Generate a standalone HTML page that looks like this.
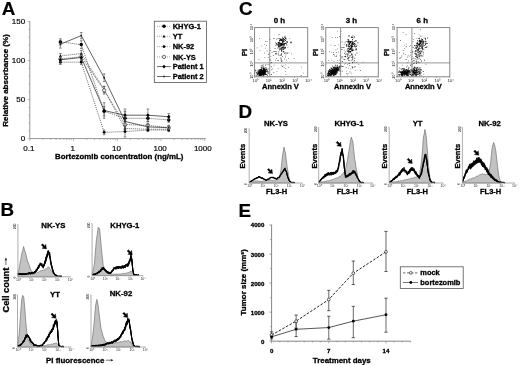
<!DOCTYPE html>
<html><head><meta charset="utf-8"><title>Figure</title>
<style>html,body{margin:0;padding:0;background:#fff;}body{width:520px;height:365px;overflow:hidden;}svg{display:block;font-family:"Liberation Sans",sans-serif;}</style></head><body>
<svg width="520" height="365" viewBox="0 0 520 365">
<rect width="520" height="365" fill="#fff"/>
<defs><filter id="soft" x="0" y="0" width="520" height="365" filterUnits="userSpaceOnUse"><feGaussianBlur stdDeviation="0.32"/></filter></defs>
<g id="fig" filter="url(#soft)">
<text x="1.7" y="15.1" font-size="18.8" font-weight="bold" text-anchor="start" fill="#000" stroke="#000" stroke-width="0.2">A</text>
<line x1="29.8" y1="21.1" x2="29.8" y2="138.6" stroke="#8a8a8a" stroke-width="0.9"/>
<line x1="29.8" y1="138.6" x2="205.6" y2="138.6" stroke="#8a8a8a" stroke-width="0.9"/>
<line x1="27.6" y1="138.6" x2="29.8" y2="138.6" stroke="#8a8a8a" stroke-width="0.6"/>
<line x1="28.6" y1="130.8" x2="29.8" y2="130.8" stroke="#8a8a8a" stroke-width="0.6"/>
<line x1="28.6" y1="123" x2="29.8" y2="123" stroke="#8a8a8a" stroke-width="0.6"/>
<line x1="28.6" y1="115.2" x2="29.8" y2="115.2" stroke="#8a8a8a" stroke-width="0.6"/>
<line x1="28.6" y1="107.4" x2="29.8" y2="107.4" stroke="#8a8a8a" stroke-width="0.6"/>
<line x1="27.6" y1="99.6" x2="29.8" y2="99.6" stroke="#8a8a8a" stroke-width="0.6"/>
<line x1="28.6" y1="91.8" x2="29.8" y2="91.8" stroke="#8a8a8a" stroke-width="0.6"/>
<line x1="28.6" y1="84" x2="29.8" y2="84" stroke="#8a8a8a" stroke-width="0.6"/>
<line x1="28.6" y1="76.2" x2="29.8" y2="76.2" stroke="#8a8a8a" stroke-width="0.6"/>
<line x1="28.6" y1="68.4" x2="29.8" y2="68.4" stroke="#8a8a8a" stroke-width="0.6"/>
<line x1="27.6" y1="60.6" x2="29.8" y2="60.6" stroke="#8a8a8a" stroke-width="0.6"/>
<line x1="28.6" y1="52.8" x2="29.8" y2="52.8" stroke="#8a8a8a" stroke-width="0.6"/>
<line x1="28.6" y1="45" x2="29.8" y2="45" stroke="#8a8a8a" stroke-width="0.6"/>
<line x1="28.6" y1="37.2" x2="29.8" y2="37.2" stroke="#8a8a8a" stroke-width="0.6"/>
<line x1="28.6" y1="29.4" x2="29.8" y2="29.4" stroke="#8a8a8a" stroke-width="0.6"/>
<line x1="27.6" y1="21.6" x2="29.8" y2="21.6" stroke="#8a8a8a" stroke-width="0.6"/>
<text x="25.2" y="141.2" font-size="8.0" font-weight="normal" text-anchor="end" fill="#000" stroke="#000" stroke-width="0.18">0</text>
<text x="25.2" y="102.2" font-size="8.0" font-weight="normal" text-anchor="end" fill="#000" stroke="#000" stroke-width="0.18">50</text>
<text x="25.2" y="63.2" font-size="8.0" font-weight="normal" text-anchor="end" fill="#000" stroke="#000" stroke-width="0.18">100</text>
<text x="25.2" y="24.2" font-size="8.0" font-weight="normal" text-anchor="end" fill="#000" stroke="#000" stroke-width="0.18">150</text>
<line x1="29.8" y1="138.6" x2="29.8" y2="141" stroke="#8a8a8a" stroke-width="0.6"/>
<line x1="42.97" y1="138.6" x2="42.97" y2="139.9" stroke="#8a8a8a" stroke-width="0.6"/>
<line x1="50.67" y1="138.6" x2="50.67" y2="139.9" stroke="#8a8a8a" stroke-width="0.6"/>
<line x1="56.14" y1="138.6" x2="56.14" y2="139.9" stroke="#8a8a8a" stroke-width="0.6"/>
<line x1="60.38" y1="138.6" x2="60.38" y2="139.9" stroke="#8a8a8a" stroke-width="0.6"/>
<line x1="63.84" y1="138.6" x2="63.84" y2="139.9" stroke="#8a8a8a" stroke-width="0.6"/>
<line x1="66.77" y1="138.6" x2="66.77" y2="139.9" stroke="#8a8a8a" stroke-width="0.6"/>
<line x1="69.31" y1="138.6" x2="69.31" y2="139.9" stroke="#8a8a8a" stroke-width="0.6"/>
<line x1="71.55" y1="138.6" x2="71.55" y2="139.9" stroke="#8a8a8a" stroke-width="0.6"/>
<line x1="73.55" y1="138.6" x2="73.55" y2="141" stroke="#8a8a8a" stroke-width="0.6"/>
<line x1="86.72" y1="138.6" x2="86.72" y2="139.9" stroke="#8a8a8a" stroke-width="0.6"/>
<line x1="94.42" y1="138.6" x2="94.42" y2="139.9" stroke="#8a8a8a" stroke-width="0.6"/>
<line x1="99.89" y1="138.6" x2="99.89" y2="139.9" stroke="#8a8a8a" stroke-width="0.6"/>
<line x1="104.13" y1="138.6" x2="104.13" y2="139.9" stroke="#8a8a8a" stroke-width="0.6"/>
<line x1="107.59" y1="138.6" x2="107.59" y2="139.9" stroke="#8a8a8a" stroke-width="0.6"/>
<line x1="110.52" y1="138.6" x2="110.52" y2="139.9" stroke="#8a8a8a" stroke-width="0.6"/>
<line x1="113.06" y1="138.6" x2="113.06" y2="139.9" stroke="#8a8a8a" stroke-width="0.6"/>
<line x1="115.3" y1="138.6" x2="115.3" y2="139.9" stroke="#8a8a8a" stroke-width="0.6"/>
<line x1="117.3" y1="138.6" x2="117.3" y2="141" stroke="#8a8a8a" stroke-width="0.6"/>
<line x1="130.47" y1="138.6" x2="130.47" y2="139.9" stroke="#8a8a8a" stroke-width="0.6"/>
<line x1="138.17" y1="138.6" x2="138.17" y2="139.9" stroke="#8a8a8a" stroke-width="0.6"/>
<line x1="143.64" y1="138.6" x2="143.64" y2="139.9" stroke="#8a8a8a" stroke-width="0.6"/>
<line x1="147.88" y1="138.6" x2="147.88" y2="139.9" stroke="#8a8a8a" stroke-width="0.6"/>
<line x1="151.34" y1="138.6" x2="151.34" y2="139.9" stroke="#8a8a8a" stroke-width="0.6"/>
<line x1="154.27" y1="138.6" x2="154.27" y2="139.9" stroke="#8a8a8a" stroke-width="0.6"/>
<line x1="156.81" y1="138.6" x2="156.81" y2="139.9" stroke="#8a8a8a" stroke-width="0.6"/>
<line x1="159.05" y1="138.6" x2="159.05" y2="139.9" stroke="#8a8a8a" stroke-width="0.6"/>
<line x1="161.05" y1="138.6" x2="161.05" y2="141" stroke="#8a8a8a" stroke-width="0.6"/>
<line x1="174.22" y1="138.6" x2="174.22" y2="139.9" stroke="#8a8a8a" stroke-width="0.6"/>
<line x1="181.92" y1="138.6" x2="181.92" y2="139.9" stroke="#8a8a8a" stroke-width="0.6"/>
<line x1="187.39" y1="138.6" x2="187.39" y2="139.9" stroke="#8a8a8a" stroke-width="0.6"/>
<line x1="191.63" y1="138.6" x2="191.63" y2="139.9" stroke="#8a8a8a" stroke-width="0.6"/>
<line x1="195.09" y1="138.6" x2="195.09" y2="139.9" stroke="#8a8a8a" stroke-width="0.6"/>
<line x1="198.02" y1="138.6" x2="198.02" y2="139.9" stroke="#8a8a8a" stroke-width="0.6"/>
<line x1="200.56" y1="138.6" x2="200.56" y2="139.9" stroke="#8a8a8a" stroke-width="0.6"/>
<line x1="202.8" y1="138.6" x2="202.8" y2="139.9" stroke="#8a8a8a" stroke-width="0.6"/>
<line x1="204.8" y1="138.6" x2="204.8" y2="141" stroke="#8a8a8a" stroke-width="0.6"/>
<text x="28.9" y="151.2" font-size="8.0" font-weight="normal" text-anchor="middle" fill="#000" stroke="#000" stroke-width="0.18">0.1</text>
<text x="72.65" y="151.2" font-size="8.0" font-weight="normal" text-anchor="middle" fill="#000" stroke="#000" stroke-width="0.18">1</text>
<text x="116.4" y="151.2" font-size="8.0" font-weight="normal" text-anchor="middle" fill="#000" stroke="#000" stroke-width="0.18">10</text>
<text x="160.15" y="151.2" font-size="8.0" font-weight="normal" text-anchor="middle" fill="#000" stroke="#000" stroke-width="0.18">100</text>
<text x="202.8" y="151.2" font-size="8.0" font-weight="normal" text-anchor="middle" fill="#000" stroke="#000" stroke-width="0.18">1000</text>
<text x="119.2" y="158.7" font-size="7.86" font-weight="bold" text-anchor="middle" fill="#000" stroke="#000" stroke-width="0.3">Bortezomib concentration (ng/mL)</text>
<text x="8.2" y="80.5" font-size="8.0" font-weight="bold" text-anchor="middle" fill="#000" transform="rotate(-90 8.2 80.5)" stroke="#000" stroke-width="0.3">Relative absorbance (%)</text>
<polyline points="60.38,41.88 81.25,44.61 104.13,111.3 125,118.32 147.88,118.32 168.75,119.88" fill="none" stroke="#444" stroke-width="0.8" stroke-linejoin="round" stroke-dasharray="1 1"/>
<polyline points="60.38,55.92 81.25,53.58 104.13,89.46 125,128.46 147.88,129.24 168.75,129.24" fill="none" stroke="#444" stroke-width="0.8" stroke-linejoin="round" stroke-dasharray="1 1"/>
<polyline points="60.38,62.16 81.25,62.16 104.13,132.36 125,131.58 147.88,130.02 168.75,130.02" fill="none" stroke="#444" stroke-width="0.8" stroke-linejoin="round" stroke-dasharray="1 1"/>
<polyline points="60.38,59.04 81.25,56.7 104.13,90.24 125,124.56 147.88,125.34 168.75,127.68" fill="none" stroke="#444" stroke-width="0.8" stroke-linejoin="round" stroke-dasharray="1 1"/>
<polyline points="60.38,59.82 81.25,57.48 104.13,110.52 125,115.2 147.88,115.2 168.75,116.76" fill="none" stroke="#3a3a3a" stroke-width="0.8" stroke-linejoin="round"/>
<polyline points="60.38,44.22 81.25,35.64 104.13,77.76 125,121.44 147.88,126.9 168.75,127.68" fill="none" stroke="#3a3a3a" stroke-width="0.8" stroke-linejoin="round"/>
<line x1="60.38" y1="38.76" x2="60.38" y2="45" stroke="#444" stroke-width="0.6"/>
<line x1="59.08" y1="38.76" x2="61.68" y2="38.76" stroke="#444" stroke-width="0.6"/>
<line x1="59.08" y1="45" x2="61.68" y2="45" stroke="#444" stroke-width="0.6"/>
<circle cx="60.38" cy="41.88" r="1.75" fill="#000"/>
<line x1="81.25" y1="40.71" x2="81.25" y2="48.51" stroke="#444" stroke-width="0.6"/>
<line x1="79.95" y1="40.71" x2="82.55" y2="40.71" stroke="#444" stroke-width="0.6"/>
<line x1="79.95" y1="48.51" x2="82.55" y2="48.51" stroke="#444" stroke-width="0.6"/>
<circle cx="81.25" cy="44.61" r="1.75" fill="#000"/>
<line x1="104.13" y1="106.62" x2="104.13" y2="115.98" stroke="#444" stroke-width="0.6"/>
<line x1="102.83" y1="106.62" x2="105.43" y2="106.62" stroke="#444" stroke-width="0.6"/>
<line x1="102.83" y1="115.98" x2="105.43" y2="115.98" stroke="#444" stroke-width="0.6"/>
<circle cx="104.13" cy="111.3" r="1.75" fill="#000"/>
<line x1="125" y1="111.3" x2="125" y2="125.34" stroke="#444" stroke-width="0.6"/>
<line x1="123.7" y1="111.3" x2="126.3" y2="111.3" stroke="#444" stroke-width="0.6"/>
<line x1="123.7" y1="125.34" x2="126.3" y2="125.34" stroke="#444" stroke-width="0.6"/>
<circle cx="125" cy="118.32" r="1.75" fill="#000"/>
<line x1="147.88" y1="115.2" x2="147.88" y2="121.44" stroke="#444" stroke-width="0.6"/>
<line x1="146.58" y1="115.2" x2="149.18" y2="115.2" stroke="#444" stroke-width="0.6"/>
<line x1="146.58" y1="121.44" x2="149.18" y2="121.44" stroke="#444" stroke-width="0.6"/>
<circle cx="147.88" cy="118.32" r="1.75" fill="#000"/>
<line x1="168.75" y1="117.54" x2="168.75" y2="122.22" stroke="#444" stroke-width="0.6"/>
<line x1="167.45" y1="117.54" x2="170.05" y2="117.54" stroke="#444" stroke-width="0.6"/>
<line x1="167.45" y1="122.22" x2="170.05" y2="122.22" stroke="#444" stroke-width="0.6"/>
<circle cx="168.75" cy="119.88" r="1.75" fill="#000"/>
<line x1="60.38" y1="53.58" x2="60.38" y2="58.26" stroke="#444" stroke-width="0.6"/>
<line x1="59.08" y1="53.58" x2="61.68" y2="53.58" stroke="#444" stroke-width="0.6"/>
<line x1="59.08" y1="58.26" x2="61.68" y2="58.26" stroke="#444" stroke-width="0.6"/>
<polygon points="60.38,54.42 58.98,57.12 61.78,57.12" fill="#000"/>
<line x1="81.25" y1="50.46" x2="81.25" y2="56.7" stroke="#444" stroke-width="0.6"/>
<line x1="79.95" y1="50.46" x2="82.55" y2="50.46" stroke="#444" stroke-width="0.6"/>
<line x1="79.95" y1="56.7" x2="82.55" y2="56.7" stroke="#444" stroke-width="0.6"/>
<polygon points="81.25,52.08 79.85,54.78 82.65,54.78" fill="#000"/>
<line x1="104.13" y1="86.34" x2="104.13" y2="92.58" stroke="#444" stroke-width="0.6"/>
<line x1="102.83" y1="86.34" x2="105.43" y2="86.34" stroke="#444" stroke-width="0.6"/>
<line x1="102.83" y1="92.58" x2="105.43" y2="92.58" stroke="#444" stroke-width="0.6"/>
<polygon points="104.13,87.96 102.73,90.66 105.53,90.66" fill="#000"/>
<line x1="125" y1="125.34" x2="125" y2="131.58" stroke="#444" stroke-width="0.6"/>
<line x1="123.7" y1="125.34" x2="126.3" y2="125.34" stroke="#444" stroke-width="0.6"/>
<line x1="123.7" y1="131.58" x2="126.3" y2="131.58" stroke="#444" stroke-width="0.6"/>
<polygon points="125,126.96 123.6,129.66 126.4,129.66" fill="#000"/>
<line x1="147.88" y1="127.68" x2="147.88" y2="130.8" stroke="#444" stroke-width="0.6"/>
<line x1="146.58" y1="127.68" x2="149.18" y2="127.68" stroke="#444" stroke-width="0.6"/>
<line x1="146.58" y1="130.8" x2="149.18" y2="130.8" stroke="#444" stroke-width="0.6"/>
<polygon points="147.88,127.74 146.48,130.44 149.28,130.44" fill="#000"/>
<line x1="168.75" y1="127.68" x2="168.75" y2="130.8" stroke="#444" stroke-width="0.6"/>
<line x1="167.45" y1="127.68" x2="170.05" y2="127.68" stroke="#444" stroke-width="0.6"/>
<line x1="167.45" y1="130.8" x2="170.05" y2="130.8" stroke="#444" stroke-width="0.6"/>
<polygon points="168.75,127.74 167.35,130.44 170.15,130.44" fill="#000"/>
<line x1="60.38" y1="59.82" x2="60.38" y2="64.5" stroke="#444" stroke-width="0.6"/>
<line x1="59.08" y1="59.82" x2="61.68" y2="59.82" stroke="#444" stroke-width="0.6"/>
<line x1="59.08" y1="64.5" x2="61.68" y2="64.5" stroke="#444" stroke-width="0.6"/>
<circle cx="60.38" cy="62.16" r="1.4" fill="#000"/>
<line x1="81.25" y1="59.82" x2="81.25" y2="64.5" stroke="#444" stroke-width="0.6"/>
<line x1="79.95" y1="59.82" x2="82.55" y2="59.82" stroke="#444" stroke-width="0.6"/>
<line x1="79.95" y1="64.5" x2="82.55" y2="64.5" stroke="#444" stroke-width="0.6"/>
<circle cx="81.25" cy="62.16" r="1.4" fill="#000"/>
<line x1="104.13" y1="130.02" x2="104.13" y2="134.7" stroke="#444" stroke-width="0.6"/>
<line x1="102.83" y1="130.02" x2="105.43" y2="130.02" stroke="#444" stroke-width="0.6"/>
<line x1="102.83" y1="134.7" x2="105.43" y2="134.7" stroke="#444" stroke-width="0.6"/>
<circle cx="104.13" cy="132.36" r="1.4" fill="#000"/>
<line x1="125" y1="126.12" x2="125" y2="137.04" stroke="#444" stroke-width="0.6"/>
<line x1="123.7" y1="126.12" x2="126.3" y2="126.12" stroke="#444" stroke-width="0.6"/>
<line x1="123.7" y1="137.04" x2="126.3" y2="137.04" stroke="#444" stroke-width="0.6"/>
<circle cx="125" cy="131.58" r="1.4" fill="#000"/>
<line x1="147.88" y1="128.46" x2="147.88" y2="131.58" stroke="#444" stroke-width="0.6"/>
<line x1="146.58" y1="128.46" x2="149.18" y2="128.46" stroke="#444" stroke-width="0.6"/>
<line x1="146.58" y1="131.58" x2="149.18" y2="131.58" stroke="#444" stroke-width="0.6"/>
<circle cx="147.88" cy="130.02" r="1.4" fill="#000"/>
<line x1="168.75" y1="128.46" x2="168.75" y2="131.58" stroke="#444" stroke-width="0.6"/>
<line x1="167.45" y1="128.46" x2="170.05" y2="128.46" stroke="#444" stroke-width="0.6"/>
<line x1="167.45" y1="131.58" x2="170.05" y2="131.58" stroke="#444" stroke-width="0.6"/>
<circle cx="168.75" cy="130.02" r="1.4" fill="#000"/>
<line x1="60.38" y1="56.7" x2="60.38" y2="61.38" stroke="#444" stroke-width="0.6"/>
<line x1="59.08" y1="56.7" x2="61.68" y2="56.7" stroke="#444" stroke-width="0.6"/>
<line x1="59.08" y1="61.38" x2="61.68" y2="61.38" stroke="#444" stroke-width="0.6"/>
<circle cx="60.38" cy="59.04" r="1.7" fill="#e8e8e8" stroke="#444" stroke-width="0.7"/>
<line x1="81.25" y1="53.58" x2="81.25" y2="59.82" stroke="#444" stroke-width="0.6"/>
<line x1="79.95" y1="53.58" x2="82.55" y2="53.58" stroke="#444" stroke-width="0.6"/>
<line x1="79.95" y1="59.82" x2="82.55" y2="59.82" stroke="#444" stroke-width="0.6"/>
<circle cx="81.25" cy="56.7" r="1.7" fill="#e8e8e8" stroke="#444" stroke-width="0.7"/>
<line x1="104.13" y1="86.34" x2="104.13" y2="94.14" stroke="#444" stroke-width="0.6"/>
<line x1="102.83" y1="86.34" x2="105.43" y2="86.34" stroke="#444" stroke-width="0.6"/>
<line x1="102.83" y1="94.14" x2="105.43" y2="94.14" stroke="#444" stroke-width="0.6"/>
<circle cx="104.13" cy="90.24" r="1.7" fill="#e8e8e8" stroke="#444" stroke-width="0.7"/>
<line x1="125" y1="120.66" x2="125" y2="128.46" stroke="#444" stroke-width="0.6"/>
<line x1="123.7" y1="120.66" x2="126.3" y2="120.66" stroke="#444" stroke-width="0.6"/>
<line x1="123.7" y1="128.46" x2="126.3" y2="128.46" stroke="#444" stroke-width="0.6"/>
<circle cx="125" cy="124.56" r="1.7" fill="#e8e8e8" stroke="#444" stroke-width="0.7"/>
<line x1="147.88" y1="123" x2="147.88" y2="127.68" stroke="#444" stroke-width="0.6"/>
<line x1="146.58" y1="123" x2="149.18" y2="123" stroke="#444" stroke-width="0.6"/>
<line x1="146.58" y1="127.68" x2="149.18" y2="127.68" stroke="#444" stroke-width="0.6"/>
<circle cx="147.88" cy="125.34" r="1.7" fill="#e8e8e8" stroke="#444" stroke-width="0.7"/>
<line x1="168.75" y1="126.12" x2="168.75" y2="129.24" stroke="#444" stroke-width="0.6"/>
<line x1="167.45" y1="126.12" x2="170.05" y2="126.12" stroke="#444" stroke-width="0.6"/>
<line x1="167.45" y1="129.24" x2="170.05" y2="129.24" stroke="#444" stroke-width="0.6"/>
<circle cx="168.75" cy="127.68" r="1.7" fill="#e8e8e8" stroke="#444" stroke-width="0.7"/>
<line x1="60.38" y1="56.7" x2="60.38" y2="62.94" stroke="#444" stroke-width="0.6"/>
<line x1="59.08" y1="56.7" x2="61.68" y2="56.7" stroke="#444" stroke-width="0.6"/>
<line x1="59.08" y1="62.94" x2="61.68" y2="62.94" stroke="#444" stroke-width="0.6"/>
<polygon points="60.38,57.92 62.08,59.82 60.38,61.72 58.68,59.82" fill="#000"/>
<line x1="81.25" y1="54.36" x2="81.25" y2="60.6" stroke="#444" stroke-width="0.6"/>
<line x1="79.95" y1="54.36" x2="82.55" y2="54.36" stroke="#444" stroke-width="0.6"/>
<line x1="79.95" y1="60.6" x2="82.55" y2="60.6" stroke="#444" stroke-width="0.6"/>
<polygon points="81.25,55.58 82.95,57.48 81.25,59.38 79.55,57.48" fill="#000"/>
<line x1="104.13" y1="102.72" x2="104.13" y2="118.32" stroke="#444" stroke-width="0.6"/>
<line x1="102.83" y1="102.72" x2="105.43" y2="102.72" stroke="#444" stroke-width="0.6"/>
<line x1="102.83" y1="118.32" x2="105.43" y2="118.32" stroke="#444" stroke-width="0.6"/>
<polygon points="104.13,108.62 105.83,110.52 104.13,112.42 102.43,110.52" fill="#000"/>
<line x1="125" y1="108.96" x2="125" y2="121.44" stroke="#444" stroke-width="0.6"/>
<line x1="123.7" y1="108.96" x2="126.3" y2="108.96" stroke="#444" stroke-width="0.6"/>
<line x1="123.7" y1="121.44" x2="126.3" y2="121.44" stroke="#444" stroke-width="0.6"/>
<polygon points="125,113.3 126.7,115.2 125,117.1 123.3,115.2" fill="#000"/>
<line x1="147.88" y1="108.96" x2="147.88" y2="121.44" stroke="#444" stroke-width="0.6"/>
<line x1="146.58" y1="108.96" x2="149.18" y2="108.96" stroke="#444" stroke-width="0.6"/>
<line x1="146.58" y1="121.44" x2="149.18" y2="121.44" stroke="#444" stroke-width="0.6"/>
<polygon points="147.88,113.3 149.58,115.2 147.88,117.1 146.18,115.2" fill="#000"/>
<line x1="168.75" y1="113.64" x2="168.75" y2="119.88" stroke="#444" stroke-width="0.6"/>
<line x1="167.45" y1="113.64" x2="170.05" y2="113.64" stroke="#444" stroke-width="0.6"/>
<line x1="167.45" y1="119.88" x2="170.05" y2="119.88" stroke="#444" stroke-width="0.6"/>
<polygon points="168.75,114.86 170.45,116.76 168.75,118.66 167.05,116.76" fill="#000"/>
<line x1="60.38" y1="40.32" x2="60.38" y2="48.12" stroke="#444" stroke-width="0.6"/>
<line x1="59.08" y1="40.32" x2="61.68" y2="40.32" stroke="#444" stroke-width="0.6"/>
<line x1="59.08" y1="48.12" x2="61.68" y2="48.12" stroke="#444" stroke-width="0.6"/>
<rect x="59.58" y="43.42" width="1.6" height="1.6" fill="#222"/>
<line x1="81.25" y1="32.52" x2="81.25" y2="38.76" stroke="#444" stroke-width="0.6"/>
<line x1="79.95" y1="32.52" x2="82.55" y2="32.52" stroke="#444" stroke-width="0.6"/>
<line x1="79.95" y1="38.76" x2="82.55" y2="38.76" stroke="#444" stroke-width="0.6"/>
<rect x="80.45" y="34.84" width="1.6" height="1.6" fill="#222"/>
<line x1="104.13" y1="73.86" x2="104.13" y2="81.66" stroke="#444" stroke-width="0.6"/>
<line x1="102.83" y1="73.86" x2="105.43" y2="73.86" stroke="#444" stroke-width="0.6"/>
<line x1="102.83" y1="81.66" x2="105.43" y2="81.66" stroke="#444" stroke-width="0.6"/>
<rect x="103.33" y="76.96" width="1.6" height="1.6" fill="#222"/>
<line x1="125" y1="116.76" x2="125" y2="126.12" stroke="#444" stroke-width="0.6"/>
<line x1="123.7" y1="116.76" x2="126.3" y2="116.76" stroke="#444" stroke-width="0.6"/>
<line x1="123.7" y1="126.12" x2="126.3" y2="126.12" stroke="#444" stroke-width="0.6"/>
<rect x="124.2" y="120.64" width="1.6" height="1.6" fill="#222"/>
<line x1="147.88" y1="124.56" x2="147.88" y2="129.24" stroke="#444" stroke-width="0.6"/>
<line x1="146.58" y1="124.56" x2="149.18" y2="124.56" stroke="#444" stroke-width="0.6"/>
<line x1="146.58" y1="129.24" x2="149.18" y2="129.24" stroke="#444" stroke-width="0.6"/>
<rect x="147.08" y="126.1" width="1.6" height="1.6" fill="#222"/>
<line x1="168.75" y1="125.34" x2="168.75" y2="130.02" stroke="#444" stroke-width="0.6"/>
<line x1="167.45" y1="125.34" x2="170.05" y2="125.34" stroke="#444" stroke-width="0.6"/>
<line x1="167.45" y1="130.02" x2="170.05" y2="130.02" stroke="#444" stroke-width="0.6"/>
<rect x="167.95" y="126.88" width="1.6" height="1.6" fill="#222"/>
<rect x="154.3" y="21.2" width="52.1" height="61.3" fill="#fff" stroke="#555" stroke-width="0.8"/>
<line x1="157" y1="26.3" x2="170.6" y2="26.3" stroke="#888" stroke-width="0.7" stroke-dasharray="1 1"/>
<circle cx="164" cy="26.3" r="1.75" fill="#000"/>
<text x="172.7" y="29" font-size="7.45" font-weight="bold" text-anchor="start" fill="#000" stroke="#000" stroke-width="0.3">KHYG-1</text>
<line x1="157" y1="36.3" x2="170.6" y2="36.3" stroke="#888" stroke-width="0.7" stroke-dasharray="1 1"/>
<polygon points="164,34.8 162.6,37.5 165.4,37.5" fill="#000"/>
<text x="172.7" y="39" font-size="7.45" font-weight="bold" text-anchor="start" fill="#000" stroke="#000" stroke-width="0.3">YT</text>
<line x1="157" y1="46.6" x2="170.6" y2="46.6" stroke="#888" stroke-width="0.7" stroke-dasharray="1 1"/>
<circle cx="164" cy="46.6" r="1.4" fill="#000"/>
<text x="172.7" y="49.3" font-size="7.45" font-weight="bold" text-anchor="start" fill="#000" stroke="#000" stroke-width="0.3">NK-92</text>
<line x1="157" y1="56.9" x2="170.6" y2="56.9" stroke="#888" stroke-width="0.7" stroke-dasharray="1 1"/>
<circle cx="164" cy="56.9" r="1.7" fill="#e8e8e8" stroke="#444" stroke-width="0.7"/>
<text x="172.7" y="59.6" font-size="7.45" font-weight="bold" text-anchor="start" fill="#000" stroke="#000" stroke-width="0.3">NK-YS</text>
<line x1="157" y1="66.6" x2="170.6" y2="66.6" stroke="#444" stroke-width="0.8"/>
<polygon points="164,64.7 165.7,66.6 164,68.5 162.3,66.6" fill="#000"/>
<text x="172.7" y="69.3" font-size="7.45" font-weight="bold" text-anchor="start" fill="#000" stroke="#000" stroke-width="0.3">Patient 1</text>
<line x1="157" y1="76.5" x2="170.6" y2="76.5" stroke="#444" stroke-width="0.8"/>
<rect x="163.2" y="75.7" width="1.6" height="1.6" fill="#222"/>
<text x="172.7" y="79.2" font-size="7.45" font-weight="bold" text-anchor="start" fill="#000" stroke="#000" stroke-width="0.3">Patient 2</text>
<text x="0.5" y="216.2" font-size="18.8" font-weight="bold" text-anchor="start" fill="#000" stroke="#000" stroke-width="0.2">B</text>
<text x="9.2" y="290.1" font-size="9.3" font-weight="bold" text-anchor="middle" fill="#000" transform="rotate(-90 9.2 290.1)" stroke="#000" stroke-width="0.3">Cell count</text>
<line x1="5.9" y1="265" x2="5.9" y2="258.4" stroke="#333" stroke-width="0.7"/>
<polygon points="5.9,257.6 7.2,260.2 4.6,260.2" fill="#333"/>
<text x="46" y="362.8" font-size="7.9" font-weight="bold" text-anchor="start" fill="#000" stroke="#000" stroke-width="0.3">PI fluorescence</text>
<line x1="106" y1="360.2" x2="112.6" y2="360.2" stroke="#333" stroke-width="0.7"/>
<polygon points="113.4,360.2 110.8,361.5 110.8,358.9" fill="#333"/>
<text x="53.4" y="227.6" font-size="7.8" font-weight="bold" text-anchor="middle" fill="#000" stroke="#000" stroke-width="0.3">NK-YS</text>
<text x="124.8" y="227.8" font-size="7.65" font-weight="bold" text-anchor="middle" fill="#000" stroke="#000" stroke-width="0.3">KHYG-1</text>
<text x="55" y="297" font-size="7.8" font-weight="bold" text-anchor="middle" fill="#000" stroke="#000" stroke-width="0.3">YT</text>
<text x="121" y="296" font-size="7.8" font-weight="bold" text-anchor="middle" fill="#000" stroke="#000" stroke-width="0.3">NK-92</text>
<polygon points="18,276.8 18,274.93 18.8,270.26 19.6,266.13 20.27,261.9 20.93,258.71 21.6,254.83 22.27,251.82 22.93,249.81 23.6,246.54 24.5,250.01 25.4,252.44 26.13,255.17 26.87,258.25 27.6,261.35 28.32,262.58 29.04,264.66 29.76,266.99 30.48,269.19 31.2,270.85 31.83,271.2 32.47,272.04 33.1,271.92 33.73,272.87 34.37,273.02 35,273.42 35.62,273.09 36.25,272.89 36.88,272.88 37.5,272.21 38.12,272.15 38.75,271.89 39.38,271.42 40,271.23 40.67,270.71 41.33,270.5 42,270.4 42.67,270.53 43.33,270.15 44,269.87 44.65,269.66 45.3,269.16 45.95,268.64 46.6,268.63 47.5,267.86 48.4,266.78 49.2,267.86 50,268.62 50.65,269.88 51.3,270.76 51.95,271.46 52.6,272.88 53.28,273.24 53.96,274.24 54.64,275.22 55.32,275.86 56,276.8 56,276.8" fill="#c2c2c2" stroke="#6a6a6a" stroke-width="0.65" stroke-linejoin="round"/>
<polyline points="18,273.99 18.44,273.48 18.89,274.24 19.33,274.37 19.78,274.17 20.22,274.55 20.67,273.92 21.11,274.38 21.56,274.29 22,274.29 22.43,274.11 22.86,274.51 23.29,274.59 23.71,274 24.14,274.18 24.57,273.42 25,274.14 25.43,274.03 25.86,274.41 26.29,274.16 26.71,273.46 27.14,273.55 27.57,273.85 28,273.01 28.45,273.5 28.91,273.07 29.36,272.95 29.82,272.82 30.27,273.67 30.73,272.79 31.18,272.89 31.64,273.02 32.09,273.6 32.55,272.5 33,272.93 33.43,272.8 33.87,273.01 34.3,272.67 34.73,272.48 35.17,271.33 35.6,271.27 36.08,270.49 36.56,270.71 37.04,270.19 37.52,268.02 38,267.37 38.43,266.83 38.87,266.18 39.3,266.07 39.73,265.66 40.17,264.3 40.6,263.06 41.07,264.35 41.53,264.57 42,265.35 42.6,266.97 43.2,267.19 43.73,265.57 44.27,264.54 44.8,263.42 45.25,260.38 45.7,261.05 46.15,259.27 46.6,258.06 47.02,256.67 47.45,254.28 47.88,253.09 48.3,250.95 48.73,253.22 49.17,252.05 49.6,252.69 50.1,256.68 50.6,260.14 51.07,262.95 51.53,264.69 52,267.02 52.47,268.91 52.93,270.43 53.4,272.41 53.93,272.65 54.47,274.38 55,274.72 55.48,274.59 55.96,275.05 56.44,275.49 56.92,275.86 57.4,276.07 57.86,276.53 58.32,276.6 58.78,276.34 59.24,276.37 59.7,276.17 60.16,276.2 60.62,276.36 61.08,276.34 61.54,276.6 62,276.5" fill="none" stroke="#000" stroke-width="0.9299999999999999" stroke-linejoin="round"/>
<polyline points="18,273.49 18.4,273.31 18.8,274.71 19.2,274.1 19.6,273.56 20,274.16 20.4,273.42 20.8,274.18 21.2,274.86 21.6,274.71 22,274.49 22.4,273.81 22.8,273.92 23.2,273.59 23.6,274.45 24,274.05 24.4,274.38 24.8,273.66 25.2,273.46 25.6,274.32 26,274.55 26.4,274.31 26.8,274.2 27.2,274.18 27.6,274.02 28,273.16 28.42,273.58 28.83,273.27 29.25,272.69 29.67,272.63 30.08,272.99 30.5,272.9 30.92,273.57 31.33,273.96 31.75,273.06 32.17,273.84 32.58,273.88 33,273.78 33.43,272.49 33.87,271.96 34.3,271.69 34.73,271.35 35.17,271.09 35.6,271.65 36,271.67 36.4,271.01 36.8,269.65 37.2,269.49 37.6,269.29 38,266.96 38.43,267.78 38.87,267.82 39.3,266.87 39.73,266.17 40.17,264.77 40.6,263.25 41.07,265.37 41.53,264.39 42,266.05 42.4,267.04 42.8,265.98 43.2,266.54 43.6,267.08 44,265.54 44.4,262.97 44.8,261.86 45.25,260.38 45.7,261.36 46.15,259.57 46.6,255.71 47.02,257.02 47.45,256.44 47.88,254.02 48.3,251.6 48.73,252.99 49.17,251.95 49.6,252.11 50.1,259.19 50.6,261.49 51.07,263.41 51.53,266.87 52,267.83 52.47,270.38 52.93,271.74 53.4,272.08 53.8,272.68 54.2,273.27 54.6,273.72 55,274.72 55.4,274.57 55.8,275.07 56.2,275.04 56.6,276.15 57,275.89 57.4,276.27 57.82,276.38 58.24,276.6 58.65,276.3 59.07,276.6 59.49,276.39 59.91,276.43 60.33,276.44 60.75,276.12 61.16,276.42 61.58,276.27 62,276.5" fill="none" stroke="#000" stroke-width="0.9299999999999999" stroke-linejoin="round"/>
<polyline points="18,273.09 18.36,274.56 18.73,273.44 19.09,274.01 19.45,274.48 19.82,274.19 20.18,273.8 20.55,274.16 20.91,274.24 21.27,274.67 21.64,273.48 22,274.31 22.38,273.71 22.75,273.72 23.12,274.58 23.5,274.06 23.88,274.13 24.25,274.45 24.62,274.7 25,273.79 25.38,274.07 25.75,273.84 26.12,273.81 26.5,274.12 26.88,273.62 27.25,273.74 27.62,273.6 28,274.46 28.38,273.94 28.77,274.25 29.15,274.33 29.54,272.94 29.92,273.49 30.31,274.21 30.69,273.96 31.08,272.49 31.46,272.41 31.85,273.02 32.23,272.21 32.62,272.51 33,272.11 33.37,273.13 33.74,273.17 34.11,273.21 34.49,271.29 34.86,272.36 35.23,272.01 35.6,270.53 36,271.81 36.4,271.51 36.8,268.93 37.2,270.42 37.6,268.27 38,267.96 38.37,268.99 38.74,267.98 39.11,265.26 39.49,265.6 39.86,265.34 40.23,264.18 40.6,263.11 41.07,263.89 41.53,265.64 42,263.54 42.4,265.92 42.8,266.07 43.2,265.25 43.6,265.28 44,265.33 44.4,263.99 44.8,261.37 45.16,263.68 45.52,261.76 45.88,261.36 46.24,256.5 46.6,255.96 47.02,253.71 47.45,255.9 47.88,252.3 48.3,250.39 48.73,252.42 49.17,255.37 49.6,255.51 50.1,256.45 50.6,259.6 51.07,264.88 51.53,265.91 52,268.61 52.47,268.39 52.93,269.96 53.4,273.01 53.8,272.95 54.2,272.77 54.6,274.89 55,274.82 55.4,275.35 55.8,274.56 56.2,275.93 56.6,275.2 57,276.41 57.4,276.26 57.78,276.17 58.17,276.38 58.55,276.6 58.93,276.16 59.32,276.06 59.7,276.42 60.08,276.2 60.47,276.11 60.85,276.17 61.23,276.1 61.62,276.25 62,276.5" fill="none" stroke="#000" stroke-width="0.9299999999999999" stroke-linejoin="round"/>
<polyline points="18,273.59 18.33,273.6 18.67,274.59 19,273.6 19.33,274.07 19.67,273.4 20,273.77 20.33,273.1 20.67,273.61 21,273.13 21.33,274.66 21.67,274.29 22,273.55 22.33,274.11 22.67,275.05 23,273.26 23.33,274.75 23.67,273.89 24,273.99 24.33,274.69 24.67,273.7 25,273.91 25.33,274.28 25.67,274.9 26,273.45 26.33,274.51 26.67,274.2 27,274.01 27.33,273.45 27.67,273.29 28,272.58 28.33,272.71 28.67,272.53 29,274.04 29.33,272.87 29.67,272.61 30,272.38 30.33,274.13 30.67,274.16 31,273.65 31.33,272.68 31.67,272.54 32,272.62 32.33,272.98 32.67,272.2 33,272.87 33.37,272.17 33.74,273.74 34.11,273.57 34.49,272.21 34.86,271.15 35.23,272.94 35.6,270.85 35.94,270.49 36.29,268.89 36.63,269.56 36.97,269.37 37.31,268.98 37.66,267.44 38,268.02 38.37,265.64 38.74,266.02 39.11,264.78 39.49,265.43 39.86,263.43 40.23,262.77 40.6,263.37 40.95,263.33 41.3,265.05 41.65,265.07 42,266.22 42.4,266.36 42.8,267.11 43.2,268.24 43.6,265.41 44,264.19 44.4,266.01 44.8,261.46 45.16,262.83 45.52,261.28 45.88,257.16 46.24,259.9 46.6,259.04 46.94,256.72 47.28,256.35 47.62,255.85 47.96,251.12 48.3,252.34 48.73,252.82 49.17,255.29 49.6,255.7 49.93,258.06 50.27,259.09 50.6,262.84 50.95,263.56 51.3,265.31 51.65,265.2 52,266.32 52.35,267.92 52.7,269.87 53.05,270.32 53.4,273.46 53.8,273.24 54.2,273.89 54.6,274.37 55,274.95 55.34,274.82 55.69,274.21 56.03,275.82 56.37,275.95 56.71,275.82 57.06,276.1 57.4,276.47 57.75,275.85 58.11,276.58 58.46,276.08 58.82,275.92 59.17,276.13 59.52,276.6 59.88,276.11 60.23,276.6 60.58,276.6 60.94,276.45 61.29,276.36 61.65,276.46 62,276.5" fill="none" stroke="#000" stroke-width="0.9299999999999999" stroke-linejoin="round"/>
<line x1="17.9" y1="224.6" x2="17.9" y2="276.8" stroke="#999" stroke-width="0.8"/>
<line x1="17.9" y1="276.8" x2="70.6" y2="276.8" stroke="#999" stroke-width="0.8"/>
<text x="16.2" y="226.4" font-size="3.3" text-anchor="middle" fill="#111" transform="rotate(-90 16.2 226.4)">200</text>
<text x="15.8" y="277.5" font-size="3.0" text-anchor="middle" fill="#000" transform="rotate(-90 15.8 277.5)">0</text>
<line x1="16.9" y1="224.6" x2="17.9" y2="224.6" stroke="#999" stroke-width="0.5"/>
<text x="18.5" y="281" font-size="3.5" text-anchor="middle" fill="#333">10&#8304;</text>
<line x1="17.9" y1="276.8" x2="17.9" y2="278" stroke="#999" stroke-width="0.5"/>
<text x="31.48" y="281" font-size="3.5" text-anchor="middle" fill="#333">10&#185;</text>
<line x1="30.88" y1="276.8" x2="30.88" y2="278" stroke="#999" stroke-width="0.5"/>
<text x="44.45" y="281" font-size="3.5" text-anchor="middle" fill="#333">10&#178;</text>
<line x1="43.85" y1="276.8" x2="43.85" y2="278" stroke="#999" stroke-width="0.5"/>
<text x="57.43" y="281" font-size="3.5" text-anchor="middle" fill="#333">10&#179;</text>
<line x1="56.83" y1="276.8" x2="56.83" y2="278" stroke="#999" stroke-width="0.5"/>
<text x="70.41" y="281" font-size="3.5" text-anchor="middle" fill="#333">10&#8308;</text>
<line x1="69.81" y1="276.8" x2="69.81" y2="278" stroke="#999" stroke-width="0.5"/>
<polygon points="46.48,248.88 41.96,248.18 43.51,247.19 41.32,244.99 42.59,243.72 44.79,245.91 45.78,244.36" fill="#000" stroke="#000" stroke-width="0.4" stroke-linejoin="round"/>
<polygon points="92.3,275.6 92.3,274.07 93,270.83 93.7,267.43 94.4,264.13 95.07,255.5 95.73,247.51 96.4,239.62 97.3,234.21 98.2,227.25 98.9,228.67 99.6,228.64 100.2,234.94 100.8,241.48 101.4,248.24 102.3,256.72 103.2,265.16 104,267.24 104.8,269.81 105.6,272.18 106.24,272.39 106.88,272.43 107.52,273.02 108.16,272.9 108.8,273.47 109.44,273.65 110.08,273.47 110.72,273.86 111.36,274.21 112,274.47 112.62,274.26 113.23,274.17 113.85,274.12 114.46,274.37 115.08,274.08 115.69,274.19 116.31,274 116.92,274.12 117.54,274.26 118.15,273.93 118.77,274.17 119.38,274.03 120,274.15 120.64,274.01 121.27,273.75 121.91,273.94 122.55,273.7 123.18,273.44 123.82,273.35 124.45,273.49 125.09,273.4 125.73,273.26 126.36,273.11 127,273.13 127.67,272.78 128.33,272.71 129,271.93 129.67,272.01 130.33,271.73 131,270.97 131.8,272.23 132.6,272.9 133.2,273.9 133.8,274.6 134.4,275.6 134.4,275.6" fill="#c2c2c2" stroke="#6a6a6a" stroke-width="0.65" stroke-linejoin="round"/>
<polyline points="92.3,274.5 92.76,274.44 93.22,274.86 93.69,274.45 94.15,274.18 94.61,274.16 95.08,273.95 95.54,273.66 96,273.63 96.42,274.06 96.85,273.22 97.28,273.66 97.7,272.61 98.12,272.34 98.55,272.36 98.98,271.67 99.4,271.63 99.84,271.97 100.28,271.41 100.72,270.84 101.16,270.09 101.6,270.09 102.13,269.69 102.67,268.55 103.2,268.4 103.65,267.7 104.1,269.4 104.55,269.42 105,270.4 105.48,270.66 105.96,270.56 106.44,270.68 106.92,272.34 107.4,271.72 107.83,272.33 108.27,272.34 108.7,272.46 109.13,273.15 109.57,273.57 110,272.94 110.5,272.93 111,272.05 111.5,271.93 112,271.25 112.45,270.2 112.9,269.46 113.35,268.81 113.8,269.31 114.24,268.47 114.68,267.86 115.12,268.97 115.56,269.02 116,267.91 116.43,267.25 116.86,267.26 117.29,266.98 117.71,267.36 118.14,266.81 118.57,266.99 119,266.94 119.43,267.5 119.86,268.08 120.29,267.79 120.71,267.12 121.14,267.09 121.57,267.27 122,266.96 122.43,266.77 122.86,266.12 123.29,266.42 123.71,267.66 124.14,265.89 124.57,266.52 125,266.66 125.43,266.93 125.86,265.42 126.29,265.33 126.71,265.08 127.14,265.19 127.57,265.09 128,265.97 128.45,264.77 128.9,263.86 129.35,260.86 129.8,259.85 130.4,258.76 131,256.54 131.45,257.63 131.9,260.22 132.35,263.94 132.8,269.83 133.3,272.75 133.8,274.67 134.4,274.96 135,275.3 135.44,274.86 135.89,274.8 136.33,274.86 136.78,275.1 137.22,275.22 137.67,275.39 138.11,275.28 138.56,275.26 139,275.2" fill="none" stroke="#000" stroke-width="0.9299999999999999" stroke-linejoin="round"/>
<polyline points="92.3,274.86 92.71,274.49 93.12,274.52 93.53,273.91 93.94,274.64 94.36,273.97 94.77,274.67 95.18,274.3 95.59,273.84 96,273.56 96.42,273.41 96.85,273.63 97.28,273.46 97.7,272.33 98.12,271.96 98.55,272.39 98.98,272.21 99.4,271.61 99.84,270.82 100.28,271.03 100.72,269.39 101.16,269.47 101.6,269.32 102,270.05 102.4,269.02 102.8,269.23 103.2,267.94 103.65,267.9 104.1,268.45 104.55,270.47 105,270.42 105.4,269.99 105.8,269.82 106.2,271.1 106.6,271.78 107,271.7 107.4,271.8 107.83,272.63 108.27,273.2 108.7,272.28 109.13,272.17 109.57,272.8 110,273.09 110.4,273.11 110.8,272 111.2,272.61 111.6,272.17 112,271.41 112.45,270.13 112.9,270.96 113.35,268.9 113.8,269.32 114.24,267.87 114.68,267.72 115.12,268.84 115.56,267.64 116,269.05 116.43,267.9 116.86,267.09 117.29,267.09 117.71,267.46 118.14,267.97 118.57,268.56 119,266.55 119.43,267.11 119.86,266.65 120.29,268.47 120.71,266.42 121.14,266.17 121.57,266.16 122,266.94 122.43,268.06 122.86,267.92 123.29,267.44 123.71,267.99 124.14,267.71 124.57,266.08 125,265.6 125.43,267.32 125.86,266.64 126.29,264.57 126.71,266.03 127.14,265.08 127.57,264.86 128,264.54 128.45,263.06 128.9,261.54 129.35,261.33 129.8,260.53 130.2,260.65 130.6,255.95 131,257.1 131.45,256.69 131.9,259.53 132.35,265.87 132.8,270.66 133.3,272.09 133.8,273.92 134.2,274.57 134.6,274.68 135,275.34 135.4,274.77 135.8,274.93 136.2,275.37 136.6,274.72 137,275.03 137.4,275.35 137.8,275.34 138.2,274.82 138.6,274.85 139,275.2" fill="none" stroke="#000" stroke-width="0.9299999999999999" stroke-linejoin="round"/>
<polyline points="92.3,274.07 92.67,275.06 93.04,274.17 93.41,274.74 93.78,274.88 94.15,274.09 94.52,273.93 94.89,274.81 95.26,274.28 95.63,273.72 96,274.31 96.38,273.47 96.76,273.15 97.13,272.43 97.51,273.47 97.89,273.54 98.27,272.79 98.64,273.16 99.02,271.08 99.4,271.24 99.77,271.35 100.13,272.04 100.5,271.67 100.87,269.92 101.23,269.17 101.6,269.22 102,269.03 102.4,269.86 102.8,267.47 103.2,268.86 103.65,269.16 104.1,269.86 104.55,270.2 105,270.27 105.4,269.95 105.8,270.31 106.2,270.79 106.6,272.08 107,270.96 107.4,271.6 107.77,272.84 108.14,272 108.51,271.81 108.89,271.91 109.26,273.01 109.63,272.75 110,274.02 110.4,273.54 110.8,273.42 111.2,271.65 111.6,270.89 112,270.52 112.45,270.7 112.9,270.52 113.35,269.16 113.8,267.87 114.17,268.27 114.53,268.73 114.9,268.79 115.27,268.9 115.63,269.08 116,268.47 116.38,266.84 116.75,268.83 117.12,267.18 117.5,267.89 117.88,267.26 118.25,268.24 118.62,266.59 119,266.66 119.38,266.62 119.75,266.33 120.12,268.46 120.5,267.53 120.88,266.76 121.25,266.94 121.62,268.69 122,267.22 122.38,266.3 122.75,267.93 123.12,267.36 123.5,268.29 123.88,265.49 124.25,266.52 124.62,267.48 125,267.46 125.38,267.52 125.75,264.6 126.12,265.22 126.5,264.48 126.88,264.52 127.25,266.89 127.62,265.45 128,266.42 128.36,263.76 128.72,264.69 129.08,262.42 129.44,260.9 129.8,262.07 130.2,260.94 130.6,255.59 131,255.83 131.45,258.21 131.9,258.88 132.35,264.57 132.8,269.11 133.3,271.61 133.8,274.08 134.2,274.72 134.6,274.97 135,274.71 135.36,274.54 135.73,274.87 136.09,275.23 136.45,274.77 136.82,274.92 137.18,274.84 137.55,275.4 137.91,275.19 138.27,274.78 138.64,274.83 139,275.2" fill="none" stroke="#000" stroke-width="0.9299999999999999" stroke-linejoin="round"/>
<polyline points="92.3,274.45 92.64,274.62 92.97,274.7 93.31,273.82 93.65,273.87 93.98,274.63 94.32,274.13 94.65,273.87 94.99,273.85 95.33,274.86 95.66,273.74 96,274.11 96.34,273.52 96.68,273.4 97.02,274.06 97.36,274.14 97.7,272.61 98.04,272.01 98.38,272.98 98.72,271.55 99.06,270.84 99.4,272.79 99.77,271.2 100.13,271.86 100.5,270.34 100.87,271.3 101.23,269.68 101.6,268.37 102,267.53 102.4,268.87 102.8,268.81 103.2,269.37 103.56,267.06 103.92,269.19 104.28,268.8 104.64,269.61 105,268.97 105.34,269.7 105.69,270.69 106.03,272.09 106.37,270.24 106.71,271.55 107.06,272.63 107.4,273.29 107.77,271.65 108.14,271.64 108.51,273.61 108.89,273.8 109.26,272.88 109.63,272.13 110,274.06 110.33,272.66 110.67,273.5 111,272.58 111.33,272.78 111.67,270.85 112,272.13 112.36,270.08 112.72,270.01 113.08,270.75 113.44,270.18 113.8,267.58 114.17,267.58 114.53,268.07 114.9,268.36 115.27,267.81 115.63,266.85 116,267.15 116.33,268.69 116.67,269.21 117,266.24 117.33,267.95 117.67,268.55 118,266.02 118.33,268.7 118.67,266.15 119,267.75 119.33,267.55 119.67,267.8 120,266.66 120.33,267.03 120.67,267.58 121,267.01 121.33,267.8 121.67,267.04 122,266.98 122.33,265.43 122.67,267.44 123,266.9 123.33,265.9 123.67,267.7 124,267.68 124.33,266.43 124.67,265.32 125,266.3 125.33,264.8 125.67,264.71 126,265.67 126.33,264.24 126.67,265.4 127,265.51 127.33,263.55 127.67,265.68 128,263.37 128.36,265.14 128.72,264.55 129.08,262.65 129.44,259.84 129.8,261.02 130.2,258.55 130.6,259.53 131,253.49 131.45,259.47 131.9,262.31 132.35,265.9 132.8,270.92 133.13,270.68 133.47,273.95 133.8,274.39 134.2,275.25 134.6,275.34 135,274.61 135.33,275.35 135.67,275.4 136,274.56 136.33,274.9 136.67,275.37 137,274.73 137.33,275.4 137.67,274.89 138,275.4 138.33,274.8 138.67,275.19 139,275.2" fill="none" stroke="#000" stroke-width="0.9299999999999999" stroke-linejoin="round"/>
<line x1="92.1" y1="223.6" x2="92.1" y2="275.6" stroke="#999" stroke-width="0.8"/>
<line x1="92.1" y1="275.6" x2="143.3" y2="275.6" stroke="#999" stroke-width="0.8"/>
<text x="90.4" y="225.4" font-size="3.3" text-anchor="middle" fill="#111" transform="rotate(-90 90.4 225.4)">200</text>
<text x="90" y="276.3" font-size="3.0" text-anchor="middle" fill="#000" transform="rotate(-90 90 276.3)">0</text>
<line x1="91.1" y1="223.6" x2="92.1" y2="223.6" stroke="#999" stroke-width="0.5"/>
<text x="92.7" y="279.8" font-size="3.5" text-anchor="middle" fill="#333">10&#8304;</text>
<line x1="92.1" y1="275.6" x2="92.1" y2="276.8" stroke="#999" stroke-width="0.5"/>
<text x="105.31" y="279.8" font-size="3.5" text-anchor="middle" fill="#333">10&#185;</text>
<line x1="104.71" y1="275.6" x2="104.71" y2="276.8" stroke="#999" stroke-width="0.5"/>
<text x="117.92" y="279.8" font-size="3.5" text-anchor="middle" fill="#333">10&#178;</text>
<line x1="117.32" y1="275.6" x2="117.32" y2="276.8" stroke="#999" stroke-width="0.5"/>
<text x="130.52" y="279.8" font-size="3.5" text-anchor="middle" fill="#333">10&#179;</text>
<line x1="129.92" y1="275.6" x2="129.92" y2="276.8" stroke="#999" stroke-width="0.5"/>
<text x="143.13" y="279.8" font-size="3.5" text-anchor="middle" fill="#333">10&#8308;</text>
<line x1="142.53" y1="275.6" x2="142.53" y2="276.8" stroke="#999" stroke-width="0.5"/>
<polygon points="132.28,254.88 127.76,254.18 129.31,253.19 127.12,250.99 128.39,249.72 130.59,251.91 131.58,250.36" fill="#000" stroke="#000" stroke-width="0.4" stroke-linejoin="round"/>
<polygon points="17.7,347 17.7,345.18 18.45,339.28 19.2,333.77 19.9,324.01 20.6,313.73 21.8,298.67 22.8,295.41 23.8,297.38 24.8,308.71 25.8,322.24 26.8,332.41 27.5,335.45 28.2,339.72 28.97,340.8 29.73,342.65 30.5,344.27 31.12,344.28 31.75,344.67 32.38,344.68 33,344.84 33.62,345.11 34.25,344.94 34.88,345.45 35.5,345.45 36.12,345.51 36.75,345.81 37.38,345.77 38,346.16 38.62,345.98 39.23,345.86 39.85,345.95 40.46,345.8 41.08,345.66 41.69,345.81 42.31,345.51 42.92,345.75 43.54,345.49 44.15,345.59 44.77,345.68 45.38,345.48 46,345.46 46.6,345.21 47.2,344.96 47.8,344.84 48.4,344.77 49,344.85 49.6,344.65 50.2,344.57 50.8,344.63 51.4,344.14 52,344.07 52.63,344.13 53.26,343.67 53.89,343.51 54.51,343.55 55.14,343.27 55.77,343.26 56.4,343.05 57,343.58 57.6,343.91 58.2,344.05 58.9,345.65 59.6,347 59.6,347" fill="#c2c2c2" stroke="#6a6a6a" stroke-width="0.65" stroke-linejoin="round"/>
<polyline points="17.7,345.98 18.16,345.58 18.62,346.13 19.08,345.42 19.54,345.2 20,345.02 20.43,345.14 20.87,345.01 21.3,344.53 21.73,343.68 22.17,343.09 22.6,342.33 23.1,342.32 23.6,341.3 24.1,340.04 24.6,339.67 25.13,338.29 25.67,338.29 26.2,336.9 26.8,335.35 27.4,336.29 27.87,335.01 28.33,336.67 28.8,337.01 29.24,337.56 29.68,338.13 30.12,340.34 30.56,339.9 31,341.68 31.43,342.72 31.86,342 32.29,342.56 32.71,343.57 33.14,343.89 33.57,344.51 34,345.13 34.46,344.58 34.92,344.85 35.38,344.96 35.84,344.85 36.3,345.76 36.76,345.78 37.22,345.83 37.68,345.34 38.14,346.16 38.6,346.19 39.02,345.9 39.45,346.05 39.88,345.74 40.3,345.47 40.73,345.28 41.15,345.31 41.58,345.05 42,345.25 42.43,345.17 42.86,344.65 43.29,344.36 43.71,343.73 44.14,342.65 44.57,342.56 45,341.9 45.43,341.75 45.86,340.61 46.29,339.44 46.71,339.41 47.14,339.33 47.57,337.15 48,337.79 48.43,335.19 48.86,334.93 49.29,334.08 49.71,334.49 50.14,334.21 50.57,332.98 51,331.16 51.48,331.67 51.96,329.3 52.44,328.13 52.92,329.06 53.4,327.37 53.93,326.1 54.47,324.57 55,324.1 55.45,321.4 55.9,321.51 56.4,322.13 56.9,323.72 57.6,329.83 58.2,339.42 58.8,345.07 59.4,345.54 60,346.22 60.44,346.51 60.89,346.21 61.33,346.75 61.78,346.33 62.22,346.3 62.67,346.38 63.11,346.8 63.56,346.59 64,346.7" fill="none" stroke="#000" stroke-width="0.9299999999999999" stroke-linejoin="round"/>
<polyline points="17.7,345.65 18.16,345.39 18.62,345.27 19.08,345.85 19.54,345.67 20,345.63 20.43,345.31 20.87,343.99 21.3,344.34 21.73,343.58 22.17,343.93 22.6,343.56 23,343.02 23.4,340.69 23.8,341.62 24.2,341.04 24.6,340.44 25,337.69 25.4,337.15 25.8,336.13 26.2,335.14 26.6,337.02 27,336.61 27.4,335.78 27.87,336.9 28.33,336.95 28.8,336.64 29.24,337.08 29.68,338 30.12,340.42 30.56,340.09 31,341.24 31.43,341.91 31.86,341.63 32.29,342.54 32.71,343.07 33.14,344.23 33.57,344.15 34,344.56 34.42,345.53 34.84,345.02 35.25,345.57 35.67,345.38 36.09,344.78 36.51,345.35 36.93,345.49 37.35,345.97 37.76,345.62 38.18,346.1 38.6,346.04 39.02,345.64 39.45,346.23 39.88,345.34 40.3,346.05 40.73,345.26 41.15,344.98 41.58,345.13 42,345.71 42.43,345.55 42.86,343.71 43.29,343.93 43.71,343.44 44.14,343.49 44.57,341.9 45,341.99 45.43,340.97 45.86,341.29 46.29,339.31 46.71,340.19 47.14,337.9 47.57,336.98 48,337.53 48.43,336.22 48.86,334.35 49.29,335.08 49.71,332.66 50.14,334.03 50.57,332.99 51,332.53 51.4,331.26 51.8,329.58 52.2,328.96 52.6,328.16 53,329.17 53.4,325.49 53.8,327.35 54.2,322.98 54.6,322.55 55,321.65 55.45,323.14 55.9,320.4 56.4,321.01 56.9,324.14 57.6,329.1 58.2,338.91 58.8,345.04 59.2,345.76 59.6,346.19 60,346.52 60.4,346.31 60.8,346.32 61.2,346.23 61.6,346.78 62,346.67 62.4,346.75 62.8,346.38 63.2,346.6 63.6,346.8 64,346.7" fill="none" stroke="#000" stroke-width="0.9299999999999999" stroke-linejoin="round"/>
<polyline points="17.7,346.1 18.08,345.43 18.47,345.75 18.85,346.21 19.23,345.24 19.62,345.06 20,345.11 20.37,345.38 20.74,345.29 21.11,343.76 21.49,343.38 21.86,343.19 22.23,342.99 22.6,343.05 23,341.5 23.4,341.14 23.8,340.04 24.2,341.41 24.6,340.05 25,337.47 25.4,339.33 25.8,335.88 26.2,336.02 26.6,337.69 27,336.74 27.4,336.2 27.87,335.78 28.33,335.6 28.8,337.64 29.17,336.72 29.53,337.8 29.9,339.08 30.27,338.87 30.63,340.61 31,342.31 31.38,342.46 31.75,342.4 32.12,343.09 32.5,343.12 32.88,342.89 33.25,344.2 33.62,344.23 34,345.2 34.38,345.56 34.77,344.89 35.15,345.22 35.53,345.58 35.92,345.18 36.3,345.01 36.68,345.81 37.07,346.12 37.45,346.07 37.83,346.06 38.22,346.34 38.6,346.22 38.98,346.11 39.36,345.81 39.73,345.56 40.11,345.9 40.49,345.13 40.87,345.49 41.24,345.93 41.62,345.77 42,345.59 42.38,344.58 42.75,344.42 43.12,344.04 43.5,343.94 43.88,343.09 44.25,343.23 44.62,343.4 45,341.25 45.38,341.76 45.75,341.47 46.12,339.82 46.5,339.47 46.88,340.27 47.25,336.85 47.62,337.76 48,335.91 48.38,337.26 48.75,337.15 49.12,335.04 49.5,332.87 49.88,333.9 50.25,333.1 50.62,333.11 51,331.65 51.4,331.39 51.8,331.42 52.2,329.39 52.6,328.15 53,329.72 53.4,325.71 53.8,326.74 54.2,324.3 54.6,324.95 55,320.76 55.45,323.91 55.9,319.67 56.4,319.29 56.9,321.5 57.6,329.59 58.2,337.58 58.8,344.87 59.2,345.35 59.6,346.18 60,346.25 60.36,346.2 60.73,346.19 61.09,346.71 61.45,346.8 61.82,346.56 62.18,346.31 62.55,346.8 62.91,346.53 63.27,346.41 63.64,346.38 64,346.7" fill="none" stroke="#000" stroke-width="0.9299999999999999" stroke-linejoin="round"/>
<polyline points="17.7,346.39 18.08,346.36 18.47,346 18.85,345.65 19.23,345.7 19.62,345.04 20,346.19 20.37,344.79 20.74,344.99 21.11,345.04 21.49,344.73 21.86,343.61 22.23,342.85 22.6,343.12 22.93,341.4 23.27,342.74 23.6,340.77 23.93,341.69 24.27,339.25 24.6,338.99 25,337.79 25.4,337.63 25.8,335.97 26.2,334.46 26.6,336.94 27,334.86 27.4,334.36 27.75,335.06 28.1,336.22 28.45,336.48 28.8,337.72 29.17,338.51 29.53,338.19 29.9,340.84 30.27,341.27 30.63,339.52 31,342.54 31.33,343.09 31.67,343.08 32,341.73 32.33,343.85 32.67,343.7 33,342.62 33.33,343.02 33.67,345.38 34,345.1 34.35,344.41 34.71,344.24 35.06,344.42 35.42,344.69 35.77,345.75 36.12,345.09 36.48,344.86 36.83,346.2 37.18,346.1 37.54,345.21 37.89,346.41 38.25,346.07 38.6,346.4 38.94,346.18 39.28,346.46 39.62,346.26 39.96,346.28 40.3,345.22 40.64,345.95 40.98,345.63 41.32,345.92 41.66,345.36 42,346.05 42.33,345.12 42.67,344.17 43,343.7 43.33,343.07 43.67,343.49 44,342.04 44.33,342.67 44.67,341.42 45,341.98 45.33,341.44 45.67,341.01 46,341.48 46.33,338.16 46.67,340.38 47,338.55 47.33,338.34 47.67,338.17 48,338.29 48.33,335.91 48.67,335.48 49,337.09 49.33,332.82 49.67,334.59 50,334 50.33,330.7 50.67,332.7 51,332.45 51.34,332.98 51.69,329.47 52.03,331.99 52.37,329.02 52.71,328.24 53.06,329.71 53.4,324.56 53.8,327.07 54.2,325.49 54.6,322.79 55,324.68 55.45,320.71 55.9,320.25 56.23,321.28 56.57,323.44 56.9,320.94 57.25,325.96 57.6,329.62 58.2,339.19 58.8,345.61 59.2,345.12 59.6,346.41 60,346.29 60.33,346.43 60.67,346.19 61,346.48 61.33,346.8 61.67,346.69 62,346.8 62.33,346.4 62.67,346.41 63,346.43 63.33,346.73 63.67,346.8 64,346.7" fill="none" stroke="#000" stroke-width="0.9299999999999999" stroke-linejoin="round"/>
<line x1="17.5" y1="294.9" x2="17.5" y2="347" stroke="#999" stroke-width="0.8"/>
<line x1="17.5" y1="347" x2="71.2" y2="347" stroke="#999" stroke-width="0.8"/>
<text x="15.8" y="296.7" font-size="3.3" text-anchor="middle" fill="#111" transform="rotate(-90 15.8 296.7)">200</text>
<text x="15.4" y="347.7" font-size="3.0" text-anchor="middle" fill="#000" transform="rotate(-90 15.4 347.7)">0</text>
<line x1="16.5" y1="294.9" x2="17.5" y2="294.9" stroke="#999" stroke-width="0.5"/>
<text x="18.1" y="351.2" font-size="3.5" text-anchor="middle" fill="#333">10&#8304;</text>
<line x1="17.5" y1="347" x2="17.5" y2="348.2" stroke="#999" stroke-width="0.5"/>
<text x="31.32" y="351.2" font-size="3.5" text-anchor="middle" fill="#333">10&#185;</text>
<line x1="30.72" y1="347" x2="30.72" y2="348.2" stroke="#999" stroke-width="0.5"/>
<text x="44.55" y="351.2" font-size="3.5" text-anchor="middle" fill="#333">10&#178;</text>
<line x1="43.95" y1="347" x2="43.95" y2="348.2" stroke="#999" stroke-width="0.5"/>
<text x="57.77" y="351.2" font-size="3.5" text-anchor="middle" fill="#333">10&#179;</text>
<line x1="57.17" y1="347" x2="57.17" y2="348.2" stroke="#999" stroke-width="0.5"/>
<text x="70.99" y="351.2" font-size="3.5" text-anchor="middle" fill="#333">10&#8308;</text>
<line x1="70.39" y1="347" x2="70.39" y2="348.2" stroke="#999" stroke-width="0.5"/>
<polygon points="56.08,318.28 51.56,317.58 53.11,316.59 50.92,314.39 52.19,313.12 54.39,315.31 55.38,313.76" fill="#000" stroke="#000" stroke-width="0.4" stroke-linejoin="round"/>
<polygon points="91.2,347 91.2,345.12 91.9,340.69 92.6,337.19 93.4,329.93 94.2,322.06 94.9,313.32 95.6,305.67 96.25,302.15 96.9,299.45 98,304.32 98.7,309.97 99.4,316.23 100.2,322.38 101,328.48 101.9,331.62 102.8,335.11 103.4,336.71 104,338.36 104.6,339.87 105.2,341.52 105.83,341.58 106.47,342.24 107.1,342.47 107.73,343.02 108.37,343.01 109,343.43 109.6,343.29 110.2,343.63 110.8,343.65 111.4,343.45 112,343.23 112.6,343.42 113.2,343.34 113.8,343.16 114.4,342.92 115,342.89 115.62,342.83 116.25,342.64 116.88,342.58 117.5,342.59 118.12,342.64 118.75,341.98 119.38,342.17 120,341.71 120.67,341.62 121.33,341.93 122,341.65 122.67,341.74 123.33,341.3 124,340.87 124.7,341.02 125.4,341.06 126.1,341.2 126.8,341.13 127.5,340.68 128.2,340.54 128.8,340.68 129.4,341.4 130,341.46 130.6,341.78 131.2,342.72 131.8,343.75 132.4,345.08 133.2,345.88 134,347 134,347" fill="#c2c2c2" stroke="#6a6a6a" stroke-width="0.65" stroke-linejoin="round"/>
<polyline points="91.2,346.36 91.64,345.64 92.07,346.22 92.51,345.59 92.95,345.46 93.38,346 93.82,345.57 94.25,345.94 94.69,345.44 95.13,345.28 95.56,345.88 96,345.79 96.45,345.9 96.91,345.77 97.36,345.17 97.82,345.64 98.27,345.7 98.73,345.46 99.18,345.87 99.64,345.23 100.09,345.86 100.55,345.62 101,344.94 101.44,344.84 101.88,345.35 102.31,345.42 102.75,344.57 103.19,344.7 103.62,345.04 104.06,344.34 104.5,345 104.94,344.43 105.38,343.79 105.81,343.99 106.25,344.09 106.69,343.77 107.12,343.92 107.56,343.09 108,343.79 108.44,343.11 108.89,343.37 109.33,343.24 109.78,342.84 110.22,342.68 110.67,343.14 111.11,343.26 111.56,342.92 112,342.5 112.44,341.89 112.89,341.33 113.33,342.53 113.78,341.92 114.22,341.92 114.67,340.93 115.11,341.17 115.56,341.6 116,341.16 116.43,340.46 116.86,339.63 117.29,339.53 117.71,340.05 118.14,338.8 118.57,339.07 119,338.6 119.48,338.55 119.96,337.75 120.44,336.02 120.92,334.76 121.4,334.67 121.84,334.18 122.28,333.73 122.72,333.45 123.16,332.81 123.6,329.82 124.05,330.88 124.5,329.85 124.95,329.02 125.4,327.21 125.93,324.8 126.47,325.01 127,323.37 127.6,321.6 128.2,320.97 128.7,320.3 129.2,320.68 129.7,325.16 130.2,328.83 130.7,330.54 131.2,335.17 131.8,338.66 132.4,340.56 133,343.25 133.6,345.37 134.05,345.47 134.5,345.56 134.95,345.92 135.4,346.56 135.86,346.61 136.32,346.44 136.78,346.24 137.24,346.7 137.7,346.71 138.16,346.43 138.62,346.65 139.08,346.8 139.54,346.8 140,346.7" fill="none" stroke="#000" stroke-width="0.9299999999999999" stroke-linejoin="round"/>
<polyline points="91.2,346.02 91.6,345.94 92,346.02 92.4,345.58 92.8,345.55 93.2,345.5 93.6,346.01 94,345.62 94.4,345.8 94.8,345.59 95.2,345.69 95.6,345.24 96,345.09 96.42,346.15 96.83,345.42 97.25,345.1 97.67,345.69 98.08,345.85 98.5,345.1 98.92,345.6 99.33,345.29 99.75,345.47 100.17,344.87 100.58,344.86 101,345.98 101.44,345.75 101.88,345.18 102.31,345.19 102.75,344.69 103.19,345.27 103.62,344.7 104.06,345.32 104.5,344.98 104.94,344.91 105.38,344.99 105.81,343.78 106.25,343.28 106.69,343.38 107.12,343.18 107.56,342.87 108,342.65 108.4,343.4 108.8,343.84 109.2,343.03 109.6,343.78 110,343.63 110.4,342.02 110.8,342.88 111.2,342.41 111.6,341.8 112,343.26 112.4,341.76 112.8,342.16 113.2,342.14 113.6,342.59 114,341.84 114.4,341.1 114.8,341.03 115.2,340.24 115.6,341.77 116,341.66 116.43,339.67 116.86,338.93 117.29,339.1 117.71,339 118.14,339.99 118.57,339.7 119,339.23 119.4,336.72 119.8,338.08 120.2,337.36 120.6,336.67 121,337.09 121.4,333.93 121.84,333.31 122.28,334.29 122.72,334.05 123.16,332.41 123.6,330.34 124.05,330.31 124.5,329.9 124.95,326.59 125.4,326.36 125.8,324.94 126.2,323.26 126.6,323.48 127,321.07 127.4,320.4 127.8,319.05 128.2,320.35 128.7,318.78 129.2,322.88 129.7,323.84 130.2,326.35 130.7,332.69 131.2,333.78 131.6,337.9 132,339.75 132.4,341.82 132.8,341.73 133.2,343.72 133.6,344.7 134.05,346 134.5,346.16 134.95,346.22 135.4,346.36 135.82,346.3 136.24,346.71 136.65,346.46 137.07,346.61 137.49,346.27 137.91,346.36 138.33,346.28 138.75,346.77 139.16,346.68 139.58,346.44 140,346.7" fill="none" stroke="#000" stroke-width="0.9299999999999999" stroke-linejoin="round"/>
<polyline points="91.2,346.45 91.57,345.69 91.94,345.83 92.31,345.48 92.68,345.59 93.05,346.28 93.42,345.6 93.78,345.35 94.15,345.74 94.52,345.48 94.89,346.23 95.26,345.14 95.63,346.28 96,344.99 96.38,346.13 96.77,345.8 97.15,345.15 97.54,345.51 97.92,345.22 98.31,345.17 98.69,345.07 99.08,345.28 99.46,346.16 99.85,346.16 100.23,346.04 100.62,344.83 101,345.09 101.39,345.9 101.78,344.55 102.17,345.48 102.56,344.72 102.94,345.72 103.33,344.08 103.72,345.29 104.11,344.42 104.5,343.98 104.89,343.59 105.28,344.93 105.67,344.25 106.06,343.48 106.44,343.81 106.83,344.6 107.22,343.11 107.61,343.68 108,342.66 108.36,342.65 108.73,343.78 109.09,343.57 109.45,342.39 109.82,342.04 110.18,341.96 110.55,343 110.91,342.66 111.27,342.08 111.64,341.83 112,342.66 112.36,342.72 112.73,342.8 113.09,342.11 113.45,341.03 113.82,340.52 114.18,341.99 114.55,341.02 114.91,341.65 115.27,339.79 115.64,341.57 116,340.17 116.38,341.24 116.75,341.04 117.12,339.76 117.5,338.13 117.88,340.4 118.25,338.88 118.62,339.78 119,337.7 119.4,336.9 119.8,338.38 120.2,336.37 120.6,335.15 121,335.3 121.4,335.53 121.77,332.73 122.13,333.87 122.5,332.9 122.87,332.46 123.23,330.21 123.6,331.86 123.96,331.5 124.32,330.93 124.68,327.84 125.04,328.72 125.4,326.47 125.8,327 126.2,322.65 126.6,325.34 127,324.62 127.4,321.44 127.8,320.6 128.2,319.76 128.7,320.99 129.2,319.63 129.7,327.17 130.2,326.8 130.7,330.04 131.2,333.19 131.6,335.92 132,339.8 132.4,339.8 132.8,341.48 133.2,344.19 133.6,344.74 133.96,344.75 134.32,345.81 134.68,346.01 135.04,346.19 135.4,346.6 135.78,346.04 136.17,346.8 136.55,346.68 136.93,346.08 137.32,346.18 137.7,346.54 138.08,346.58 138.47,346.41 138.85,346.31 139.23,346.57 139.62,346.38 140,346.7" fill="none" stroke="#000" stroke-width="0.9299999999999999" stroke-linejoin="round"/>
<polyline points="91.2,346.13 91.54,346.49 91.89,345.43 92.23,346.02 92.57,346.25 92.91,345.36 93.26,346.32 93.6,346.47 93.94,345.6 94.29,345.62 94.63,346.25 94.97,345.73 95.31,345.49 95.66,346.34 96,346.05 96.33,345.32 96.67,345.15 97,345.29 97.33,345.44 97.67,346.33 98,346.02 98.33,346.19 98.67,346.02 99,346.06 99.33,344.72 99.67,345.48 100,346.21 100.33,346.16 100.67,344.99 101,345.27 101.35,345.55 101.7,345 102.05,345.22 102.4,344.29 102.75,344.87 103.1,344.93 103.45,343.91 103.8,344.05 104.15,345.62 104.5,345.16 104.85,345.38 105.2,344.64 105.55,344.9 105.9,344.96 106.25,344.85 106.6,342.83 106.95,344.09 107.3,343.09 107.65,343.94 108,342.86 108.33,343.42 108.67,344.27 109,343.45 109.33,342.44 109.67,343.03 110,342.73 110.33,343.97 110.67,342.18 111,342.14 111.33,342.96 111.67,341.48 112,342.65 112.33,343.49 112.67,342.14 113,341.3 113.33,341.71 113.67,341.75 114,340.48 114.33,340.25 114.67,340.11 115,340.43 115.33,340.62 115.67,340.1 116,339.8 116.33,339.06 116.67,340.26 117,340.97 117.33,339.99 117.67,339.61 118,339.64 118.33,337.86 118.67,339.38 119,338.26 119.34,338.12 119.69,337.9 120.03,336.91 120.37,335.84 120.71,335.1 121.06,334.54 121.4,335.25 121.77,334.01 122.13,334.17 122.5,330.94 122.87,331.73 123.23,333.37 123.6,329.77 123.96,330.47 124.32,329.36 124.68,327.52 125.04,330.3 125.4,325.93 125.8,327.31 126.2,322.82 126.6,321.11 127,324.54 127.4,321.11 127.8,317.92 128.2,318.92 128.53,320.04 128.87,322.59 129.2,319.73 129.53,322.46 129.87,328.46 130.2,329.22 130.53,328.53 130.87,331.66 131.2,333.98 131.6,337.41 132,339.27 132.4,342.05 132.8,343.26 133.2,343.84 133.6,345.63 133.96,345.85 134.32,346.09 134.68,345.88 135.04,346.54 135.4,346.64 135.75,346.8 136.11,346.02 136.46,346.8 136.82,345.95 137.17,346.8 137.52,346.63 137.88,346.56 138.23,346.8 138.58,346.68 138.94,346.55 139.29,346.8 139.65,346.8 140,346.7" fill="none" stroke="#000" stroke-width="0.9299999999999999" stroke-linejoin="round"/>
<line x1="91" y1="294.9" x2="91" y2="347" stroke="#999" stroke-width="0.8"/>
<line x1="91" y1="347" x2="145.7" y2="347" stroke="#999" stroke-width="0.8"/>
<text x="89.3" y="296.7" font-size="3.3" text-anchor="middle" fill="#111" transform="rotate(-90 89.3 296.7)">200</text>
<text x="88.9" y="347.7" font-size="3.0" text-anchor="middle" fill="#000" transform="rotate(-90 88.9 347.7)">0</text>
<line x1="90" y1="294.9" x2="91" y2="294.9" stroke="#999" stroke-width="0.5"/>
<text x="91.6" y="351.2" font-size="3.5" text-anchor="middle" fill="#333">10&#8304;</text>
<line x1="91" y1="347" x2="91" y2="348.2" stroke="#999" stroke-width="0.5"/>
<text x="105.07" y="351.2" font-size="3.5" text-anchor="middle" fill="#333">10&#185;</text>
<line x1="104.47" y1="347" x2="104.47" y2="348.2" stroke="#999" stroke-width="0.5"/>
<text x="118.54" y="351.2" font-size="3.5" text-anchor="middle" fill="#333">10&#178;</text>
<line x1="117.94" y1="347" x2="117.94" y2="348.2" stroke="#999" stroke-width="0.5"/>
<text x="132.01" y="351.2" font-size="3.5" text-anchor="middle" fill="#333">10&#179;</text>
<line x1="131.41" y1="347" x2="131.41" y2="348.2" stroke="#999" stroke-width="0.5"/>
<text x="145.48" y="351.2" font-size="3.5" text-anchor="middle" fill="#333">10&#8308;</text>
<line x1="144.88" y1="347" x2="144.88" y2="348.2" stroke="#999" stroke-width="0.5"/>
<polygon points="127.88,317.48 123.36,316.78 124.91,315.79 122.72,313.59 123.99,312.32 126.19,314.51 127.18,312.96" fill="#000" stroke="#000" stroke-width="0.4" stroke-linejoin="round"/>
<text x="239" y="14.8" font-size="18.8" font-weight="bold" text-anchor="start" fill="#000" stroke="#000" stroke-width="0.2">C</text>
<path d="M272.9 55.1h0.8v0.8h-0.8zM270.5 62.6h0.8v0.8h-0.8zM277.9 53.4h0.8v0.8h-0.8zM271.1 66.5h0.8v0.8h-0.8zM273.7 64.7h0.8v0.8h-0.8zM282.6 44.8h0.8v0.8h-0.8zM270.3 60h0.8v0.8h-0.8zM281.7 66.2h0.8v0.8h-0.8zM285.4 68.3h0.8v0.8h-0.8zM276 58.3h0.8v0.8h-0.8zM285.2 56.6h0.8v0.8h-0.8zM287.5 47.3h0.8v0.8h-0.8zM284.2 58.6h0.8v0.8h-0.8zM263.3 67.8h0.8v0.8h-0.8zM281.5 60.2h0.8v0.8h-0.8zM270.4 56.3h0.8v0.8h-0.8zM291.1 53.4h0.8v0.8h-0.8zM269.4 58.9h0.8v0.8h-0.8zM275.9 52.7h0.8v0.8h-0.8zM272.3 68.4h0.8v0.8h-0.8zM274.6 51.3h0.8v0.8h-0.8zM285.3 64.5h0.8v0.8h-0.8zM270.7 66h0.8v0.8h-0.8zM264.3 52.6h0.8v0.8h-0.8zM288 58h0.8v0.8h-0.8z" fill="#000" fill-opacity="0.6"/>
<path d="M268.6 64.1h0.8v0.8h-0.8zM286.3 59.8h0.8v0.8h-0.8zM264.5 57.2h0.8v0.8h-0.8zM282.3 66.1h0.8v0.8h-0.8zM293.8 58h0.8v0.8h-0.8zM275.1 59.7h0.8v0.8h-0.8zM288.6 52.5h0.8v0.8h-0.8zM289.4 38h0.8v0.8h-0.8zM285.4 54.6h0.8v0.8h-0.8zM282.7 65.5h0.8v0.8h-0.8zM269.5 59.3h0.8v0.8h-0.8zM280.9 64.7h0.8v0.8h-0.8zM271.6 52.1h0.8v0.8h-0.8zM256.4 75.4h0.8v0.8h-0.8zM265 47.8h0.8v0.8h-0.8zM258.5 59.3h0.8v0.8h-0.8zM263.3 64.4h0.8v0.8h-0.8zM270.3 50.2h0.8v0.8h-0.8zM269.6 38.9h0.8v0.8h-0.8zM264.4 44.2h0.8v0.8h-0.8zM259.7 50.2h0.8v0.8h-0.8zM265.3 64.4h0.8v0.8h-0.8zM261.4 45.4h0.8v0.8h-0.8zM268.1 54h0.8v0.8h-0.8zM266.1 45.3h0.8v0.8h-0.8z" fill="#000" fill-opacity="0.6"/>
<path d="M268.5 53.6h0.8v0.8h-0.8zM256.8 47.4h0.8v0.8h-0.8zM259.1 38.2h0.8v0.8h-0.8zM266.7 50.6h0.8v0.8h-0.8zM266.6 41.2h0.8v0.8h-0.8zM265 40.9h0.8v0.8h-0.8zM267.9 56.9h0.8v0.8h-0.8zM300.8 75.1h0.8v0.8h-0.8zM277.8 68.2h0.8v0.8h-0.8zM276.6 71.2h0.8v0.8h-0.8zM302.8 72.8h0.8v0.8h-0.8zM265.2 65h0.8v0.8h-0.8zM273.4 72.1h0.8v0.8h-0.8zM285 71.2h0.8v0.8h-0.8zM301 66.7h0.8v0.8h-0.8zM288.1 66.9h0.8v0.8h-0.8zM266.7 63.9h0.8v0.8h-0.8zM263 70.3h0.8v0.8h-0.8zM285.4 74h0.8v0.8h-0.8zM283.7 67.2h0.8v0.8h-0.8z" fill="#000" fill-opacity="0.6"/>
<path d="M257.3 73.1h0.9v0.9h-0.9zM261.5 73h0.9v0.9h-0.9zM260.5 73h0.9v0.9h-0.9zM263.3 71.2h0.9v0.9h-0.9zM260.3 71.8h0.9v0.9h-0.9zM259.2 72h0.9v0.9h-0.9zM260.7 72.4h0.9v0.9h-0.9zM264.5 73.7h0.9v0.9h-0.9zM260.4 73.2h0.9v0.9h-0.9zM262.1 73.2h0.9v0.9h-0.9zM261.4 72.4h0.9v0.9h-0.9zM260.3 70.7h0.9v0.9h-0.9zM263.4 73.9h0.9v0.9h-0.9zM262.9 72.4h0.9v0.9h-0.9zM262 70.9h0.9v0.9h-0.9zM257.3 74h0.9v0.9h-0.9zM261.9 70.8h0.9v0.9h-0.9zM259.2 74.7h0.9v0.9h-0.9zM259.7 72.2h0.9v0.9h-0.9zM260.2 72.4h0.9v0.9h-0.9zM260.9 70.6h0.9v0.9h-0.9zM263.9 69.9h0.9v0.9h-0.9zM260.2 73.2h0.9v0.9h-0.9zM260.2 71.4h0.9v0.9h-0.9zM262.2 71.1h0.9v0.9h-0.9z" fill="#000" fill-opacity="0.82"/>
<path d="M258.5 72.3h0.9v0.9h-0.9zM260.9 75.1h0.9v0.9h-0.9zM258.9 74.2h0.9v0.9h-0.9zM259.6 71.6h0.9v0.9h-0.9zM260.6 72.6h0.9v0.9h-0.9zM263.4 74.7h0.9v0.9h-0.9zM259.9 74.6h0.9v0.9h-0.9zM263.7 72.9h0.9v0.9h-0.9zM259.7 73.9h0.9v0.9h-0.9zM261.2 72.6h0.9v0.9h-0.9zM260.8 73.2h0.9v0.9h-0.9zM264 73.5h0.9v0.9h-0.9zM260.9 73.8h0.9v0.9h-0.9zM264.7 69.5h0.9v0.9h-0.9zM264.8 68.7h0.9v0.9h-0.9zM262.6 72.7h0.9v0.9h-0.9zM264.8 71.7h0.9v0.9h-0.9zM260.3 70.7h0.9v0.9h-0.9zM258.5 73.9h0.9v0.9h-0.9zM260.9 70.7h0.9v0.9h-0.9zM262.6 70.2h0.9v0.9h-0.9zM260.4 71.3h0.9v0.9h-0.9zM265.2 73.8h0.9v0.9h-0.9zM261 69.1h0.9v0.9h-0.9zM262 71.9h0.9v0.9h-0.9z" fill="#000" fill-opacity="0.82"/>
<path d="M262.2 72.8h0.9v0.9h-0.9zM260.7 73.8h0.9v0.9h-0.9zM263.3 71.9h0.9v0.9h-0.9zM260.5 71.2h0.9v0.9h-0.9zM263 69.5h0.9v0.9h-0.9zM261 70.6h0.9v0.9h-0.9zM258.2 73.7h0.9v0.9h-0.9zM261.3 72h0.9v0.9h-0.9zM263.4 68.7h0.9v0.9h-0.9zM261.2 72.5h0.9v0.9h-0.9zM263.3 69.5h0.9v0.9h-0.9zM263 72h0.9v0.9h-0.9zM264.5 73.4h0.9v0.9h-0.9zM262.7 75.6h0.9v0.9h-0.9zM261.4 71.1h0.9v0.9h-0.9zM260.6 70.3h0.9v0.9h-0.9zM261.3 68.5h0.9v0.9h-0.9zM261.2 72.7h0.9v0.9h-0.9zM263.7 70.8h0.9v0.9h-0.9zM264.6 70h0.9v0.9h-0.9zM261.1 68.5h0.9v0.9h-0.9zM259.6 70.8h0.9v0.9h-0.9zM264.8 72.2h0.9v0.9h-0.9zM258.9 73.4h0.9v0.9h-0.9zM262.5 71.3h0.9v0.9h-0.9z" fill="#000" fill-opacity="0.82"/>
<path d="M261.5 71.3h0.9v0.9h-0.9zM260.2 69h0.9v0.9h-0.9zM261.2 74.2h0.9v0.9h-0.9zM264.6 70.7h0.9v0.9h-0.9zM259.7 71.9h0.9v0.9h-0.9zM263.4 72.1h0.9v0.9h-0.9zM260.1 72.8h0.9v0.9h-0.9zM260.9 72.9h0.9v0.9h-0.9zM260.5 69.4h0.9v0.9h-0.9zM261.5 73.2h0.9v0.9h-0.9zM258.9 72.2h0.9v0.9h-0.9zM263.4 70.8h0.9v0.9h-0.9zM263.3 73.4h0.9v0.9h-0.9zM259.3 75.3h0.9v0.9h-0.9zM257.7 71.7h0.9v0.9h-0.9zM263.1 73.9h0.9v0.9h-0.9zM259.3 71.1h0.9v0.9h-0.9zM261.8 68.4h0.9v0.9h-0.9zM262.8 72.6h0.9v0.9h-0.9zM260.4 73.1h0.9v0.9h-0.9zM263.1 72.1h0.9v0.9h-0.9zM262.6 74.4h0.9v0.9h-0.9zM260.3 72.4h0.9v0.9h-0.9zM260.2 74h0.9v0.9h-0.9zM260.5 72.9h0.9v0.9h-0.9z" fill="#000" fill-opacity="0.82"/>
<path d="M261.7 72h0.9v0.9h-0.9zM265.2 71h0.9v0.9h-0.9zM264.6 72.7h0.9v0.9h-0.9zM264.3 71h0.9v0.9h-0.9zM263.5 72.8h0.9v0.9h-0.9zM260 72.7h0.9v0.9h-0.9zM261.1 71.9h0.9v0.9h-0.9zM264.3 70h0.9v0.9h-0.9zM257.7 69.6h0.9v0.9h-0.9zM260.4 71h0.9v0.9h-0.9zM261.4 72.9h0.9v0.9h-0.9zM265.3 71.6h0.9v0.9h-0.9zM262.4 70.4h0.9v0.9h-0.9zM262.7 74h0.9v0.9h-0.9zM264.4 67.8h0.9v0.9h-0.9zM263.4 74.3h0.9v0.9h-0.9zM263.2 68.9h0.9v0.9h-0.9zM260.7 73.1h0.9v0.9h-0.9zM262.3 70.3h0.9v0.9h-0.9zM259.4 74h0.9v0.9h-0.9zM258.4 75.1h0.9v0.9h-0.9zM261.4 72.4h0.9v0.9h-0.9zM258.4 71.5h0.9v0.9h-0.9zM262.9 69h0.9v0.9h-0.9zM266 68.5h0.9v0.9h-0.9z" fill="#000" fill-opacity="0.82"/>
<path d="M258.7 72.5h0.9v0.9h-0.9zM262.5 73h0.9v0.9h-0.9zM260.6 71.7h0.9v0.9h-0.9zM260.9 71h0.9v0.9h-0.9zM255.7 74.8h0.9v0.9h-0.9zM262 72.1h0.9v0.9h-0.9zM260 72.6h0.9v0.9h-0.9zM261.4 71.8h0.9v0.9h-0.9zM263.8 68.4h0.9v0.9h-0.9zM262 69.9h0.9v0.9h-0.9zM260.7 74.7h0.9v0.9h-0.9zM259 72.2h0.9v0.9h-0.9zM260.1 73.8h0.9v0.9h-0.9zM259.2 69.4h0.9v0.9h-0.9zM262.5 71h0.9v0.9h-0.9zM260.7 74h0.9v0.9h-0.9zM259.4 71.6h0.9v0.9h-0.9zM261.7 72.6h0.9v0.9h-0.9zM260.3 74h0.9v0.9h-0.9zM266.4 70.2h0.9v0.9h-0.9zM265.5 67.3h0.9v0.9h-0.9zM264.5 70.7h0.9v0.9h-0.9zM261.7 71.2h0.9v0.9h-0.9zM260 69.9h0.9v0.9h-0.9zM260.5 74.4h0.9v0.9h-0.9z" fill="#000" fill-opacity="0.82"/>
<path d="M263.9 70.8h0.9v0.9h-0.9zM260.2 70.9h0.9v0.9h-0.9zM262.9 71.8h0.9v0.9h-0.9zM260.3 70.3h0.9v0.9h-0.9zM264.3 72.7h0.9v0.9h-0.9zM259.3 74.1h0.9v0.9h-0.9zM259 73.5h0.9v0.9h-0.9zM259.3 71.6h0.9v0.9h-0.9zM262.5 72.4h0.9v0.9h-0.9zM263.6 70h0.9v0.9h-0.9zM264.9 73.6h0.9v0.9h-0.9zM261.4 72.7h0.9v0.9h-0.9zM259.7 72h0.9v0.9h-0.9zM258.5 72.7h0.9v0.9h-0.9zM261.8 74.2h0.9v0.9h-0.9zM263.5 72.9h0.9v0.9h-0.9zM260.6 71.7h0.9v0.9h-0.9zM260.6 72.4h0.9v0.9h-0.9zM257.1 74.1h0.9v0.9h-0.9zM257.9 71.7h0.9v0.9h-0.9zM261.4 71h0.9v0.9h-0.9zM265.1 71h0.9v0.9h-0.9zM264.9 73.3h0.9v0.9h-0.9zM260.3 72.8h0.9v0.9h-0.9zM264.3 70.7h0.9v0.9h-0.9z" fill="#000" fill-opacity="0.82"/>
<path d="M261.6 70.9h0.9v0.9h-0.9zM261.5 71.2h0.9v0.9h-0.9zM261.6 73.6h0.9v0.9h-0.9zM264.5 71.5h0.9v0.9h-0.9zM261.8 73.3h0.9v0.9h-0.9zM260.8 70.2h0.9v0.9h-0.9zM263.9 69.7h0.9v0.9h-0.9zM263.5 69.8h0.9v0.9h-0.9zM265.4 69.2h0.9v0.9h-0.9zM263.3 74.2h0.9v0.9h-0.9zM259.3 75h0.9v0.9h-0.9zM259.6 69.2h0.9v0.9h-0.9zM263 72.8h0.9v0.9h-0.9zM261 67.5h0.9v0.9h-0.9zM261.3 71.4h0.9v0.9h-0.9zM260.6 71.6h0.9v0.9h-0.9zM257.4 71.7h0.9v0.9h-0.9zM265.4 73.8h0.9v0.9h-0.9zM260.6 70.8h0.9v0.9h-0.9zM262.3 73.6h0.9v0.9h-0.9zM263 69.5h0.9v0.9h-0.9zM261.8 72.1h0.9v0.9h-0.9zM264.6 73.4h0.9v0.9h-0.9zM262.6 73.8h0.9v0.9h-0.9zM260.5 74.8h0.9v0.9h-0.9z" fill="#000" fill-opacity="0.82"/>
<path d="M260.5 72.8h0.9v0.9h-0.9zM263.4 69.9h0.9v0.9h-0.9zM259.8 69.1h0.9v0.9h-0.9zM261.8 71.7h0.9v0.9h-0.9zM260.7 72.9h0.9v0.9h-0.9zM256.7 72.8h0.9v0.9h-0.9zM261.6 71.4h0.9v0.9h-0.9zM263.2 74.6h0.9v0.9h-0.9zM260.4 70.4h0.9v0.9h-0.9zM260.1 72.3h0.9v0.9h-0.9zM262.7 70.1h0.9v0.9h-0.9zM263.6 69.6h0.9v0.9h-0.9zM263.2 72.3h0.9v0.9h-0.9zM262.4 75.5h0.9v0.9h-0.9zM260.8 71.7h0.9v0.9h-0.9zM262.5 73.2h0.9v0.9h-0.9zM258.4 73h0.9v0.9h-0.9zM259.8 73.4h0.9v0.9h-0.9zM264.4 71.4h0.9v0.9h-0.9zM261.2 72.3h0.9v0.9h-0.9zM262.6 71.9h0.9v0.9h-0.9zM260.5 70.8h0.9v0.9h-0.9zM261 74.1h0.9v0.9h-0.9zM261.2 74.3h0.9v0.9h-0.9zM255.7 72.3h0.9v0.9h-0.9z" fill="#000" fill-opacity="0.82"/>
<path d="M262 71.8h0.9v0.9h-0.9zM257.7 71.5h0.9v0.9h-0.9zM264.2 69h0.9v0.9h-0.9zM259.2 70.4h0.9v0.9h-0.9zM260.2 73.3h0.9v0.9h-0.9zM262.7 68h0.9v0.9h-0.9zM264.6 70.2h0.9v0.9h-0.9zM260.1 75.1h0.9v0.9h-0.9zM261.2 69.7h0.9v0.9h-0.9zM260 70.9h0.9v0.9h-0.9zM259.2 71.8h0.9v0.9h-0.9zM263.3 72.1h0.9v0.9h-0.9zM259.2 72.6h0.9v0.9h-0.9zM261.5 73.2h0.9v0.9h-0.9zM260.7 72.9h0.9v0.9h-0.9zM266 71.1h0.9v0.9h-0.9zM259 73h0.9v0.9h-0.9zM259.6 71.6h0.9v0.9h-0.9zM261.8 72.4h0.9v0.9h-0.9zM260.8 73.5h0.9v0.9h-0.9zM261 69.7h0.9v0.9h-0.9zM263.3 70.9h0.9v0.9h-0.9zM264.1 70.2h0.9v0.9h-0.9zM262.7 72.2h0.9v0.9h-0.9zM255.4 70.5h0.9v0.9h-0.9z" fill="#000" fill-opacity="0.82"/>
<path d="M258.9 74.9h0.9v0.9h-0.9zM257.2 74.4h0.9v0.9h-0.9zM263.8 72.3h0.9v0.9h-0.9zM262.9 70.7h0.9v0.9h-0.9zM261.4 72.3h0.9v0.9h-0.9zM262.3 73h0.9v0.9h-0.9zM260.9 70.8h0.9v0.9h-0.9zM260.2 72.9h0.9v0.9h-0.9zM257.7 70.4h0.9v0.9h-0.9zM260.5 71.1h0.9v0.9h-0.9zM260.8 67.3h0.9v0.9h-0.9zM260.6 71.6h0.9v0.9h-0.9zM263.1 68h0.9v0.9h-0.9zM260.7 72.9h0.9v0.9h-0.9zM262.5 73.8h0.9v0.9h-0.9zM263.7 69.6h0.9v0.9h-0.9zM262.8 71h0.9v0.9h-0.9zM259.6 75h0.9v0.9h-0.9zM260 70.7h0.9v0.9h-0.9zM260.5 70.6h0.9v0.9h-0.9zM263.6 72.1h0.9v0.9h-0.9zM264.5 72h0.9v0.9h-0.9zM260 74h0.9v0.9h-0.9zM260 71.4h0.9v0.9h-0.9zM261 72h0.9v0.9h-0.9z" fill="#000" fill-opacity="0.82"/>
<path d="M264 70.3h0.9v0.9h-0.9zM262.2 71.7h0.9v0.9h-0.9zM258.6 70.5h0.9v0.9h-0.9zM260.9 72.7h0.9v0.9h-0.9zM262.1 72.6h0.9v0.9h-0.9zM261.5 71.1h0.9v0.9h-0.9zM262.3 69.9h0.9v0.9h-0.9zM258.4 71.9h0.9v0.9h-0.9zM258.2 71.6h0.9v0.9h-0.9zM259.7 71.3h0.9v0.9h-0.9zM261.3 70.5h0.9v0.9h-0.9zM260.5 69.1h0.9v0.9h-0.9zM261.7 70.3h0.9v0.9h-0.9zM262.3 66.7h0.9v0.9h-0.9zM259.6 72.7h0.9v0.9h-0.9zM256 72.4h0.9v0.9h-0.9zM261.6 72h0.9v0.9h-0.9zM258.1 73h0.9v0.9h-0.9zM263.1 68.2h0.9v0.9h-0.9zM265.4 70.2h0.9v0.9h-0.9zM262.6 69.7h0.9v0.9h-0.9zM264.6 70.8h0.9v0.9h-0.9zM266.9 71.3h0.9v0.9h-0.9zM260.1 70.9h0.9v0.9h-0.9zM266 69.2h0.9v0.9h-0.9z" fill="#000" fill-opacity="0.82"/>
<path d="M264 72.1h0.9v0.9h-0.9zM261.8 64.7h0.9v0.9h-0.9zM263 71.5h0.9v0.9h-0.9zM263 68.8h0.9v0.9h-0.9zM267.2 69.6h0.9v0.9h-0.9zM260.1 69.6h0.9v0.9h-0.9zM263.9 67.7h0.9v0.9h-0.9zM267.6 72.8h0.9v0.9h-0.9zM267.8 71.5h0.9v0.9h-0.9zM267.3 71.3h0.9v0.9h-0.9zM267.8 68.4h0.9v0.9h-0.9zM263 73h0.9v0.9h-0.9zM262.2 74.1h0.9v0.9h-0.9zM262.8 72.8h0.9v0.9h-0.9zM262.8 66.8h0.9v0.9h-0.9zM263.6 74.4h0.9v0.9h-0.9zM266.9 74.8h0.9v0.9h-0.9zM264.6 68.9h0.9v0.9h-0.9zM262.6 65.7h0.9v0.9h-0.9zM261.8 73.7h0.9v0.9h-0.9zM265.7 74h0.9v0.9h-0.9zM258.9 70h0.9v0.9h-0.9zM255.2 69.8h0.9v0.9h-0.9zM264.2 69.3h0.9v0.9h-0.9zM271 62.1h0.9v0.9h-0.9z" fill="#000" fill-opacity="0.82"/>
<path d="M262.2 71.7h0.9v0.9h-0.9zM270.8 74.1h0.9v0.9h-0.9zM271.3 69.4h0.9v0.9h-0.9zM266.3 73.9h0.9v0.9h-0.9zM264.5 71.6h0.9v0.9h-0.9zM261.8 70h0.9v0.9h-0.9zM260.8 65.6h0.9v0.9h-0.9zM263.5 70.7h0.9v0.9h-0.9zM262.1 70.4h0.9v0.9h-0.9zM279.4 42.9h0.9v0.9h-0.9zM280.3 43.5h0.9v0.9h-0.9zM290.7 42.3h0.9v0.9h-0.9zM279.1 49.3h0.9v0.9h-0.9zM284.1 44.8h0.9v0.9h-0.9zM283.7 44.9h0.9v0.9h-0.9zM283.6 46.9h0.9v0.9h-0.9zM284.5 46.5h0.9v0.9h-0.9zM280.1 42.8h0.9v0.9h-0.9zM279.5 46.1h0.9v0.9h-0.9zM284 40.7h0.9v0.9h-0.9zM283.3 50.9h0.9v0.9h-0.9zM285.2 38.3h0.9v0.9h-0.9zM281.3 44.7h0.9v0.9h-0.9zM281.5 43.9h0.9v0.9h-0.9zM285 43.1h0.9v0.9h-0.9z" fill="#000" fill-opacity="0.82"/>
<path d="M278.4 45.5h0.9v0.9h-0.9zM281.3 43h0.9v0.9h-0.9zM279.9 38.4h0.9v0.9h-0.9zM278 42.1h0.9v0.9h-0.9zM278.5 34.2h0.9v0.9h-0.9zM285 38.2h0.9v0.9h-0.9zM279.5 44.7h0.9v0.9h-0.9zM274.6 48.2h0.9v0.9h-0.9zM279.4 45.1h0.9v0.9h-0.9zM280.2 43.8h0.9v0.9h-0.9zM281.9 42.5h0.9v0.9h-0.9zM276.3 38.7h0.9v0.9h-0.9zM281.5 47.2h0.9v0.9h-0.9zM280 44.6h0.9v0.9h-0.9zM282.1 44.1h0.9v0.9h-0.9zM284.5 37.2h0.9v0.9h-0.9zM282.4 41.9h0.9v0.9h-0.9zM280.7 40h0.9v0.9h-0.9zM279.3 39.6h0.9v0.9h-0.9zM278.4 51.4h0.9v0.9h-0.9zM286.6 41.8h0.9v0.9h-0.9zM283.8 39h0.9v0.9h-0.9zM273.5 38h0.9v0.9h-0.9zM282 47.2h0.9v0.9h-0.9zM281.5 39.3h0.9v0.9h-0.9z" fill="#000" fill-opacity="0.82"/>
<path d="M280.9 39.5h0.9v0.9h-0.9zM277.5 42.5h0.9v0.9h-0.9zM280.4 40.1h0.9v0.9h-0.9zM279 40h0.9v0.9h-0.9zM282.3 47h0.9v0.9h-0.9zM281 50h0.9v0.9h-0.9zM276.9 44.3h0.9v0.9h-0.9zM278.2 42.6h0.9v0.9h-0.9zM281.9 44.4h0.9v0.9h-0.9zM284.9 40.2h0.9v0.9h-0.9zM278 42.6h0.9v0.9h-0.9zM282.5 40.2h0.9v0.9h-0.9zM284.2 47.7h0.9v0.9h-0.9zM277.4 44.5h0.9v0.9h-0.9zM284.6 35.8h0.9v0.9h-0.9zM282.2 41.8h0.9v0.9h-0.9zM277.4 47.6h0.9v0.9h-0.9zM282.2 40.9h0.9v0.9h-0.9zM282.9 44.5h0.9v0.9h-0.9zM283.8 44.1h0.9v0.9h-0.9zM282.8 38.5h0.9v0.9h-0.9zM280.4 43.2h0.9v0.9h-0.9zM273.5 51h0.9v0.9h-0.9zM280.5 39.3h0.9v0.9h-0.9zM276.3 44.3h0.9v0.9h-0.9z" fill="#000" fill-opacity="0.82"/>
<path d="M281.7 40.7h0.9v0.9h-0.9zM280.4 39.9h0.9v0.9h-0.9zM279.4 42.7h0.9v0.9h-0.9zM279.7 45.1h0.9v0.9h-0.9zM281.2 43.1h0.9v0.9h-0.9zM282.8 46.6h0.9v0.9h-0.9zM283.4 43h0.9v0.9h-0.9zM281.1 40h0.9v0.9h-0.9zM280.6 45h0.9v0.9h-0.9zM282.3 41.2h0.9v0.9h-0.9zM277.7 38.2h0.9v0.9h-0.9zM282.5 45.8h0.9v0.9h-0.9zM282.7 37.9h0.9v0.9h-0.9zM281 43.4h0.9v0.9h-0.9zM278.9 44.2h0.9v0.9h-0.9zM281 40h0.9v0.9h-0.9zM278 45.9h0.9v0.9h-0.9zM282.6 39.5h0.9v0.9h-0.9zM278.6 46h0.9v0.9h-0.9zM283.3 41.3h0.9v0.9h-0.9zM286.3 40.9h0.9v0.9h-0.9zM278.5 46.7h0.9v0.9h-0.9zM281 43.8h0.9v0.9h-0.9zM281.7 39.3h0.9v0.9h-0.9zM278.1 42.6h0.9v0.9h-0.9z" fill="#000" fill-opacity="0.82"/>
<path d="M285.7 38.6h0.9v0.9h-0.9zM285.6 42.6h0.9v0.9h-0.9zM278.4 44h0.9v0.9h-0.9zM283.3 39.4h0.9v0.9h-0.9zM275.4 44.8h0.9v0.9h-0.9zM278.4 44.6h0.9v0.9h-0.9zM276 43.1h0.9v0.9h-0.9zM279.2 38.2h0.9v0.9h-0.9zM280.9 43.3h0.9v0.9h-0.9zM280 39h0.9v0.9h-0.9zM282.2 36.8h0.9v0.9h-0.9zM283.2 43.9h0.9v0.9h-0.9zM286.5 44.7h0.9v0.9h-0.9zM282.6 43.3h0.9v0.9h-0.9zM281.7 38.3h0.9v0.9h-0.9zM285.9 43.6h0.9v0.9h-0.9zM280.8 39h0.9v0.9h-0.9zM285.9 43.6h0.9v0.9h-0.9zM278.1 45.4h0.9v0.9h-0.9zM287.1 41.6h0.9v0.9h-0.9zM282.8 41h0.9v0.9h-0.9zM279.8 46.4h0.9v0.9h-0.9zM290.6 41.5h0.9v0.9h-0.9zM281.2 45.3h0.9v0.9h-0.9zM280.7 45.1h0.9v0.9h-0.9z" fill="#000" fill-opacity="0.82"/>
<path d="M284 38.9h0.9v0.9h-0.9zM278.5 42.9h0.9v0.9h-0.9zM284 43.1h0.9v0.9h-0.9zM285.2 37.5h0.9v0.9h-0.9zM283 40.3h0.9v0.9h-0.9zM281.9 43.6h0.9v0.9h-0.9zM278.8 42.3h0.9v0.9h-0.9zM278.2 44h0.9v0.9h-0.9zM279.1 41.4h0.9v0.9h-0.9zM282.2 40.4h0.9v0.9h-0.9zM284.9 40h0.9v0.9h-0.9zM284.1 43.1h0.9v0.9h-0.9zM278.6 42.4h0.9v0.9h-0.9zM279.2 41.8h0.9v0.9h-0.9zM280.8 58.8h0.9v0.9h-0.9zM280.4 57.6h0.9v0.9h-0.9zM282.9 43.7h0.9v0.9h-0.9zM274.9 53.3h0.9v0.9h-0.9zM275.8 53.5h0.9v0.9h-0.9zM284.6 51.9h0.9v0.9h-0.9zM281 48.8h0.9v0.9h-0.9zM282.4 48.5h0.9v0.9h-0.9zM280 48.2h0.9v0.9h-0.9zM285 47h0.9v0.9h-0.9zM282.7 44.4h0.9v0.9h-0.9z" fill="#000" fill-opacity="0.82"/>
<path d="M279.5 43.3h0.9v0.9h-0.9zM281 53.3h0.9v0.9h-0.9zM282.5 47.6h0.9v0.9h-0.9zM283.4 48.3h0.9v0.9h-0.9zM282.7 51.3h0.9v0.9h-0.9zM283.2 38h0.9v0.9h-0.9zM277.8 53.7h0.9v0.9h-0.9zM281.3 60.9h0.9v0.9h-0.9zM280.9 47.3h0.9v0.9h-0.9zM285.9 52.7h0.9v0.9h-0.9zM287.1 52.5h0.9v0.9h-0.9zM281 53.5h0.9v0.9h-0.9zM279.3 47.8h0.9v0.9h-0.9zM280 48.9h0.9v0.9h-0.9zM283.9 47.7h0.9v0.9h-0.9zM282.5 47.6h0.9v0.9h-0.9zM284.2 36.7h0.9v0.9h-0.9zM281 50.8h0.9v0.9h-0.9zM278.5 54.9h0.9v0.9h-0.9zM282.2 56.2h0.9v0.9h-0.9zM284.4 53.1h0.9v0.9h-0.9zM281.2 44.7h0.9v0.9h-0.9zM281 47.8h0.9v0.9h-0.9zM282.3 47.8h0.9v0.9h-0.9zM290.5 42.3h0.9v0.9h-0.9z" fill="#000" fill-opacity="0.82"/>
<path d="M285 47.7h0.9v0.9h-0.9zM280.9 54.5h0.9v0.9h-0.9zM281.6 44.1h0.9v0.9h-0.9zM282.8 49.1h0.9v0.9h-0.9zM275.6 51h0.9v0.9h-0.9zM278.5 46.4h0.9v0.9h-0.9zM283 51.4h0.9v0.9h-0.9zM280.8 60.5h0.9v0.9h-0.9zM282.8 47h0.9v0.9h-0.9zM282.3 49.4h0.9v0.9h-0.9zM275.2 42.4h0.9v0.9h-0.9zM277.6 60h0.9v0.9h-0.9zM281.1 48.7h0.9v0.9h-0.9zM280 54.7h0.9v0.9h-0.9z" fill="#000" fill-opacity="0.82"/>
<rect x="254.6" y="27.6" width="53.1" height="49.2" fill="none" stroke="#7a7a7a" stroke-width="0.9"/>
<line x1="269.7" y1="27.6" x2="269.7" y2="76.8" stroke="#7a7a7a" stroke-width="0.8"/>
<line x1="254.6" y1="62.9" x2="307.7" y2="62.9" stroke="#7a7a7a" stroke-width="0.8"/>
<text x="279.35" y="23.3" font-size="7.9" font-weight="bold" text-anchor="middle" fill="#000" stroke="#000" stroke-width="0.3">0 h</text>
<text x="280.45" y="89.2" font-size="7.55" font-weight="bold" text-anchor="middle" fill="#000" stroke="#000" stroke-width="0.3">Annexin V</text>
<text x="246.9" y="52.5" font-size="7.6" font-weight="bold" text-anchor="middle" fill="#000" transform="rotate(-90 246.9 52.5)" stroke="#000" stroke-width="0.3">PI</text>
<text x="255.4" y="81.8" font-size="4.1" text-anchor="middle" fill="#222">10&#8304;</text>
<text x="252.7" y="76.2" font-size="4.1" text-anchor="middle" fill="#222" transform="rotate(-90 252.7 76.2)">10&#8304;</text>
<line x1="254.6" y1="76.8" x2="254.6" y2="77.8" stroke="#7a7a7a" stroke-width="0.5"/>
<line x1="253.6" y1="76.8" x2="254.6" y2="76.8" stroke="#7a7a7a" stroke-width="0.5"/>
<text x="268.68" y="81.8" font-size="4.1" text-anchor="middle" fill="#222">10&#185;</text>
<text x="252.7" y="63.9" font-size="4.1" text-anchor="middle" fill="#222" transform="rotate(-90 252.7 63.9)">10&#185;</text>
<line x1="267.88" y1="76.8" x2="267.88" y2="77.8" stroke="#7a7a7a" stroke-width="0.5"/>
<line x1="253.6" y1="64.5" x2="254.6" y2="64.5" stroke="#7a7a7a" stroke-width="0.5"/>
<text x="281.95" y="81.8" font-size="4.1" text-anchor="middle" fill="#222">10&#178;</text>
<text x="252.7" y="51.6" font-size="4.1" text-anchor="middle" fill="#222" transform="rotate(-90 252.7 51.6)">10&#178;</text>
<line x1="281.15" y1="76.8" x2="281.15" y2="77.8" stroke="#7a7a7a" stroke-width="0.5"/>
<line x1="253.6" y1="52.2" x2="254.6" y2="52.2" stroke="#7a7a7a" stroke-width="0.5"/>
<text x="295.23" y="81.8" font-size="4.1" text-anchor="middle" fill="#222">10&#179;</text>
<text x="252.7" y="39.3" font-size="4.1" text-anchor="middle" fill="#222" transform="rotate(-90 252.7 39.3)">10&#179;</text>
<line x1="294.43" y1="76.8" x2="294.43" y2="77.8" stroke="#7a7a7a" stroke-width="0.5"/>
<line x1="253.6" y1="39.9" x2="254.6" y2="39.9" stroke="#7a7a7a" stroke-width="0.5"/>
<text x="308.5" y="81.8" font-size="4.1" text-anchor="middle" fill="#222">10&#8308;</text>
<text x="252.7" y="27" font-size="4.1" text-anchor="middle" fill="#222" transform="rotate(-90 252.7 27)">10&#8308;</text>
<line x1="307.7" y1="76.8" x2="307.7" y2="77.8" stroke="#7a7a7a" stroke-width="0.5"/>
<line x1="253.6" y1="27.6" x2="254.6" y2="27.6" stroke="#7a7a7a" stroke-width="0.5"/>
<path d="M346.2 73.2h0.8v0.8h-0.8zM351.3 72.7h0.8v0.8h-0.8zM345.2 62.9h0.8v0.8h-0.8zM343.1 58.7h0.8v0.8h-0.8zM334.3 55.5h0.8v0.8h-0.8zM339.6 55h0.8v0.8h-0.8zM354.2 62h0.8v0.8h-0.8zM354.3 66.6h0.8v0.8h-0.8zM352.2 67.7h0.8v0.8h-0.8zM341.9 66.2h0.8v0.8h-0.8zM343.8 55.9h0.8v0.8h-0.8zM339.4 73.4h0.8v0.8h-0.8zM351.6 53.5h0.8v0.8h-0.8zM347.8 62.9h0.8v0.8h-0.8zM348.5 57.3h0.8v0.8h-0.8zM337.3 60.2h0.8v0.8h-0.8zM351.8 66.1h0.8v0.8h-0.8zM350.5 68.5h0.8v0.8h-0.8zM339.3 59.7h0.8v0.8h-0.8zM348.3 67.7h0.8v0.8h-0.8zM347.1 64h0.8v0.8h-0.8zM331.3 59.8h0.8v0.8h-0.8zM362.7 61.8h0.8v0.8h-0.8zM333.6 61h0.8v0.8h-0.8zM336.3 54.8h0.8v0.8h-0.8z" fill="#000" fill-opacity="0.6"/>
<path d="M347.5 73.2h0.8v0.8h-0.8zM349.1 65.2h0.8v0.8h-0.8zM352.9 61.5h0.8v0.8h-0.8zM340.2 59.2h0.8v0.8h-0.8zM348.3 57.9h0.8v0.8h-0.8zM341.5 57.2h0.8v0.8h-0.8zM335.9 52.1h0.8v0.8h-0.8zM345.4 57.2h0.8v0.8h-0.8zM346.3 70.8h0.8v0.8h-0.8zM348 59.8h0.8v0.8h-0.8zM338.1 51.7h0.8v0.8h-0.8zM348.5 53.3h0.8v0.8h-0.8zM348.9 51.7h0.8v0.8h-0.8zM335.6 49.4h0.8v0.8h-0.8zM339.8 46.6h0.8v0.8h-0.8zM333.2 52.1h0.8v0.8h-0.8zM335.3 64.6h0.8v0.8h-0.8zM333.8 45.4h0.8v0.8h-0.8zM333.5 54.1h0.8v0.8h-0.8zM336.1 56h0.8v0.8h-0.8zM328.3 71.5h0.8v0.8h-0.8zM343.9 49.7h0.8v0.8h-0.8zM329.2 51.3h0.8v0.8h-0.8zM337 30.7h0.8v0.8h-0.8zM335.1 37.2h0.8v0.8h-0.8z" fill="#000" fill-opacity="0.6"/>
<path d="M337.2 62h0.8v0.8h-0.8zM340 37h0.8v0.8h-0.8zM341.6 57.8h0.8v0.8h-0.8zM333.3 54.3h0.8v0.8h-0.8zM342.3 47.1h0.8v0.8h-0.8zM334.9 45.2h0.8v0.8h-0.8zM340.6 31.3h0.8v0.8h-0.8zM341.8 41.6h0.8v0.8h-0.8zM339.5 35.9h0.8v0.8h-0.8zM330.5 44.8h0.8v0.8h-0.8zM339 36h0.8v0.8h-0.8zM337.9 44.5h0.8v0.8h-0.8zM341 47.3h0.8v0.8h-0.8zM337.3 48.5h0.8v0.8h-0.8zM343.6 46.9h0.8v0.8h-0.8zM334.9 67.2h0.8v0.8h-0.8zM335.4 55.9h0.8v0.8h-0.8zM331.5 51.7h0.8v0.8h-0.8zM331.9 37h0.8v0.8h-0.8zM328.2 59.9h0.8v0.8h-0.8zM337.1 36.9h0.8v0.8h-0.8zM343.7 44h0.8v0.8h-0.8zM349.5 70.9h0.8v0.8h-0.8zM344.3 63.8h0.8v0.8h-0.8zM347 74.5h0.8v0.8h-0.8z" fill="#000" fill-opacity="0.6"/>
<path d="M358.4 63.9h0.8v0.8h-0.8zM360.1 70.1h0.8v0.8h-0.8zM355.4 70.2h0.8v0.8h-0.8zM354.8 66.1h0.8v0.8h-0.8zM345.9 67.3h0.8v0.8h-0.8zM349.5 72.4h0.8v0.8h-0.8z" fill="#000" fill-opacity="0.6"/>
<path d="M330.7 71.6h0.9v0.9h-0.9zM334.3 71.6h0.9v0.9h-0.9zM331.5 70.4h0.9v0.9h-0.9zM329.7 70.4h0.9v0.9h-0.9zM335.5 72.2h0.9v0.9h-0.9zM337.4 70.3h0.9v0.9h-0.9zM333.3 72.7h0.9v0.9h-0.9zM335 70.2h0.9v0.9h-0.9zM333.3 75h0.9v0.9h-0.9zM327.8 71.6h0.9v0.9h-0.9zM329.8 74.3h0.9v0.9h-0.9zM335.6 69.7h0.9v0.9h-0.9zM334.2 70.9h0.9v0.9h-0.9zM333.2 70.5h0.9v0.9h-0.9zM332.3 71.8h0.9v0.9h-0.9zM335.4 74.1h0.9v0.9h-0.9zM327.5 75h0.9v0.9h-0.9zM332.4 73.4h0.9v0.9h-0.9zM335.3 71.8h0.9v0.9h-0.9zM334.6 69.2h0.9v0.9h-0.9zM335.7 68.7h0.9v0.9h-0.9zM335.9 71.3h0.9v0.9h-0.9zM329.7 75h0.9v0.9h-0.9zM330.6 71.4h0.9v0.9h-0.9zM328.2 73.4h0.9v0.9h-0.9z" fill="#000" fill-opacity="0.82"/>
<path d="M335.1 69.4h0.9v0.9h-0.9zM337.4 70.6h0.9v0.9h-0.9zM331 70.4h0.9v0.9h-0.9zM328 74.8h0.9v0.9h-0.9zM335.9 68.4h0.9v0.9h-0.9zM332.4 71.3h0.9v0.9h-0.9zM331.7 73h0.9v0.9h-0.9zM338 68.1h0.9v0.9h-0.9zM334.7 72.6h0.9v0.9h-0.9zM331.6 71.9h0.9v0.9h-0.9zM328.8 75.3h0.9v0.9h-0.9zM331 71.4h0.9v0.9h-0.9zM332.6 70.3h0.9v0.9h-0.9zM329.6 72.6h0.9v0.9h-0.9zM336.4 69.6h0.9v0.9h-0.9zM333.8 68.6h0.9v0.9h-0.9zM331.3 69.7h0.9v0.9h-0.9zM332.1 73h0.9v0.9h-0.9zM327.7 72.5h0.9v0.9h-0.9zM333.1 69.9h0.9v0.9h-0.9zM334.6 72.4h0.9v0.9h-0.9zM333.6 70.5h0.9v0.9h-0.9zM332.3 70.8h0.9v0.9h-0.9zM332 72.5h0.9v0.9h-0.9zM331.6 73.8h0.9v0.9h-0.9z" fill="#000" fill-opacity="0.82"/>
<path d="M339.4 67.6h0.9v0.9h-0.9zM333.3 72.8h0.9v0.9h-0.9zM334.1 70.6h0.9v0.9h-0.9zM331.1 74.1h0.9v0.9h-0.9zM334.1 71.9h0.9v0.9h-0.9zM330.2 73.9h0.9v0.9h-0.9zM334.5 70.5h0.9v0.9h-0.9zM334.1 74.7h0.9v0.9h-0.9zM327.3 75.2h0.9v0.9h-0.9zM329.2 71h0.9v0.9h-0.9zM331.8 73h0.9v0.9h-0.9zM332.5 69.8h0.9v0.9h-0.9zM328.5 72.7h0.9v0.9h-0.9zM332.4 70.4h0.9v0.9h-0.9zM330.1 72.6h0.9v0.9h-0.9zM330.9 71.5h0.9v0.9h-0.9zM332.5 71.2h0.9v0.9h-0.9zM334.1 69h0.9v0.9h-0.9zM332.2 73.2h0.9v0.9h-0.9zM335.6 71.2h0.9v0.9h-0.9zM332.5 69.1h0.9v0.9h-0.9zM328.1 75.5h0.9v0.9h-0.9zM334.2 71.9h0.9v0.9h-0.9zM327.9 70.3h0.9v0.9h-0.9zM329.5 71.1h0.9v0.9h-0.9z" fill="#000" fill-opacity="0.82"/>
<path d="M332.8 69.9h0.9v0.9h-0.9zM336.7 68.7h0.9v0.9h-0.9zM330.9 74h0.9v0.9h-0.9zM333.3 69.8h0.9v0.9h-0.9zM334.6 74h0.9v0.9h-0.9zM329.1 72.9h0.9v0.9h-0.9zM329.5 69.9h0.9v0.9h-0.9zM334.1 72.2h0.9v0.9h-0.9zM335 71.3h0.9v0.9h-0.9zM326.9 74.3h0.9v0.9h-0.9zM330.6 70.6h0.9v0.9h-0.9zM329.4 74.5h0.9v0.9h-0.9zM331.6 75.5h0.9v0.9h-0.9zM333.7 67.9h0.9v0.9h-0.9zM334.8 72.8h0.9v0.9h-0.9zM332.5 69.7h0.9v0.9h-0.9zM337.2 67.3h0.9v0.9h-0.9zM332.2 68.6h0.9v0.9h-0.9zM329 70.5h0.9v0.9h-0.9zM335.4 72.4h0.9v0.9h-0.9zM331.3 70h0.9v0.9h-0.9zM332.2 72.5h0.9v0.9h-0.9zM328.2 71.8h0.9v0.9h-0.9zM332.1 73.1h0.9v0.9h-0.9zM332.6 72.5h0.9v0.9h-0.9z" fill="#000" fill-opacity="0.82"/>
<path d="M329 69.1h0.9v0.9h-0.9zM333.3 69.8h0.9v0.9h-0.9zM332.1 71.3h0.9v0.9h-0.9zM333.7 69.9h0.9v0.9h-0.9zM336.3 70h0.9v0.9h-0.9zM333.8 72.2h0.9v0.9h-0.9zM335.2 71.2h0.9v0.9h-0.9zM327.6 73h0.9v0.9h-0.9zM337.5 70.2h0.9v0.9h-0.9zM333.9 71.9h0.9v0.9h-0.9zM330.6 71.5h0.9v0.9h-0.9zM330.6 74.6h0.9v0.9h-0.9zM333.4 74.4h0.9v0.9h-0.9zM333.8 74.4h0.9v0.9h-0.9zM333.7 69.2h0.9v0.9h-0.9zM337.2 70.1h0.9v0.9h-0.9zM335.7 70.6h0.9v0.9h-0.9zM331.5 72.5h0.9v0.9h-0.9zM329.3 71.2h0.9v0.9h-0.9zM330 72h0.9v0.9h-0.9zM328.7 73.4h0.9v0.9h-0.9zM333.2 74.9h0.9v0.9h-0.9zM337.5 69.3h0.9v0.9h-0.9zM334.8 70.3h0.9v0.9h-0.9zM333.5 71.2h0.9v0.9h-0.9z" fill="#000" fill-opacity="0.82"/>
<path d="M330.9 72.6h0.9v0.9h-0.9zM328.3 74.5h0.9v0.9h-0.9zM331.6 70.3h0.9v0.9h-0.9zM331.4 73.2h0.9v0.9h-0.9zM330.5 73.5h0.9v0.9h-0.9zM334 73.8h0.9v0.9h-0.9zM329.4 73h0.9v0.9h-0.9zM333.8 73.7h0.9v0.9h-0.9zM333.1 72.8h0.9v0.9h-0.9zM328.4 72.7h0.9v0.9h-0.9zM337 69.1h0.9v0.9h-0.9zM338.4 67.7h0.9v0.9h-0.9zM331.6 69.4h0.9v0.9h-0.9zM334.2 71.4h0.9v0.9h-0.9zM338 69.5h0.9v0.9h-0.9zM331.7 69.7h0.9v0.9h-0.9zM332.2 73.6h0.9v0.9h-0.9zM334.4 73h0.9v0.9h-0.9zM334.8 70.6h0.9v0.9h-0.9zM334.1 71.3h0.9v0.9h-0.9zM333.4 69.5h0.9v0.9h-0.9zM333.5 71.8h0.9v0.9h-0.9zM335.2 73h0.9v0.9h-0.9zM336.6 68.2h0.9v0.9h-0.9zM327.3 74.7h0.9v0.9h-0.9z" fill="#000" fill-opacity="0.82"/>
<path d="M333.3 72h0.9v0.9h-0.9zM329.3 72.4h0.9v0.9h-0.9zM332.9 72.8h0.9v0.9h-0.9zM338.5 69.4h0.9v0.9h-0.9zM330.7 68.5h0.9v0.9h-0.9zM335.4 70.2h0.9v0.9h-0.9zM332.1 70.2h0.9v0.9h-0.9zM334.4 67.7h0.9v0.9h-0.9zM332.7 71.9h0.9v0.9h-0.9zM333.2 73.7h0.9v0.9h-0.9zM332.1 72.1h0.9v0.9h-0.9zM334.8 68h0.9v0.9h-0.9zM331.6 72.3h0.9v0.9h-0.9zM335.1 69.2h0.9v0.9h-0.9zM334.6 71.4h0.9v0.9h-0.9zM328.3 71.2h0.9v0.9h-0.9zM328.4 73.9h0.9v0.9h-0.9zM333 72.8h0.9v0.9h-0.9zM334.7 69.8h0.9v0.9h-0.9zM335.4 71.8h0.9v0.9h-0.9zM333.7 72h0.9v0.9h-0.9zM328.8 74.1h0.9v0.9h-0.9zM329.5 71.1h0.9v0.9h-0.9zM331.4 72.5h0.9v0.9h-0.9zM332.3 71.3h0.9v0.9h-0.9z" fill="#000" fill-opacity="0.82"/>
<path d="M329.6 73.4h0.9v0.9h-0.9zM330.3 70.3h0.9v0.9h-0.9zM332.7 74.2h0.9v0.9h-0.9zM331.3 70.5h0.9v0.9h-0.9zM336.3 73h0.9v0.9h-0.9zM331.6 71.8h0.9v0.9h-0.9zM332.8 73.4h0.9v0.9h-0.9zM333.6 68h0.9v0.9h-0.9zM329.3 71.1h0.9v0.9h-0.9zM333.6 71.4h0.9v0.9h-0.9zM337.4 69h0.9v0.9h-0.9zM333.3 71.5h0.9v0.9h-0.9zM333.2 74h0.9v0.9h-0.9zM336 69h0.9v0.9h-0.9zM334.3 70.2h0.9v0.9h-0.9zM332.7 71.9h0.9v0.9h-0.9zM332.5 70.9h0.9v0.9h-0.9zM336.7 69.3h0.9v0.9h-0.9zM334.4 73.8h0.9v0.9h-0.9zM334.1 72.8h0.9v0.9h-0.9zM336.3 71.9h0.9v0.9h-0.9zM337.2 67h0.9v0.9h-0.9zM337.9 69.3h0.9v0.9h-0.9zM327.5 73h0.9v0.9h-0.9zM328.5 73.6h0.9v0.9h-0.9z" fill="#000" fill-opacity="0.82"/>
<path d="M328.2 72h0.9v0.9h-0.9zM333.2 71.7h0.9v0.9h-0.9zM330.2 72.4h0.9v0.9h-0.9zM332.1 72.1h0.9v0.9h-0.9zM332.4 71.4h0.9v0.9h-0.9zM334.9 67.8h0.9v0.9h-0.9zM331 72.7h0.9v0.9h-0.9zM331.3 71.4h0.9v0.9h-0.9zM331.2 72.7h0.9v0.9h-0.9zM335.9 69.8h0.9v0.9h-0.9zM331.7 72.8h0.9v0.9h-0.9zM331.7 68.7h0.9v0.9h-0.9zM333.2 70.8h0.9v0.9h-0.9zM330.8 73.7h0.9v0.9h-0.9zM332.5 70.7h0.9v0.9h-0.9zM332.4 71.6h0.9v0.9h-0.9zM333.6 71.6h0.9v0.9h-0.9zM331.1 70.2h0.9v0.9h-0.9zM329.3 73h0.9v0.9h-0.9zM329.2 74.6h0.9v0.9h-0.9zM328.7 70.4h0.9v0.9h-0.9zM331.9 68.9h0.9v0.9h-0.9zM337 67.9h0.9v0.9h-0.9zM332.3 71.4h0.9v0.9h-0.9zM330.1 69.8h0.9v0.9h-0.9z" fill="#000" fill-opacity="0.82"/>
<path d="M335.3 74.3h0.9v0.9h-0.9zM328.3 74.7h0.9v0.9h-0.9zM332.4 73.3h0.9v0.9h-0.9zM331 73.7h0.9v0.9h-0.9zM334.9 71.7h0.9v0.9h-0.9zM336.5 69.6h0.9v0.9h-0.9zM336.7 68.5h0.9v0.9h-0.9zM337.1 64.8h0.9v0.9h-0.9zM332.4 70.4h0.9v0.9h-0.9zM332.4 73.6h0.9v0.9h-0.9zM334.4 71h0.9v0.9h-0.9zM337.2 67h0.9v0.9h-0.9zM330.1 75.5h0.9v0.9h-0.9zM333.3 67.7h0.9v0.9h-0.9zM333.4 69.3h0.9v0.9h-0.9zM336.5 71.9h0.9v0.9h-0.9zM330.9 74.8h0.9v0.9h-0.9zM330.1 74.5h0.9v0.9h-0.9zM334 70.8h0.9v0.9h-0.9zM328.4 73.2h0.9v0.9h-0.9zM329.7 68.8h0.9v0.9h-0.9zM334 71.7h0.9v0.9h-0.9zM334.6 70.9h0.9v0.9h-0.9zM330.6 67.4h0.9v0.9h-0.9zM333.7 72.9h0.9v0.9h-0.9z" fill="#000" fill-opacity="0.82"/>
<path d="M330.7 70.1h0.9v0.9h-0.9zM332.3 68.9h0.9v0.9h-0.9zM332.4 73.1h0.9v0.9h-0.9zM336.6 70.3h0.9v0.9h-0.9zM333 72.9h0.9v0.9h-0.9zM340.5 65.6h0.9v0.9h-0.9zM331.1 68.3h0.9v0.9h-0.9zM331 68.1h0.9v0.9h-0.9zM335.1 69.6h0.9v0.9h-0.9zM336.1 68.4h0.9v0.9h-0.9zM334.2 70.1h0.9v0.9h-0.9zM338.7 69.1h0.9v0.9h-0.9zM340.9 65.5h0.9v0.9h-0.9zM334.6 73.3h0.9v0.9h-0.9zM336.2 69.3h0.9v0.9h-0.9zM334.3 71.5h0.9v0.9h-0.9zM334.1 66.5h0.9v0.9h-0.9zM335.3 67.4h0.9v0.9h-0.9zM338.5 66.3h0.9v0.9h-0.9zM335.9 67.8h0.9v0.9h-0.9zM336.7 66.4h0.9v0.9h-0.9zM339.5 63.1h0.9v0.9h-0.9zM334.1 67.2h0.9v0.9h-0.9zM337.8 67.6h0.9v0.9h-0.9zM337.2 66.9h0.9v0.9h-0.9z" fill="#000" fill-opacity="0.82"/>
<path d="M332.9 66.7h0.9v0.9h-0.9zM334.3 67.6h0.9v0.9h-0.9zM336.5 69h0.9v0.9h-0.9zM339 66.8h0.9v0.9h-0.9zM332.8 66.9h0.9v0.9h-0.9zM335.7 69.3h0.9v0.9h-0.9zM342.5 66.1h0.9v0.9h-0.9zM341.8 70.7h0.9v0.9h-0.9zM331.7 73.2h0.9v0.9h-0.9zM339.6 70.3h0.9v0.9h-0.9zM335.5 71h0.9v0.9h-0.9zM333.8 69h0.9v0.9h-0.9zM335.6 73.1h0.9v0.9h-0.9zM334.7 71.3h0.9v0.9h-0.9zM335.7 66.6h0.9v0.9h-0.9zM336.4 69.9h0.9v0.9h-0.9zM332.9 71.2h0.9v0.9h-0.9zM332.9 67.3h0.9v0.9h-0.9zM336.3 67.6h0.9v0.9h-0.9zM332 65.7h0.9v0.9h-0.9zM335.6 69.1h0.9v0.9h-0.9zM333.8 69.7h0.9v0.9h-0.9zM330 71.8h0.9v0.9h-0.9zM337 68.6h0.9v0.9h-0.9zM333.3 69.6h0.9v0.9h-0.9z" fill="#000" fill-opacity="0.82"/>
<path d="M336 71.1h0.9v0.9h-0.9zM336.5 68.7h0.9v0.9h-0.9zM332.9 71.8h0.9v0.9h-0.9zM339.7 65.5h0.9v0.9h-0.9zM337.8 68.3h0.9v0.9h-0.9zM335.3 65.2h0.9v0.9h-0.9zM341.8 61h0.9v0.9h-0.9zM336.6 67.1h0.9v0.9h-0.9zM339.6 65.7h0.9v0.9h-0.9zM335.6 70h0.9v0.9h-0.9zM337.1 66.5h0.9v0.9h-0.9zM338 68.5h0.9v0.9h-0.9zM339.1 65.7h0.9v0.9h-0.9zM335.3 67.6h0.9v0.9h-0.9zM332.5 70.4h0.9v0.9h-0.9zM337 71.6h0.9v0.9h-0.9zM334.3 70h0.9v0.9h-0.9zM339.6 66.5h0.9v0.9h-0.9zM335.7 68.8h0.9v0.9h-0.9zM333 67h0.9v0.9h-0.9zM339.5 67.3h0.9v0.9h-0.9zM335.2 65.4h0.9v0.9h-0.9zM335.9 71.4h0.9v0.9h-0.9zM331.4 67.9h0.9v0.9h-0.9zM339.5 70.5h0.9v0.9h-0.9z" fill="#000" fill-opacity="0.82"/>
<path d="M354.9 40.4h0.9v0.9h-0.9zM352.1 40.8h0.9v0.9h-0.9zM351.9 42.5h0.9v0.9h-0.9zM351 49.7h0.9v0.9h-0.9zM351.4 43.2h0.9v0.9h-0.9zM350.6 45.6h0.9v0.9h-0.9zM348.9 46.1h0.9v0.9h-0.9zM352.1 50.1h0.9v0.9h-0.9zM344.5 42.4h0.9v0.9h-0.9zM346.8 49.6h0.9v0.9h-0.9zM357.4 42.3h0.9v0.9h-0.9zM350.7 49h0.9v0.9h-0.9zM343.4 46.9h0.9v0.9h-0.9zM341.4 49.1h0.9v0.9h-0.9zM348.9 43.3h0.9v0.9h-0.9zM351.4 41.8h0.9v0.9h-0.9zM353.6 43.2h0.9v0.9h-0.9zM351.5 54.2h0.9v0.9h-0.9zM349.1 48.8h0.9v0.9h-0.9zM348 50.6h0.9v0.9h-0.9zM353.2 44h0.9v0.9h-0.9zM353.3 49.8h0.9v0.9h-0.9zM354.4 42.9h0.9v0.9h-0.9zM350.2 49.1h0.9v0.9h-0.9zM346.2 44h0.9v0.9h-0.9z" fill="#000" fill-opacity="0.82"/>
<path d="M351.8 46.3h0.9v0.9h-0.9zM355.8 49.3h0.9v0.9h-0.9zM351.3 45.9h0.9v0.9h-0.9zM346.6 45.5h0.9v0.9h-0.9zM351.2 43.4h0.9v0.9h-0.9zM350.6 46.9h0.9v0.9h-0.9zM347.7 43.5h0.9v0.9h-0.9zM345.3 51.4h0.9v0.9h-0.9zM347.4 39.2h0.9v0.9h-0.9zM352.6 42.8h0.9v0.9h-0.9zM353.2 41.9h0.9v0.9h-0.9zM356.5 44.8h0.9v0.9h-0.9zM350.8 44.9h0.9v0.9h-0.9zM349.8 48.1h0.9v0.9h-0.9zM356.1 40.4h0.9v0.9h-0.9zM347.3 48.3h0.9v0.9h-0.9zM353.5 37.4h0.9v0.9h-0.9zM348.4 41.5h0.9v0.9h-0.9zM352 45.9h0.9v0.9h-0.9zM348.3 41.1h0.9v0.9h-0.9zM352.4 35.6h0.9v0.9h-0.9zM352.2 43.2h0.9v0.9h-0.9zM355.9 46.1h0.9v0.9h-0.9zM348.7 44.2h0.9v0.9h-0.9zM349.6 42.1h0.9v0.9h-0.9z" fill="#000" fill-opacity="0.82"/>
<path d="M350.6 48.3h0.9v0.9h-0.9zM346.1 45.6h0.9v0.9h-0.9zM354.7 45.7h0.9v0.9h-0.9zM348.1 42.4h0.9v0.9h-0.9zM348 39.3h0.9v0.9h-0.9zM353.7 43.4h0.9v0.9h-0.9zM348.4 39.8h0.9v0.9h-0.9zM349.3 43.1h0.9v0.9h-0.9zM355.3 40.6h0.9v0.9h-0.9zM350.7 48.7h0.9v0.9h-0.9zM352.3 43.1h0.9v0.9h-0.9zM344.2 52.8h0.9v0.9h-0.9zM352.1 42.1h0.9v0.9h-0.9zM350.1 40.9h0.9v0.9h-0.9zM347.8 39.9h0.9v0.9h-0.9zM351.8 46h0.9v0.9h-0.9zM350.9 47.5h0.9v0.9h-0.9zM351.9 44.4h0.9v0.9h-0.9zM347.9 48h0.9v0.9h-0.9zM353.8 45.6h0.9v0.9h-0.9zM354 41.2h0.9v0.9h-0.9zM347.6 50.7h0.9v0.9h-0.9zM348.7 46.3h0.9v0.9h-0.9zM349.9 44.9h0.9v0.9h-0.9zM349.6 42.8h0.9v0.9h-0.9z" fill="#000" fill-opacity="0.82"/>
<path d="M345.3 54.3h0.9v0.9h-0.9zM351 36.8h0.9v0.9h-0.9zM347.8 41.3h0.9v0.9h-0.9zM348.3 35.5h0.9v0.9h-0.9zM352 50.3h0.9v0.9h-0.9zM349.7 47.8h0.9v0.9h-0.9zM352.1 39h0.9v0.9h-0.9zM353.9 36.5h0.9v0.9h-0.9zM348.8 43.9h0.9v0.9h-0.9zM354 43.5h0.9v0.9h-0.9zM350 41.6h0.9v0.9h-0.9zM350.7 44.7h0.9v0.9h-0.9zM352.5 49.2h0.9v0.9h-0.9zM352.5 43.8h0.9v0.9h-0.9zM350 51.1h0.9v0.9h-0.9zM351 44.3h0.9v0.9h-0.9zM355.5 48.5h0.9v0.9h-0.9zM352 43.5h0.9v0.9h-0.9zM348.6 49.6h0.9v0.9h-0.9zM349.1 48.9h0.9v0.9h-0.9zM348.2 46h0.9v0.9h-0.9zM351.5 44.7h0.9v0.9h-0.9zM351.1 45.8h0.9v0.9h-0.9zM347.2 41.6h0.9v0.9h-0.9zM350 51.9h0.9v0.9h-0.9z" fill="#000" fill-opacity="0.82"/>
<path d="M350 41.1h0.9v0.9h-0.9zM348.5 45.5h0.9v0.9h-0.9zM353.8 40.9h0.9v0.9h-0.9zM352 44.6h0.9v0.9h-0.9zM349.4 41.3h0.9v0.9h-0.9zM350 42h0.9v0.9h-0.9zM351.9 37h0.9v0.9h-0.9zM353.6 46.2h0.9v0.9h-0.9zM352 49.7h0.9v0.9h-0.9zM352.1 37.2h0.9v0.9h-0.9zM350.6 46.3h0.9v0.9h-0.9zM348.5 41h0.9v0.9h-0.9zM351.6 46.1h0.9v0.9h-0.9zM349.2 44.2h0.9v0.9h-0.9zM349 43h0.9v0.9h-0.9zM350.2 48.9h0.9v0.9h-0.9zM345.8 45.2h0.9v0.9h-0.9zM355 43.9h0.9v0.9h-0.9zM350.8 47.7h0.9v0.9h-0.9zM347.6 41.1h0.9v0.9h-0.9zM345.7 40.9h0.9v0.9h-0.9zM351.1 47.6h0.9v0.9h-0.9zM349.2 42.5h0.9v0.9h-0.9zM351.5 46.5h0.9v0.9h-0.9zM351.1 36.8h0.9v0.9h-0.9z" fill="#000" fill-opacity="0.82"/>
<path d="M348.9 35.4h0.9v0.9h-0.9zM351.1 41h0.9v0.9h-0.9zM348.5 51.3h0.9v0.9h-0.9zM354.1 44.9h0.9v0.9h-0.9zM351.2 44.9h0.9v0.9h-0.9zM347.7 53.7h0.9v0.9h-0.9zM355.5 49.3h0.9v0.9h-0.9zM347.4 54.9h0.9v0.9h-0.9zM352.3 58.5h0.9v0.9h-0.9zM346.5 53.3h0.9v0.9h-0.9zM348.7 47.4h0.9v0.9h-0.9zM349.7 51.4h0.9v0.9h-0.9zM352.4 56.3h0.9v0.9h-0.9zM347.1 54.4h0.9v0.9h-0.9zM348.4 50.6h0.9v0.9h-0.9zM348 59.7h0.9v0.9h-0.9zM348.2 44.8h0.9v0.9h-0.9zM347.1 58.3h0.9v0.9h-0.9zM356.2 48.4h0.9v0.9h-0.9zM348.4 52.2h0.9v0.9h-0.9zM345.1 56.1h0.9v0.9h-0.9zM349.3 55.5h0.9v0.9h-0.9zM356.5 52.6h0.9v0.9h-0.9zM352 58.5h0.9v0.9h-0.9zM347.5 50.8h0.9v0.9h-0.9z" fill="#000" fill-opacity="0.82"/>
<path d="M354.3 57.8h0.9v0.9h-0.9zM349.9 48.2h0.9v0.9h-0.9zM352.2 56.8h0.9v0.9h-0.9zM356.3 61.9h0.9v0.9h-0.9zM352 55.4h0.9v0.9h-0.9zM349.7 51.1h0.9v0.9h-0.9zM350.5 55.3h0.9v0.9h-0.9zM351.5 59.8h0.9v0.9h-0.9zM350.5 51.1h0.9v0.9h-0.9zM352 62.3h0.9v0.9h-0.9zM346.9 56.2h0.9v0.9h-0.9zM351.2 56.9h0.9v0.9h-0.9zM351.1 53.5h0.9v0.9h-0.9zM349.2 63h0.9v0.9h-0.9zM354.9 46.5h0.9v0.9h-0.9zM341.6 56.3h0.9v0.9h-0.9zM347.4 51.2h0.9v0.9h-0.9zM344.5 55.9h0.9v0.9h-0.9zM349.3 51.1h0.9v0.9h-0.9zM352.3 67h0.9v0.9h-0.9zM354.1 60.3h0.9v0.9h-0.9zM348.2 57.5h0.9v0.9h-0.9zM349.4 60.2h0.9v0.9h-0.9zM351.3 53.8h0.9v0.9h-0.9zM351.2 50.2h0.9v0.9h-0.9z" fill="#000" fill-opacity="0.82"/>
<path d="M352 62h0.9v0.9h-0.9zM348.4 57h0.9v0.9h-0.9zM344.3 59h0.9v0.9h-0.9zM352.2 48.5h0.9v0.9h-0.9zM354.9 54.6h0.9v0.9h-0.9z" fill="#000" fill-opacity="0.82"/>
<rect x="325.8" y="27.6" width="52.5" height="49.2" fill="none" stroke="#7a7a7a" stroke-width="0.9"/>
<line x1="340.6" y1="27.6" x2="340.6" y2="76.8" stroke="#7a7a7a" stroke-width="0.8"/>
<line x1="325.8" y1="62.9" x2="378.3" y2="62.9" stroke="#7a7a7a" stroke-width="0.8"/>
<text x="351.45" y="23.3" font-size="7.9" font-weight="bold" text-anchor="middle" fill="#000" stroke="#000" stroke-width="0.3">3 h</text>
<text x="352.55" y="89.2" font-size="7.55" font-weight="bold" text-anchor="middle" fill="#000" stroke="#000" stroke-width="0.3">Annexin V</text>
<text x="317.5" y="52.5" font-size="7.6" font-weight="bold" text-anchor="middle" fill="#000" transform="rotate(-90 317.5 52.5)" stroke="#000" stroke-width="0.3">PI</text>
<text x="326.6" y="81.8" font-size="4.1" text-anchor="middle" fill="#222">10&#8304;</text>
<text x="323.9" y="76.2" font-size="4.1" text-anchor="middle" fill="#222" transform="rotate(-90 323.9 76.2)">10&#8304;</text>
<line x1="325.8" y1="76.8" x2="325.8" y2="77.8" stroke="#7a7a7a" stroke-width="0.5"/>
<line x1="324.8" y1="76.8" x2="325.8" y2="76.8" stroke="#7a7a7a" stroke-width="0.5"/>
<text x="339.73" y="81.8" font-size="4.1" text-anchor="middle" fill="#222">10&#185;</text>
<text x="323.9" y="63.9" font-size="4.1" text-anchor="middle" fill="#222" transform="rotate(-90 323.9 63.9)">10&#185;</text>
<line x1="338.93" y1="76.8" x2="338.93" y2="77.8" stroke="#7a7a7a" stroke-width="0.5"/>
<line x1="324.8" y1="64.5" x2="325.8" y2="64.5" stroke="#7a7a7a" stroke-width="0.5"/>
<text x="352.85" y="81.8" font-size="4.1" text-anchor="middle" fill="#222">10&#178;</text>
<text x="323.9" y="51.6" font-size="4.1" text-anchor="middle" fill="#222" transform="rotate(-90 323.9 51.6)">10&#178;</text>
<line x1="352.05" y1="76.8" x2="352.05" y2="77.8" stroke="#7a7a7a" stroke-width="0.5"/>
<line x1="324.8" y1="52.2" x2="325.8" y2="52.2" stroke="#7a7a7a" stroke-width="0.5"/>
<text x="365.98" y="81.8" font-size="4.1" text-anchor="middle" fill="#222">10&#179;</text>
<text x="323.9" y="39.3" font-size="4.1" text-anchor="middle" fill="#222" transform="rotate(-90 323.9 39.3)">10&#179;</text>
<line x1="365.18" y1="76.8" x2="365.18" y2="77.8" stroke="#7a7a7a" stroke-width="0.5"/>
<line x1="324.8" y1="39.9" x2="325.8" y2="39.9" stroke="#7a7a7a" stroke-width="0.5"/>
<text x="379.1" y="81.8" font-size="4.1" text-anchor="middle" fill="#222">10&#8308;</text>
<text x="323.9" y="27" font-size="4.1" text-anchor="middle" fill="#222" transform="rotate(-90 323.9 27)">10&#8308;</text>
<line x1="378.3" y1="76.8" x2="378.3" y2="77.8" stroke="#7a7a7a" stroke-width="0.5"/>
<line x1="324.8" y1="27.6" x2="325.8" y2="27.6" stroke="#7a7a7a" stroke-width="0.5"/>
<path d="M403.9 44.7h0.8v0.8h-0.8zM419.1 55.4h0.8v0.8h-0.8zM420.4 42.9h0.8v0.8h-0.8zM413.4 67.5h0.8v0.8h-0.8zM410.1 64.6h0.8v0.8h-0.8zM411.9 61.3h0.8v0.8h-0.8zM406.8 65.6h0.8v0.8h-0.8zM421.7 47.1h0.8v0.8h-0.8zM420.1 29.2h0.8v0.8h-0.8zM412.6 41.4h0.8v0.8h-0.8zM415.8 50.9h0.8v0.8h-0.8zM410.7 49.9h0.8v0.8h-0.8zM415.7 53.5h0.8v0.8h-0.8zM408.7 55.8h0.8v0.8h-0.8zM416.4 49.7h0.8v0.8h-0.8zM420.5 41.9h0.8v0.8h-0.8zM416.4 54.2h0.8v0.8h-0.8zM423.2 51.8h0.8v0.8h-0.8zM410.1 45h0.8v0.8h-0.8zM425.6 64h0.8v0.8h-0.8zM407.7 54.7h0.8v0.8h-0.8zM408.4 72.8h0.8v0.8h-0.8zM416.4 38.2h0.8v0.8h-0.8zM415.2 66.9h0.8v0.8h-0.8zM414 62.6h0.8v0.8h-0.8z" fill="#000" fill-opacity="0.6"/>
<path d="M413.4 60h0.8v0.8h-0.8zM415.2 51.1h0.8v0.8h-0.8zM416 59.6h0.8v0.8h-0.8zM413.8 51.4h0.8v0.8h-0.8zM408.1 60.4h0.8v0.8h-0.8zM418.8 34.5h0.8v0.8h-0.8zM410.9 71.2h0.8v0.8h-0.8zM419.3 51.1h0.8v0.8h-0.8zM421.9 48.4h0.8v0.8h-0.8zM411.5 55.9h0.8v0.8h-0.8zM404.4 48.2h0.8v0.8h-0.8zM407.1 56.7h0.8v0.8h-0.8zM403.3 68.3h0.8v0.8h-0.8zM411.9 52.1h0.8v0.8h-0.8zM410.3 65.2h0.8v0.8h-0.8zM422.9 54h0.8v0.8h-0.8zM423.4 73.7h0.8v0.8h-0.8zM410.2 54.6h0.8v0.8h-0.8zM399.2 57.9h0.8v0.8h-0.8zM403.4 53.7h0.8v0.8h-0.8zM405.9 43.8h0.8v0.8h-0.8zM406.1 66.7h0.8v0.8h-0.8zM405.9 46h0.8v0.8h-0.8zM414.3 33.1h0.8v0.8h-0.8zM401.4 55.6h0.8v0.8h-0.8z" fill="#000" fill-opacity="0.6"/>
<path d="M402.7 31.9h0.8v0.8h-0.8zM406 59.3h0.8v0.8h-0.8zM401.9 64.8h0.8v0.8h-0.8zM406.9 62.4h0.8v0.8h-0.8zM399.1 52h0.8v0.8h-0.8zM411.2 69.7h0.8v0.8h-0.8zM410.1 52h0.8v0.8h-0.8zM405.7 46.5h0.8v0.8h-0.8zM409.3 45.9h0.8v0.8h-0.8zM405.5 33.9h0.8v0.8h-0.8zM399.1 67.6h0.8v0.8h-0.8zM405.2 53.9h0.8v0.8h-0.8zM413.1 38.9h0.8v0.8h-0.8zM402.9 50.2h0.8v0.8h-0.8zM400.1 40.1h0.8v0.8h-0.8zM400.2 57.6h0.8v0.8h-0.8zM404.8 59.2h0.8v0.8h-0.8zM400.8 57.2h0.8v0.8h-0.8zM403.3 52.8h0.8v0.8h-0.8z" fill="#000" fill-opacity="0.6"/>
<path d="M407 72.1h0.9v0.9h-0.9zM403.3 69.5h0.9v0.9h-0.9zM404.5 73.8h0.9v0.9h-0.9zM402.4 72.5h0.9v0.9h-0.9zM399.1 70.6h0.9v0.9h-0.9zM405.5 74.6h0.9v0.9h-0.9zM403.4 69.5h0.9v0.9h-0.9zM403.2 69.7h0.9v0.9h-0.9zM405.2 72h0.9v0.9h-0.9zM407.3 71.3h0.9v0.9h-0.9zM405.3 72.6h0.9v0.9h-0.9zM405.6 69.6h0.9v0.9h-0.9zM406.4 73.7h0.9v0.9h-0.9zM401.7 75.5h0.9v0.9h-0.9zM404.4 73.6h0.9v0.9h-0.9zM405.9 73.8h0.9v0.9h-0.9zM402.4 71.6h0.9v0.9h-0.9zM405.4 73.4h0.9v0.9h-0.9zM406 72.8h0.9v0.9h-0.9zM402.9 74.6h0.9v0.9h-0.9zM405.7 74.2h0.9v0.9h-0.9zM402.3 72.9h0.9v0.9h-0.9zM402.9 72h0.9v0.9h-0.9zM404.9 73h0.9v0.9h-0.9zM401.9 68.1h0.9v0.9h-0.9z" fill="#000" fill-opacity="0.82"/>
<path d="M402 73.7h0.9v0.9h-0.9zM401.8 73.5h0.9v0.9h-0.9zM403.2 70.8h0.9v0.9h-0.9zM407.8 75h0.9v0.9h-0.9zM404 72.3h0.9v0.9h-0.9zM407.1 69.6h0.9v0.9h-0.9zM401.7 74.8h0.9v0.9h-0.9zM407 71.2h0.9v0.9h-0.9zM402 73.3h0.9v0.9h-0.9zM400.1 72h0.9v0.9h-0.9zM403.6 68h0.9v0.9h-0.9zM406.1 73.6h0.9v0.9h-0.9zM407.5 69.4h0.9v0.9h-0.9zM400.5 71.4h0.9v0.9h-0.9zM401.4 72.2h0.9v0.9h-0.9zM404.9 73.2h0.9v0.9h-0.9zM408.6 69.8h0.9v0.9h-0.9zM406.9 72.3h0.9v0.9h-0.9zM400.8 73.1h0.9v0.9h-0.9zM402.1 74.5h0.9v0.9h-0.9zM408.2 70.8h0.9v0.9h-0.9zM401.6 73h0.9v0.9h-0.9zM401.2 74.5h0.9v0.9h-0.9zM404.8 70.9h0.9v0.9h-0.9zM402.3 74h0.9v0.9h-0.9z" fill="#000" fill-opacity="0.82"/>
<path d="M402 72.3h0.9v0.9h-0.9zM406.8 74.5h0.9v0.9h-0.9zM406.2 72.3h0.9v0.9h-0.9zM409.4 73h0.9v0.9h-0.9zM405.6 73.3h0.9v0.9h-0.9zM406.5 72.6h0.9v0.9h-0.9zM403.8 69.5h0.9v0.9h-0.9zM410.4 69.2h0.9v0.9h-0.9zM397.9 71.9h0.9v0.9h-0.9zM410.1 73.9h0.9v0.9h-0.9zM402.5 73.1h0.9v0.9h-0.9zM404.2 68.7h0.9v0.9h-0.9zM403.3 73.1h0.9v0.9h-0.9zM407.8 69.7h0.9v0.9h-0.9zM405.3 72.4h0.9v0.9h-0.9zM404.7 72.6h0.9v0.9h-0.9zM403.2 70h0.9v0.9h-0.9zM405.7 72.9h0.9v0.9h-0.9zM406 74.5h0.9v0.9h-0.9zM400.6 68.5h0.9v0.9h-0.9zM401.6 73.5h0.9v0.9h-0.9zM404.3 73.8h0.9v0.9h-0.9zM413.9 70.2h0.9v0.9h-0.9zM403.8 71.4h0.9v0.9h-0.9zM405 73.3h0.9v0.9h-0.9z" fill="#000" fill-opacity="0.82"/>
<path d="M401.4 75.2h0.9v0.9h-0.9zM407.7 72.8h0.9v0.9h-0.9zM404 72h0.9v0.9h-0.9zM399.4 74.2h0.9v0.9h-0.9zM401.4 71.8h0.9v0.9h-0.9zM407.3 70.3h0.9v0.9h-0.9zM402.7 74.2h0.9v0.9h-0.9zM409.9 70.4h0.9v0.9h-0.9zM407.6 70.8h0.9v0.9h-0.9zM405.5 73.2h0.9v0.9h-0.9zM400.9 74.7h0.9v0.9h-0.9zM409.7 71.8h0.9v0.9h-0.9zM405.1 70.1h0.9v0.9h-0.9zM409.7 71.8h0.9v0.9h-0.9zM400.5 74.3h0.9v0.9h-0.9zM399.9 71.7h0.9v0.9h-0.9zM410.9 70.4h0.9v0.9h-0.9zM402.3 71.6h0.9v0.9h-0.9zM402.6 73.6h0.9v0.9h-0.9zM408.7 70h0.9v0.9h-0.9zM405.6 68.9h0.9v0.9h-0.9zM408.9 71.7h0.9v0.9h-0.9zM402.2 75.5h0.9v0.9h-0.9zM404 75h0.9v0.9h-0.9zM407.5 75.1h0.9v0.9h-0.9z" fill="#000" fill-opacity="0.82"/>
<path d="M401.9 72.8h0.9v0.9h-0.9zM405.4 71.9h0.9v0.9h-0.9zM408.9 70.5h0.9v0.9h-0.9zM407.3 74.6h0.9v0.9h-0.9zM398.4 71.3h0.9v0.9h-0.9zM401.6 71.7h0.9v0.9h-0.9zM405.5 71.9h0.9v0.9h-0.9zM404.5 71.5h0.9v0.9h-0.9zM404.1 73.3h0.9v0.9h-0.9zM406.5 70.7h0.9v0.9h-0.9zM404 71h0.9v0.9h-0.9zM403.8 69.8h0.9v0.9h-0.9zM407.2 73.3h0.9v0.9h-0.9zM403.9 71.2h0.9v0.9h-0.9zM402.9 71.3h0.9v0.9h-0.9zM414.2 68.9h0.9v0.9h-0.9zM400.8 73.9h0.9v0.9h-0.9zM406.1 69.2h0.9v0.9h-0.9zM398.5 74.1h0.9v0.9h-0.9zM402.8 72.7h0.9v0.9h-0.9zM404.3 71.4h0.9v0.9h-0.9zM403.9 71.9h0.9v0.9h-0.9zM408 71.8h0.9v0.9h-0.9zM404.2 71.4h0.9v0.9h-0.9zM402.4 71.3h0.9v0.9h-0.9z" fill="#000" fill-opacity="0.82"/>
<path d="M407.6 72.4h0.9v0.9h-0.9zM409.3 73.7h0.9v0.9h-0.9zM404.9 72h0.9v0.9h-0.9zM401 73.3h0.9v0.9h-0.9zM403.4 69.6h0.9v0.9h-0.9zM404.9 73.2h0.9v0.9h-0.9zM404.9 71.5h0.9v0.9h-0.9zM405.7 74.2h0.9v0.9h-0.9zM403.4 73.5h0.9v0.9h-0.9zM407.4 71.1h0.9v0.9h-0.9zM404.8 71h0.9v0.9h-0.9zM406.1 71.5h0.9v0.9h-0.9zM407.7 70.5h0.9v0.9h-0.9zM409.4 71.2h0.9v0.9h-0.9zM401.8 71h0.9v0.9h-0.9zM406.3 70.6h0.9v0.9h-0.9zM409.7 74.1h0.9v0.9h-0.9zM405.9 69.6h0.9v0.9h-0.9zM404.2 71.1h0.9v0.9h-0.9zM398.9 73.9h0.9v0.9h-0.9zM410.9 70.6h0.9v0.9h-0.9zM406.7 74.5h0.9v0.9h-0.9zM401.4 72.1h0.9v0.9h-0.9zM405.1 73.2h0.9v0.9h-0.9zM400.9 73.2h0.9v0.9h-0.9z" fill="#000" fill-opacity="0.82"/>
<path d="M404 74.2h0.9v0.9h-0.9zM399.5 72h0.9v0.9h-0.9zM402.8 72h0.9v0.9h-0.9zM406.5 71h0.9v0.9h-0.9zM412.5 70h0.9v0.9h-0.9zM406.8 74h0.9v0.9h-0.9zM407.2 71.7h0.9v0.9h-0.9zM401.8 72.2h0.9v0.9h-0.9zM406.3 72.4h0.9v0.9h-0.9zM406 73.2h0.9v0.9h-0.9zM401.6 71h0.9v0.9h-0.9zM408.6 70.9h0.9v0.9h-0.9zM401.8 71h0.9v0.9h-0.9zM407.2 69.9h0.9v0.9h-0.9zM401.7 74.7h0.9v0.9h-0.9zM404.7 72.5h0.9v0.9h-0.9zM402.4 72.2h0.9v0.9h-0.9zM402.8 72.5h0.9v0.9h-0.9zM406.6 69.7h0.9v0.9h-0.9zM401.5 68.9h0.9v0.9h-0.9zM408.8 71.7h0.9v0.9h-0.9zM404.3 72.3h0.9v0.9h-0.9zM407.3 72.6h0.9v0.9h-0.9zM406.9 71.8h0.9v0.9h-0.9zM403.9 72.3h0.9v0.9h-0.9z" fill="#000" fill-opacity="0.82"/>
<path d="M398.7 75.1h0.9v0.9h-0.9zM399.6 71.1h0.9v0.9h-0.9zM406.3 72.2h0.9v0.9h-0.9zM406.7 75.3h0.9v0.9h-0.9zM409.9 74.3h0.9v0.9h-0.9zM401.7 72.6h0.9v0.9h-0.9zM407.3 71.6h0.9v0.9h-0.9zM403.9 71.8h0.9v0.9h-0.9zM408.4 67.3h0.9v0.9h-0.9zM408.1 73.9h0.9v0.9h-0.9zM404.1 73.5h0.9v0.9h-0.9zM401.4 74.8h0.9v0.9h-0.9zM413.5 69.5h0.9v0.9h-0.9zM408.5 71.8h0.9v0.9h-0.9zM403.3 71.6h0.9v0.9h-0.9zM403.7 70.1h0.9v0.9h-0.9zM404.2 73.4h0.9v0.9h-0.9zM405.2 73.2h0.9v0.9h-0.9zM399.7 71.2h0.9v0.9h-0.9zM406.2 74h0.9v0.9h-0.9zM400.9 71.8h0.9v0.9h-0.9zM401.1 74h0.9v0.9h-0.9zM405.3 72.3h0.9v0.9h-0.9zM402.4 73.3h0.9v0.9h-0.9zM404.4 71h0.9v0.9h-0.9z" fill="#000" fill-opacity="0.82"/>
<path d="M405.3 71h0.9v0.9h-0.9zM407.2 73.2h0.9v0.9h-0.9zM402.2 73.8h0.9v0.9h-0.9zM404.5 71.1h0.9v0.9h-0.9zM401.6 69.7h0.9v0.9h-0.9zM400.9 73.5h0.9v0.9h-0.9zM407.9 70.8h0.9v0.9h-0.9zM404.8 73h0.9v0.9h-0.9zM406.6 72.9h0.9v0.9h-0.9zM408 73.4h0.9v0.9h-0.9zM413.2 72.4h0.9v0.9h-0.9zM408.1 71h0.9v0.9h-0.9zM415.7 72.8h0.9v0.9h-0.9zM414.6 73.4h0.9v0.9h-0.9zM419.8 69.4h0.9v0.9h-0.9zM413.9 72h0.9v0.9h-0.9zM417.2 71.7h0.9v0.9h-0.9zM418.3 68.6h0.9v0.9h-0.9zM418.1 74.2h0.9v0.9h-0.9zM419.2 72.4h0.9v0.9h-0.9zM414.8 72.4h0.9v0.9h-0.9zM415.4 67.6h0.9v0.9h-0.9zM413.7 71.3h0.9v0.9h-0.9zM413.9 69.2h0.9v0.9h-0.9zM414.9 70.5h0.9v0.9h-0.9z" fill="#000" fill-opacity="0.82"/>
<path d="M415.8 71.3h0.9v0.9h-0.9zM416.2 73.8h0.9v0.9h-0.9zM416 72.4h0.9v0.9h-0.9zM411.7 64.3h0.9v0.9h-0.9zM414.3 73h0.9v0.9h-0.9zM414.5 69.9h0.9v0.9h-0.9zM411.6 73.5h0.9v0.9h-0.9zM413.9 72h0.9v0.9h-0.9zM419.2 72.7h0.9v0.9h-0.9zM422.8 71.1h0.9v0.9h-0.9zM418.7 73.1h0.9v0.9h-0.9zM413.5 71.5h0.9v0.9h-0.9zM413.8 68.9h0.9v0.9h-0.9zM416.6 69.5h0.9v0.9h-0.9zM421 69.6h0.9v0.9h-0.9zM413.9 71.6h0.9v0.9h-0.9zM413.9 71.5h0.9v0.9h-0.9zM413.7 68h0.9v0.9h-0.9zM407.9 68.3h0.9v0.9h-0.9zM420.5 72.5h0.9v0.9h-0.9zM416.1 70.3h0.9v0.9h-0.9zM415.1 72.1h0.9v0.9h-0.9zM411.2 69.5h0.9v0.9h-0.9zM412.8 74.4h0.9v0.9h-0.9zM412.2 74.2h0.9v0.9h-0.9z" fill="#000" fill-opacity="0.82"/>
<path d="M415.3 71.5h0.9v0.9h-0.9zM419.9 73.5h0.9v0.9h-0.9zM418.6 68.8h0.9v0.9h-0.9zM419.2 75.4h0.9v0.9h-0.9zM415.3 70.2h0.9v0.9h-0.9zM412.1 73.8h0.9v0.9h-0.9zM416.5 71.4h0.9v0.9h-0.9zM411.6 75.3h0.9v0.9h-0.9zM418.4 71.4h0.9v0.9h-0.9zM420.3 69.1h0.9v0.9h-0.9zM418.4 69h0.9v0.9h-0.9zM420.1 70.7h0.9v0.9h-0.9zM419.5 70.4h0.9v0.9h-0.9zM416.9 74.1h0.9v0.9h-0.9zM412.7 71.6h0.9v0.9h-0.9zM412.9 73.4h0.9v0.9h-0.9zM413.7 70.5h0.9v0.9h-0.9zM415 74.2h0.9v0.9h-0.9zM412.3 71.3h0.9v0.9h-0.9zM414.5 70.1h0.9v0.9h-0.9zM413.1 71h0.9v0.9h-0.9zM416.2 67.7h0.9v0.9h-0.9zM416.3 68.6h0.9v0.9h-0.9zM412.5 71.2h0.9v0.9h-0.9zM414.8 73.8h0.9v0.9h-0.9z" fill="#000" fill-opacity="0.82"/>
<path d="M414.1 67.1h0.9v0.9h-0.9zM410.4 71.8h0.9v0.9h-0.9zM416.4 74h0.9v0.9h-0.9zM413.9 73h0.9v0.9h-0.9zM412.2 74.5h0.9v0.9h-0.9zM415.4 69.8h0.9v0.9h-0.9zM416.2 75.6h0.9v0.9h-0.9zM412.9 68.4h0.9v0.9h-0.9zM412.4 68.6h0.9v0.9h-0.9zM415.4 72.2h0.9v0.9h-0.9zM415.1 71.9h0.9v0.9h-0.9zM419.4 70.7h0.9v0.9h-0.9zM411.6 65.9h0.9v0.9h-0.9zM416.4 69.8h0.9v0.9h-0.9zM414.8 72.4h0.9v0.9h-0.9zM417.1 67.6h0.9v0.9h-0.9zM412.5 71.6h0.9v0.9h-0.9zM415.1 74.2h0.9v0.9h-0.9zM414 66.4h0.9v0.9h-0.9zM419.3 67.5h0.9v0.9h-0.9zM412.5 72.3h0.9v0.9h-0.9zM416.4 72.7h0.9v0.9h-0.9zM417.3 69.7h0.9v0.9h-0.9zM419.6 67.3h0.9v0.9h-0.9zM413.7 72.1h0.9v0.9h-0.9z" fill="#000" fill-opacity="0.82"/>
<path d="M416 69.1h0.9v0.9h-0.9zM420.7 74.9h0.9v0.9h-0.9zM412.6 72.3h0.9v0.9h-0.9zM413.6 70.4h0.9v0.9h-0.9zM418.8 71.7h0.9v0.9h-0.9zM415.3 71.6h0.9v0.9h-0.9zM411.8 74.3h0.9v0.9h-0.9zM413.2 74.5h0.9v0.9h-0.9zM414.1 70.3h0.9v0.9h-0.9zM420.4 71.9h0.9v0.9h-0.9zM413.6 70.1h0.9v0.9h-0.9zM417.6 70.5h0.9v0.9h-0.9zM412 69.8h0.9v0.9h-0.9zM415.2 72h0.9v0.9h-0.9zM413.5 74.5h0.9v0.9h-0.9zM412.5 69.7h0.9v0.9h-0.9zM417.2 72.6h0.9v0.9h-0.9zM414.4 73.7h0.9v0.9h-0.9zM411.1 75.3h0.9v0.9h-0.9zM415.8 74.6h0.9v0.9h-0.9zM415 71.9h0.9v0.9h-0.9zM417.3 67.2h0.9v0.9h-0.9zM414.9 75.5h0.9v0.9h-0.9zM406.2 72.3h0.9v0.9h-0.9zM418.5 72.2h0.9v0.9h-0.9z" fill="#000" fill-opacity="0.82"/>
<path d="M416.2 74.7h0.9v0.9h-0.9zM416.7 66.9h0.9v0.9h-0.9zM412.6 70.7h0.9v0.9h-0.9zM416.1 70.3h0.9v0.9h-0.9zM415.3 75.4h0.9v0.9h-0.9zM406.2 74.2h0.9v0.9h-0.9zM418.6 72.8h0.9v0.9h-0.9zM415.6 71.6h0.9v0.9h-0.9zM416.8 72h0.9v0.9h-0.9zM413.3 73.3h0.9v0.9h-0.9zM413 71.3h0.9v0.9h-0.9zM414.5 68.6h0.9v0.9h-0.9zM417.5 71.2h0.9v0.9h-0.9zM411.9 71.2h0.9v0.9h-0.9zM411.2 74.8h0.9v0.9h-0.9zM413.8 73.1h0.9v0.9h-0.9zM412.5 69.4h0.9v0.9h-0.9zM415.3 72.4h0.9v0.9h-0.9zM418.6 70.8h0.9v0.9h-0.9zM419.1 73.7h0.9v0.9h-0.9zM412.8 71h0.9v0.9h-0.9zM412.7 75.5h0.9v0.9h-0.9zM413.8 73.5h0.9v0.9h-0.9zM418.5 70.8h0.9v0.9h-0.9zM414 72.2h0.9v0.9h-0.9z" fill="#000" fill-opacity="0.82"/>
<path d="M413.1 68.4h0.9v0.9h-0.9zM412.5 72.2h0.9v0.9h-0.9zM421.1 50.5h0.9v0.9h-0.9zM415.7 47.2h0.9v0.9h-0.9zM417.5 49.2h0.9v0.9h-0.9zM422.5 43.7h0.9v0.9h-0.9zM424.6 41.2h0.9v0.9h-0.9zM419.2 40.1h0.9v0.9h-0.9zM418.8 44.8h0.9v0.9h-0.9zM422.4 48.3h0.9v0.9h-0.9zM419.9 41.2h0.9v0.9h-0.9zM419.7 42.4h0.9v0.9h-0.9zM419.3 42.6h0.9v0.9h-0.9zM418.3 44.3h0.9v0.9h-0.9zM419.2 43.5h0.9v0.9h-0.9zM416.9 45.5h0.9v0.9h-0.9zM422.1 45.9h0.9v0.9h-0.9zM419.1 39.8h0.9v0.9h-0.9zM417.1 40.3h0.9v0.9h-0.9zM418.9 43.1h0.9v0.9h-0.9zM415.8 47.8h0.9v0.9h-0.9zM416.5 42.4h0.9v0.9h-0.9zM418.7 47.6h0.9v0.9h-0.9zM425.5 41h0.9v0.9h-0.9zM419.9 42.5h0.9v0.9h-0.9z" fill="#000" fill-opacity="0.82"/>
<path d="M420.1 43.3h0.9v0.9h-0.9zM427.2 37.6h0.9v0.9h-0.9zM420.3 40.8h0.9v0.9h-0.9zM421.6 41.5h0.9v0.9h-0.9zM422.1 39.1h0.9v0.9h-0.9zM426.2 42.9h0.9v0.9h-0.9zM415.9 47.9h0.9v0.9h-0.9zM419.3 39.7h0.9v0.9h-0.9zM421.8 41.4h0.9v0.9h-0.9zM422.6 41.1h0.9v0.9h-0.9zM423 43.7h0.9v0.9h-0.9zM421.6 44.1h0.9v0.9h-0.9zM419.6 42.7h0.9v0.9h-0.9zM421.8 46.2h0.9v0.9h-0.9zM419.5 52.8h0.9v0.9h-0.9zM425.1 38h0.9v0.9h-0.9zM423.5 42.7h0.9v0.9h-0.9zM421.2 40.6h0.9v0.9h-0.9zM425 39.3h0.9v0.9h-0.9zM420.4 41.1h0.9v0.9h-0.9zM425.8 47.1h0.9v0.9h-0.9zM417.1 43.1h0.9v0.9h-0.9zM421.6 41.8h0.9v0.9h-0.9zM419.7 39.9h0.9v0.9h-0.9zM421.3 39.4h0.9v0.9h-0.9z" fill="#000" fill-opacity="0.82"/>
<path d="M422.8 52.4h0.9v0.9h-0.9zM419.7 50.4h0.9v0.9h-0.9zM421.6 40.9h0.9v0.9h-0.9zM419.7 40.4h0.9v0.9h-0.9zM420.9 46.4h0.9v0.9h-0.9zM423.1 42h0.9v0.9h-0.9zM417.4 44.5h0.9v0.9h-0.9zM425.1 43.6h0.9v0.9h-0.9zM420.4 35.8h0.9v0.9h-0.9zM419.4 46.2h0.9v0.9h-0.9zM418.1 49.8h0.9v0.9h-0.9zM419.1 40.9h0.9v0.9h-0.9zM419.1 43.9h0.9v0.9h-0.9zM423.3 40.8h0.9v0.9h-0.9zM415.9 44.9h0.9v0.9h-0.9zM422 49.3h0.9v0.9h-0.9zM417.6 50.4h0.9v0.9h-0.9zM422.4 45h0.9v0.9h-0.9zM418.6 41h0.9v0.9h-0.9zM418.1 48.2h0.9v0.9h-0.9zM421.2 47.7h0.9v0.9h-0.9zM425.4 42.5h0.9v0.9h-0.9zM420.5 51.2h0.9v0.9h-0.9zM417.1 43.1h0.9v0.9h-0.9zM419.6 42.6h0.9v0.9h-0.9z" fill="#000" fill-opacity="0.82"/>
<path d="M421 40.5h0.9v0.9h-0.9zM423.7 37.7h0.9v0.9h-0.9zM418.4 38h0.9v0.9h-0.9zM416.9 47.2h0.9v0.9h-0.9zM422.3 42.6h0.9v0.9h-0.9zM422.8 45.5h0.9v0.9h-0.9zM419.1 44.1h0.9v0.9h-0.9zM421.6 51.2h0.9v0.9h-0.9zM419.4 45.6h0.9v0.9h-0.9zM422 48.1h0.9v0.9h-0.9zM421.7 47.6h0.9v0.9h-0.9zM417.8 43.6h0.9v0.9h-0.9zM415.5 45.1h0.9v0.9h-0.9zM426.8 42.9h0.9v0.9h-0.9zM420.8 44.8h0.9v0.9h-0.9zM421 38.6h0.9v0.9h-0.9zM418.8 43.7h0.9v0.9h-0.9zM421 40.4h0.9v0.9h-0.9zM420.3 41.1h0.9v0.9h-0.9zM417.1 42.3h0.9v0.9h-0.9zM418.5 47.7h0.9v0.9h-0.9zM424.2 45h0.9v0.9h-0.9zM420 41.9h0.9v0.9h-0.9zM416.4 43h0.9v0.9h-0.9zM424.8 47h0.9v0.9h-0.9z" fill="#000" fill-opacity="0.82"/>
<path d="M421.2 42.7h0.9v0.9h-0.9zM420.6 45.4h0.9v0.9h-0.9zM420.6 45.5h0.9v0.9h-0.9zM418.6 44.6h0.9v0.9h-0.9zM419.7 48.2h0.9v0.9h-0.9zM417.3 49.8h0.9v0.9h-0.9zM420.4 42h0.9v0.9h-0.9zM420.7 44.3h0.9v0.9h-0.9zM420 45.6h0.9v0.9h-0.9zM419.1 37.8h0.9v0.9h-0.9zM422.4 43.2h0.9v0.9h-0.9zM425 44h0.9v0.9h-0.9zM415.3 50.1h0.9v0.9h-0.9zM418.8 46.5h0.9v0.9h-0.9zM426.5 46.3h0.9v0.9h-0.9zM417.7 44.3h0.9v0.9h-0.9zM416.3 47.6h0.9v0.9h-0.9zM422.1 39.5h0.9v0.9h-0.9zM421.8 47h0.9v0.9h-0.9zM422.7 40.6h0.9v0.9h-0.9zM418.8 40.1h0.9v0.9h-0.9zM417.2 46h0.9v0.9h-0.9zM417.6 61.7h0.9v0.9h-0.9zM418.3 52.2h0.9v0.9h-0.9zM413.3 63.1h0.9v0.9h-0.9z" fill="#000" fill-opacity="0.82"/>
<path d="M418 53.9h0.9v0.9h-0.9zM414.5 47.9h0.9v0.9h-0.9zM419.4 48.4h0.9v0.9h-0.9zM419.2 57.7h0.9v0.9h-0.9zM416.4 44.6h0.9v0.9h-0.9zM418.7 62.3h0.9v0.9h-0.9zM415.1 46.7h0.9v0.9h-0.9zM420.7 54.9h0.9v0.9h-0.9zM415.7 61.2h0.9v0.9h-0.9zM416.7 56.7h0.9v0.9h-0.9zM416.3 49.7h0.9v0.9h-0.9zM418.1 49h0.9v0.9h-0.9zM412.3 50.9h0.9v0.9h-0.9zM421.1 60.5h0.9v0.9h-0.9zM423.9 59.8h0.9v0.9h-0.9zM422.3 55.5h0.9v0.9h-0.9zM416.2 56.8h0.9v0.9h-0.9zM414.7 58.3h0.9v0.9h-0.9zM416.2 55.6h0.9v0.9h-0.9zM415 53.3h0.9v0.9h-0.9zM420.4 52.8h0.9v0.9h-0.9zM415.5 55.7h0.9v0.9h-0.9zM420.1 53h0.9v0.9h-0.9zM414.1 45h0.9v0.9h-0.9zM413.6 60.3h0.9v0.9h-0.9z" fill="#000" fill-opacity="0.82"/>
<path d="M417.2 56.8h0.9v0.9h-0.9zM420.7 55.7h0.9v0.9h-0.9zM418.9 51.1h0.9v0.9h-0.9zM412.8 57.7h0.9v0.9h-0.9zM417.2 57.4h0.9v0.9h-0.9zM414.4 53.2h0.9v0.9h-0.9zM423.4 49.2h0.9v0.9h-0.9zM417.8 61.7h0.9v0.9h-0.9zM416.8 54.8h0.9v0.9h-0.9zM411.2 58.6h0.9v0.9h-0.9zM416.2 61.5h0.9v0.9h-0.9zM417.2 51.9h0.9v0.9h-0.9zM418.8 52.7h0.9v0.9h-0.9zM416 63h0.9v0.9h-0.9zM420.4 54.7h0.9v0.9h-0.9zM419.9 58.9h0.9v0.9h-0.9zM419.2 54.3h0.9v0.9h-0.9zM417.7 56.4h0.9v0.9h-0.9zM419.2 56.1h0.9v0.9h-0.9zM415.9 53.6h0.9v0.9h-0.9zM418.8 48.4h0.9v0.9h-0.9zM417.5 58.5h0.9v0.9h-0.9zM418 52.4h0.9v0.9h-0.9zM417.4 51.3h0.9v0.9h-0.9zM420.4 51.9h0.9v0.9h-0.9z" fill="#000" fill-opacity="0.82"/>
<path d="M412.6 47.1h0.9v0.9h-0.9zM418.4 55.3h0.9v0.9h-0.9zM416.1 46.5h0.9v0.9h-0.9zM417.1 49.2h0.9v0.9h-0.9zM415.6 54.1h0.9v0.9h-0.9zM415.2 55.9h0.9v0.9h-0.9zM415.3 51.4h0.9v0.9h-0.9z" fill="#000" fill-opacity="0.82"/>
<rect x="397.1" y="27.6" width="52.7" height="49.2" fill="none" stroke="#7a7a7a" stroke-width="0.9"/>
<line x1="411.9" y1="27.6" x2="411.9" y2="76.8" stroke="#7a7a7a" stroke-width="0.8"/>
<line x1="397.1" y1="62.9" x2="449.8" y2="62.9" stroke="#7a7a7a" stroke-width="0.8"/>
<text x="422.25" y="23.3" font-size="7.9" font-weight="bold" text-anchor="middle" fill="#000" stroke="#000" stroke-width="0.3">6 h</text>
<text x="423.35" y="89.2" font-size="7.55" font-weight="bold" text-anchor="middle" fill="#000" stroke="#000" stroke-width="0.3">Annexin V</text>
<text x="389.3" y="52.5" font-size="7.6" font-weight="bold" text-anchor="middle" fill="#000" transform="rotate(-90 389.3 52.5)" stroke="#000" stroke-width="0.3">PI</text>
<text x="397.9" y="81.8" font-size="4.1" text-anchor="middle" fill="#222">10&#8304;</text>
<text x="395.2" y="76.2" font-size="4.1" text-anchor="middle" fill="#222" transform="rotate(-90 395.2 76.2)">10&#8304;</text>
<line x1="397.1" y1="76.8" x2="397.1" y2="77.8" stroke="#7a7a7a" stroke-width="0.5"/>
<line x1="396.1" y1="76.8" x2="397.1" y2="76.8" stroke="#7a7a7a" stroke-width="0.5"/>
<text x="411.08" y="81.8" font-size="4.1" text-anchor="middle" fill="#222">10&#185;</text>
<text x="395.2" y="63.9" font-size="4.1" text-anchor="middle" fill="#222" transform="rotate(-90 395.2 63.9)">10&#185;</text>
<line x1="410.28" y1="76.8" x2="410.28" y2="77.8" stroke="#7a7a7a" stroke-width="0.5"/>
<line x1="396.1" y1="64.5" x2="397.1" y2="64.5" stroke="#7a7a7a" stroke-width="0.5"/>
<text x="424.25" y="81.8" font-size="4.1" text-anchor="middle" fill="#222">10&#178;</text>
<text x="395.2" y="51.6" font-size="4.1" text-anchor="middle" fill="#222" transform="rotate(-90 395.2 51.6)">10&#178;</text>
<line x1="423.45" y1="76.8" x2="423.45" y2="77.8" stroke="#7a7a7a" stroke-width="0.5"/>
<line x1="396.1" y1="52.2" x2="397.1" y2="52.2" stroke="#7a7a7a" stroke-width="0.5"/>
<text x="437.43" y="81.8" font-size="4.1" text-anchor="middle" fill="#222">10&#179;</text>
<text x="395.2" y="39.3" font-size="4.1" text-anchor="middle" fill="#222" transform="rotate(-90 395.2 39.3)">10&#179;</text>
<line x1="436.62" y1="76.8" x2="436.62" y2="77.8" stroke="#7a7a7a" stroke-width="0.5"/>
<line x1="396.1" y1="39.9" x2="397.1" y2="39.9" stroke="#7a7a7a" stroke-width="0.5"/>
<text x="450.6" y="81.8" font-size="4.1" text-anchor="middle" fill="#222">10&#8308;</text>
<text x="395.2" y="27" font-size="4.1" text-anchor="middle" fill="#222" transform="rotate(-90 395.2 27)">10&#8308;</text>
<line x1="449.8" y1="76.8" x2="449.8" y2="77.8" stroke="#7a7a7a" stroke-width="0.5"/>
<line x1="396.1" y1="27.6" x2="397.1" y2="27.6" stroke="#7a7a7a" stroke-width="0.5"/>
<text x="238.5" y="118" font-size="18.8" font-weight="bold" text-anchor="start" fill="#000" stroke="#000" stroke-width="0.2">D</text>
<text x="276" y="126.4" font-size="7.7" font-weight="bold" text-anchor="middle" fill="#000" stroke="#000" stroke-width="0.3">NK-YS</text>
<text x="348.9" y="126.4" font-size="7.7" font-weight="bold" text-anchor="middle" fill="#000" stroke="#000" stroke-width="0.3">KHYG-1</text>
<text x="417.6" y="126" font-size="7.7" font-weight="bold" text-anchor="middle" fill="#000" stroke="#000" stroke-width="0.3">YT</text>
<text x="489.6" y="126.4" font-size="7.7" font-weight="bold" text-anchor="middle" fill="#000" stroke="#000" stroke-width="0.3">NK-92</text>
<text x="276.6" y="194.4" font-size="7.5" font-weight="bold" text-anchor="middle" fill="#000" stroke="#000" stroke-width="0.3">FL3-H</text>
<text x="347.3" y="194.4" font-size="7.5" font-weight="bold" text-anchor="middle" fill="#000" stroke="#000" stroke-width="0.3">FL3-H</text>
<text x="417.4" y="194.4" font-size="7.5" font-weight="bold" text-anchor="middle" fill="#000" stroke="#000" stroke-width="0.3">FL3-H</text>
<text x="490.6" y="194.4" font-size="7.5" font-weight="bold" text-anchor="middle" fill="#000" stroke="#000" stroke-width="0.3">FL3-H</text>
<text x="244.9" y="156.2" font-size="7.5" font-weight="bold" text-anchor="middle" fill="#000" transform="rotate(-90 244.9 156.2)" stroke="#000" stroke-width="0.3">Events</text>
<text x="316.8" y="156.2" font-size="7.5" font-weight="bold" text-anchor="middle" fill="#000" transform="rotate(-90 316.8 156.2)" stroke="#000" stroke-width="0.3">Events</text>
<text x="387.3" y="156.2" font-size="7.5" font-weight="bold" text-anchor="middle" fill="#000" transform="rotate(-90 387.3 156.2)" stroke="#000" stroke-width="0.3">Events</text>
<text x="460" y="156.2" font-size="7.5" font-weight="bold" text-anchor="middle" fill="#000" transform="rotate(-90 460 156.2)" stroke="#000" stroke-width="0.3">Events</text>
<polygon points="249.4,183 249.4,181.93 250.06,181.93 250.72,181.61 251.38,181.75 252.04,181.52 252.7,181.29 253.36,181.13 254.02,181.16 254.68,181.04 255.34,181.01 256,180.74 256.6,180.8 257.2,181.05 257.8,180.82 258.4,181.17 259,181.17 259.6,181.25 260.2,181.27 260.8,181.02 261.4,181.29 262,181.25 262.6,180.98 263.2,181.21 263.8,180.96 264.4,180.94 265,180.73 265.6,180.41 266.2,180.67 266.8,180.25 267.4,180.18 268,180.26 268.6,180.09 269.2,180.26 269.8,180.42 270.4,180.17 271,180.48 271.6,180.25 272.2,180.47 272.8,180.59 273.4,180.65 274,180.39 274.62,180.23 275.25,180.38 275.88,179.87 276.5,179.66 277.12,179.41 277.75,179.36 278.38,179.16 279,178.89 279.67,175.79 280.33,172.99 281,170.02 281.8,161.92 282.6,155.23 283.3,151.29 284,147.04 284.7,150.35 285.4,152.55 286.2,159.74 287,165.71 287.67,169.91 288.33,173.52 289,177.3 289.8,180.17 290.6,183 290.6,183" fill="#c2c2c2" stroke="#6a6a6a" stroke-width="0.65" stroke-linejoin="round"/>
<polyline points="249.4,182.16 249.83,181.66 250.27,181.68 250.7,181.29 251.13,180.96 251.57,180.76 252,180.79 252.43,180.57 252.85,180.33 253.28,179.97 253.7,179.36 254.12,179.09 254.55,179.15 254.97,178.62 255.4,178.47 255.82,178.09 256.24,177.93 256.67,178.22 257.09,177.61 257.51,177.96 257.93,177.31 258.36,177.59 258.78,176.91 259.2,176.68 259.66,176.99 260.11,176.83 260.57,177.4 261.03,177.54 261.49,177.41 261.94,178.32 262.4,178.1 262.85,178.04 263.3,179.07 263.75,178.74 264.2,179.01 264.65,179.1 265.1,179.42 265.55,180.09 266,180.25 266.47,180 266.93,179.62 267.4,179.45 267.87,179.75 268.33,179.1 268.8,179.38 269.23,179.01 269.67,178.09 270.1,178.39 270.53,177.38 270.97,177.69 271.4,177.48 271.83,177.51 272.27,177.51 272.7,177.88 273.13,177.43 273.57,177.9 274,177.8 274.45,178.08 274.9,178.08 275.35,178.67 275.8,178.73 276.25,179.05 276.7,179.1 277.17,178.71 277.63,178.62 278.1,178.17 278.57,177.59 279.03,177.01 279.5,177.2 280,175.87 280.5,174.79 281,174.22 281.5,173.83 282,173.31 282.48,172.28 282.97,171.6 283.45,171.26 283.93,170.37 284.42,169.23 284.9,168.55 285.4,170.01 285.9,170.5 286.4,171.32 286.93,174 287.47,176.24 288,177.79 288.53,179.21 289.07,180.4 289.6,181 290.1,181.31 290.6,181.8 291.1,182.03 291.6,182.56 292.03,182.61 292.45,182.46 292.88,182.61 293.3,182.59 293.73,182.48 294.15,182.77 294.57,182.57 295,182.7" fill="none" stroke="#000" stroke-width="0.775" stroke-linejoin="round"/>
<polyline points="249.4,181.76 249.83,181.74 250.27,181.22 250.7,181.29 251.13,181 251.57,181.18 252,180.53 252.43,180.64 252.85,180.34 253.28,179.93 253.7,179.36 254.12,179.16 254.55,179.09 254.97,178.74 255.4,178.75 255.82,178.42 256.24,178.03 256.67,178.15 257.09,178.39 257.51,177.32 257.93,177.28 258.36,176.71 258.78,176.61 259.2,176.37 259.6,176.97 260,177.62 260.4,177.61 260.8,178.08 261.2,178.09 261.6,177.97 262,178.12 262.4,177.68 262.8,178.3 263.2,178.4 263.6,178.99 264,178.66 264.4,179.35 264.8,179.42 265.2,179.75 265.6,179.89 266,179.86 266.4,180.23 266.8,180.12 267.2,179.77 267.6,179.16 268,179.44 268.4,179.53 268.8,179.48 269.23,178.96 269.67,177.92 270.1,178.51 270.53,177.98 270.97,177.25 271.4,177.69 271.83,177.71 272.27,177.92 272.7,177.32 273.13,177.82 273.57,177.73 274,177.78 274.45,178.45 274.9,178.46 275.35,178.33 275.8,178.71 276.25,179.26 276.7,179.07 277.1,179.11 277.5,178.44 277.9,178.59 278.3,177.22 278.7,177.38 279.1,177.18 279.5,177.07 279.92,176.72 280.33,175.63 280.75,174.77 281.17,174.32 281.58,173.52 282,173.11 282.41,172.89 282.83,170.83 283.24,170.71 283.66,171.02 284.07,169.06 284.49,169.7 284.9,167.77 285.4,169.92 285.9,171.22 286.4,171.39 286.8,173.18 287.2,174.53 287.6,176.7 288,178.03 288.4,178.91 288.8,179.44 289.2,180.47 289.6,181.52 290,181.63 290.4,181.96 290.8,181.78 291.2,182.17 291.6,182.35 292.03,182.37 292.45,182.61 292.88,182.37 293.3,182.57 293.73,182.7 294.15,182.79 294.57,182.48 295,182.7" fill="none" stroke="#000" stroke-width="0.775" stroke-linejoin="round"/>
<polyline points="249.4,181.84 249.77,181.79 250.14,181.94 250.51,181.13 250.89,181.49 251.26,180.91 251.63,180.84 252,181.01 252.38,179.94 252.76,179.98 253.13,179.56 253.51,179.31 253.89,179.27 254.27,179.5 254.64,179.14 255.02,178.36 255.4,178.98 255.78,178.44 256.16,177.8 256.54,178.51 256.92,178.35 257.3,177.37 257.68,178.18 258.06,177.84 258.44,176.86 258.82,176.36 259.2,177.43 259.6,177.53 260,176.66 260.4,177.76 260.8,177.93 261.2,177.89 261.6,178.32 262,178.68 262.4,177.98 262.76,178.83 263.12,179.13 263.48,178.57 263.84,179.22 264.2,179.42 264.56,179.8 264.92,179.67 265.28,179.56 265.64,179.74 266,180.24 266.4,179.64 266.8,180.25 267.2,180.12 267.6,179.22 268,179.57 268.4,179.38 268.8,178.55 269.17,179.09 269.54,178.82 269.91,177.98 270.29,177.44 270.66,177.42 271.03,177.83 271.4,177.15 271.77,177.76 272.14,176.96 272.51,177 272.89,177.45 273.26,178.28 273.63,177.43 274,177.43 274.39,178.47 274.77,177.76 275.16,178.64 275.54,178.05 275.93,178.4 276.31,179.06 276.7,179.45 277.1,178.57 277.5,178.31 277.9,177.44 278.3,177.53 278.7,177.07 279.1,177.53 279.5,177.11 279.92,176.57 280.33,175.52 280.75,175.13 281.17,173.49 281.58,173.26 282,172.42 282.36,171.87 282.73,172.21 283.09,170.67 283.45,170.35 283.81,169.73 284.17,170.4 284.54,169.42 284.9,168.56 285.27,169.15 285.65,171.06 286.02,171.87 286.4,171.7 286.8,173.47 287.2,175.5 287.6,176.09 288,177.68 288.4,178.31 288.8,179.6 289.2,180.67 289.6,180.91 290,181.39 290.4,182.05 290.8,181.91 291.2,182.09 291.6,182.59 291.98,182.65 292.36,182.4 292.73,182.3 293.11,182.6 293.49,182.69 293.87,182.8 294.24,182.71 294.62,182.58 295,182.7" fill="none" stroke="#000" stroke-width="0.775" stroke-linejoin="round"/>
<polyline points="249.4,182.01 249.77,181.62 250.14,181.55 250.51,181.37 250.89,181.62 251.26,181.43 251.63,181.27 252,180.58 252.34,180.95 252.68,179.76 253.02,180.53 253.36,179.98 253.7,180.09 254.04,179.28 254.38,179.88 254.72,178.33 255.06,179.3 255.4,179.07 255.75,178.26 256.09,178.79 256.44,177.69 256.78,178.38 257.13,177.78 257.47,177.53 257.82,177.02 258.16,177.86 258.51,177.59 258.85,176.36 259.2,177.72 259.56,176.57 259.91,176.98 260.27,177.19 260.62,177.6 260.98,178.25 261.33,178.48 261.69,178.12 262.04,177.85 262.4,177.6 262.76,177.75 263.12,178.63 263.48,178.92 263.84,178.93 264.2,179.87 264.56,179.28 264.92,179.4 265.28,179.69 265.64,179.59 266,180.73 266.35,180.16 266.7,179.95 267.05,179.65 267.4,179.27 267.75,179.2 268.1,179.29 268.45,179.08 268.8,179.68 269.17,178.83 269.54,178.05 269.91,177.55 270.29,177.44 270.66,177.47 271.03,177.92 271.4,177.85 271.77,176.88 272.14,177.89 272.51,177.45 272.89,177.72 273.26,177.82 273.63,177.16 274,177.32 274.34,178.38 274.68,178.54 275.01,178.19 275.35,179.12 275.69,179.1 276.02,178.46 276.36,178.25 276.7,179.08 277.05,178.95 277.4,178.04 277.75,177.47 278.1,177.88 278.45,176.87 278.8,177.74 279.15,177.29 279.5,176.42 279.86,176.13 280.21,175.16 280.57,174.48 280.93,173.88 281.29,174.59 281.64,173.27 282,173.26 282.36,171.94 282.73,172.44 283.09,171.45 283.45,171.06 283.81,169.92 284.17,169.8 284.54,168.36 284.9,169.8 285.27,169.82 285.65,170.28 286.02,171.32 286.4,170.9 286.8,173 287.2,174.38 287.6,177.05 288,177.24 288.4,178.72 288.8,180.09 289.2,180.73 289.6,181.42 289.93,181.21 290.27,181.36 290.6,181.97 290.93,181.84 291.27,182.36 291.6,182.3 291.94,182.6 292.28,182.51 292.62,182.69 292.96,182.8 293.3,182.48 293.64,182.8 293.98,182.33 294.32,182.8 294.66,182.42 295,182.7" fill="none" stroke="#000" stroke-width="0.775" stroke-linejoin="round"/>
<line x1="249.2" y1="128.8" x2="249.2" y2="183" stroke="#999" stroke-width="0.8"/>
<line x1="249.2" y1="183" x2="302.7" y2="183" stroke="#999" stroke-width="0.8"/>
<text x="247.5" y="130.6" font-size="3.3" text-anchor="middle" fill="#111" transform="rotate(-90 247.5 130.6)">200</text>
<text x="247.1" y="183.7" font-size="3.0" text-anchor="middle" fill="#000" transform="rotate(-90 247.1 183.7)">0</text>
<line x1="248.2" y1="128.8" x2="249.2" y2="128.8" stroke="#999" stroke-width="0.5"/>
<text x="249.8" y="187.2" font-size="3.5" text-anchor="middle" fill="#333">10&#8304;</text>
<line x1="249.2" y1="183" x2="249.2" y2="184.2" stroke="#999" stroke-width="0.5"/>
<text x="262.97" y="187.2" font-size="3.5" text-anchor="middle" fill="#333">10&#185;</text>
<line x1="262.37" y1="183" x2="262.37" y2="184.2" stroke="#999" stroke-width="0.5"/>
<text x="276.15" y="187.2" font-size="3.5" text-anchor="middle" fill="#333">10&#178;</text>
<line x1="275.55" y1="183" x2="275.55" y2="184.2" stroke="#999" stroke-width="0.5"/>
<text x="289.32" y="187.2" font-size="3.5" text-anchor="middle" fill="#333">10&#179;</text>
<line x1="288.72" y1="183" x2="288.72" y2="184.2" stroke="#999" stroke-width="0.5"/>
<text x="302.5" y="187.2" font-size="3.5" text-anchor="middle" fill="#333">10&#8308;</text>
<line x1="301.9" y1="183" x2="301.9" y2="184.2" stroke="#999" stroke-width="0.5"/>
<polygon points="272.58,173.58 268.06,172.88 269.61,171.89 267.42,169.69 268.69,168.42 270.89,170.61 271.88,169.06" fill="#000" stroke="#000" stroke-width="0.4" stroke-linejoin="round"/>
<polygon points="318.9,183 318.9,182.32 319.54,182.17 320.17,182.24 320.81,181.96 321.45,181.82 322.09,181.99 322.73,181.8 323.36,181.81 324,181.59 324.6,181.25 325.2,181.5 325.8,181.09 326.4,181.1 327,180.72 327.6,180.74 328.2,180.86 328.8,180.8 329.4,180.6 330,180.36 330.6,180.35 331.2,180.11 331.8,179.6 332.4,179.62 333,179.47 333.6,179.37 334.2,178.77 334.8,178.65 335.4,178.48 336,178.07 336.62,177.97 337.25,178 337.88,177.57 338.5,176.91 339.12,177.11 339.75,176.24 340.38,176.54 341,175.66 341.67,174.75 342.33,174.07 343,173.52 343.67,172.4 344.33,172.3 345,171.55 345.62,167.95 346.25,165.87 346.88,163.06 347.5,160.1 348.2,154.75 348.9,151.3 349.6,146.57 350.5,140.51 351.4,137.2 352.15,139.69 352.9,141.93 353.75,150.16 354.6,158.7 355.33,161.91 356.07,167.81 356.8,171.77 357.4,174.01 358,177.43 358.6,179.44 359.5,181.15 360.4,183 360.4,183" fill="#c2c2c2" stroke="#6a6a6a" stroke-width="0.65" stroke-linejoin="round"/>
<polyline points="318.9,181.93 319.32,181.59 319.75,180.83 320.18,180.35 320.6,179.91 321.08,179.74 321.56,179.01 322.04,178.24 322.52,178 323,177.84 323.43,177.4 323.87,176.4 324.3,177.02 324.73,176.45 325.17,175.68 325.6,175.15 326.07,174.65 326.53,174.04 327,175.24 327.47,174.48 327.93,173.24 328.4,174.65 328.86,174.54 329.31,172.81 329.77,174.12 330.23,173.16 330.69,173.73 331.14,174.3 331.6,173.3 332.03,173.52 332.45,173.79 332.88,172.75 333.3,173.56 333.73,173.07 334.15,174.14 334.57,172.43 335,173.44 335.48,171.55 335.96,171.55 336.44,170.72 336.92,170.29 337.4,170.66 337.93,167.94 338.47,167.63 339,163.9 339.53,162.36 340.07,160.12 340.6,154.77 341.1,153.24 341.6,153.33 342.1,150.49 342.65,154.3 343.2,154.46 343.75,160.7 344.3,168.18 344.9,171.56 345.5,177.58 345.92,177.3 346.34,175.97 346.76,176.4 347.18,176.93 347.6,175.33 348.03,176.28 348.46,175.82 348.89,175.44 349.31,174.82 349.74,173.51 350.17,174.85 350.6,172.8 351.06,173.86 351.51,173.43 351.97,172.27 352.43,172.74 352.89,171.84 353.34,172.26 353.8,170.39 354.3,172.89 354.8,172.26 355.3,173.68 355.8,173.54 356.3,175.49 356.8,175.85 357.3,177.57 357.8,178.13 358.23,179.37 358.67,179.45 359.1,180.95 359.53,181.31 359.97,181.65 360.4,182.62 360.85,182.64 361.3,182.69 361.75,182.19 362.2,182.62 362.65,182.68 363.1,182.66 363.55,182.39 364,182.7" fill="none" stroke="#000" stroke-width="0.806" stroke-linejoin="round"/>
<polyline points="318.9,182.58 319.32,181.63 319.75,181.32 320.18,181.14 320.6,179.86 321,178.98 321.4,179.99 321.8,178.39 322.2,177.47 322.6,177.16 323,178.41 323.43,177.54 323.87,176.04 324.3,175.52 324.73,176.83 325.17,175.95 325.6,175.4 326,174.12 326.4,174.59 326.8,175.69 327.2,173.17 327.6,174 328,172.88 328.4,175.07 328.8,172.77 329.2,174.91 329.6,174.6 330,174.29 330.4,172.5 330.8,174.15 331.2,173.61 331.6,173.58 332.03,172.61 332.45,173.48 332.88,174.16 333.3,172.34 333.73,174.21 334.15,172.94 334.57,172.46 335,172.31 335.4,172.49 335.8,172.6 336.2,171.99 336.6,172.5 337,171.03 337.4,170.64 337.8,170.7 338.2,166.89 338.6,164.78 339,164.4 339.4,162.06 339.8,159.05 340.2,157.92 340.6,154.04 341.1,156.02 341.6,152.33 342.1,152.34 342.65,153.68 343.2,155.98 343.75,161.99 344.3,166.35 344.7,170.94 345.1,172.78 345.5,176.92 345.92,176.85 346.34,177.08 346.76,175.59 347.18,175.81 347.6,176.73 348.03,176.36 348.46,176.44 348.89,174.06 349.31,173.92 349.74,173.31 350.17,174.51 350.6,174.23 351,173.71 351.4,173.79 351.8,172.82 352.2,172.67 352.6,173.38 353,172.36 353.4,172.11 353.8,171.65 354.2,171.82 354.6,172.98 355,172.91 355.4,172.19 355.8,173.41 356.2,174.45 356.6,175.52 357,176.85 357.4,177.49 357.8,178.6 358.23,179.26 358.67,179.77 359.1,181.22 359.53,180.61 359.97,181.19 360.4,182.49 360.8,182.26 361.2,182.35 361.6,182.51 362,182.37 362.4,182.33 362.8,182.22 363.2,182.8 363.6,182.8 364,182.7" fill="none" stroke="#000" stroke-width="0.806" stroke-linejoin="round"/>
<polyline points="318.9,181.96 319.32,181.65 319.75,180.93 320.18,179.96 320.6,180.92 321,180.39 321.4,178.73 321.8,178.27 322.2,178.79 322.6,178.57 323,177.32 323.37,176.8 323.74,176.08 324.11,177.25 324.49,177.13 324.86,176.82 325.23,174.43 325.6,175.47 326,176.41 326.4,175.43 326.8,174.48 327.2,173.33 327.6,172.87 328,174.71 328.4,172.46 328.8,174.73 329.2,174.26 329.6,173.64 330,174.92 330.4,175.02 330.8,174.01 331.2,172.37 331.6,173.88 331.98,173.29 332.36,172.68 332.73,174.75 333.11,174.06 333.49,172.06 333.87,172.34 334.24,172.63 334.62,173.3 335,172.44 335.4,172.4 335.8,173.25 336.2,170.72 336.6,172.16 337,170.41 337.4,172.18 337.8,170.89 338.2,167.13 338.6,166.83 339,163.35 339.4,162.35 339.8,161.08 340.2,158.93 340.6,155.19 340.98,152.21 341.35,151.29 341.73,152.28 342.1,148.76 342.47,151.01 342.83,154.16 343.2,157.09 343.57,159.07 343.93,161.91 344.3,167.34 344.7,169.46 345.1,174.42 345.5,175.91 345.92,176.02 346.34,176.32 346.76,177.41 347.18,175.25 347.6,175.16 347.98,174.67 348.35,174.59 348.73,174.61 349.1,174.49 349.48,175.28 349.85,173.91 350.23,173.82 350.6,173.28 351,174.19 351.4,174.35 351.8,172.53 352.2,173.89 352.6,171.39 353,173.56 353.4,171.76 353.8,172.03 354.2,171.44 354.6,171.52 355,171.53 355.4,174.39 355.8,173.16 356.2,175.23 356.6,175.57 357,176.79 357.4,177.05 357.8,178.1 358.17,178.96 358.54,180.15 358.91,180.38 359.29,179.98 359.66,181.61 360.03,181.71 360.4,181.85 360.76,182.09 361.12,182.09 361.48,182.74 361.84,182.51 362.2,182.34 362.56,182.31 362.92,182.4 363.28,182.43 363.64,182.54 364,182.7" fill="none" stroke="#000" stroke-width="0.806" stroke-linejoin="round"/>
<polyline points="318.9,182.58 319.24,182.24 319.58,181.74 319.92,181.72 320.26,180.91 320.6,179.37 320.94,178.76 321.29,178.59 321.63,178.39 321.97,178.67 322.31,179.08 322.66,178.04 323,177.19 323.37,176.31 323.74,178.25 324.11,177.25 324.49,175.64 324.86,174.35 325.23,177.12 325.6,174.37 325.95,176.22 326.3,173.53 326.65,175.21 327,173.99 327.35,175.71 327.7,173.42 328.05,172.53 328.4,172.7 328.76,174.9 329.11,175.51 329.47,174.26 329.82,174.38 330.18,172.89 330.53,172.83 330.89,172.12 331.24,175.41 331.6,171.92 331.94,173.96 332.28,172.92 332.62,172.25 332.96,173.12 333.3,174.91 333.64,172.29 333.98,171.92 334.32,173.61 334.66,173.65 335,173.04 335.34,171.42 335.69,173.78 336.03,170.43 336.37,170.32 336.71,170.23 337.06,171 337.4,170.5 337.8,169.44 338.2,168.85 338.6,168.29 339,164.84 339.4,160.34 339.8,162.33 340.2,155.46 340.6,154.9 340.98,152.45 341.35,153.95 341.73,153.77 342.1,148.16 342.47,150.74 342.83,155.74 343.2,156.16 343.57,156.77 343.93,163.98 344.3,168.39 344.7,169.88 345.1,172.26 345.5,177.29 345.85,176.11 346.2,175.39 346.55,175.35 346.9,175.96 347.25,174.94 347.6,175.63 347.93,175.9 348.27,175.64 348.6,174.87 348.93,175.97 349.27,173.23 349.6,173.8 349.93,175.69 350.27,175.19 350.6,175.15 350.96,174.35 351.31,173.25 351.67,173.96 352.02,172.9 352.38,170.89 352.73,171.17 353.09,170.29 353.44,173.15 353.8,170.68 354.13,171.4 354.47,172.28 354.8,170.95 355.13,173.65 355.47,174.34 355.8,174.69 356.13,175.81 356.47,174.72 356.8,175.07 357.13,177.85 357.47,178.47 357.8,178.47 358.17,178.92 358.54,179.01 358.91,181.01 359.29,180.72 359.66,181.85 360.03,181.56 360.4,182.08 360.76,182.36 361.12,182.67 361.48,182.8 361.84,182.29 362.2,182.71 362.56,182.44 362.92,182.8 363.28,182.8 363.64,182.71 364,182.7" fill="none" stroke="#000" stroke-width="0.806" stroke-linejoin="round"/>
<line x1="318.7" y1="127.4" x2="318.7" y2="183" stroke="#999" stroke-width="0.8"/>
<line x1="318.7" y1="183" x2="372.9" y2="183" stroke="#999" stroke-width="0.8"/>
<text x="317" y="129.2" font-size="3.3" text-anchor="middle" fill="#111" transform="rotate(-90 317 129.2)">200</text>
<text x="316.6" y="183.7" font-size="3.0" text-anchor="middle" fill="#000" transform="rotate(-90 316.6 183.7)">0</text>
<line x1="317.7" y1="127.4" x2="318.7" y2="127.4" stroke="#999" stroke-width="0.5"/>
<text x="319.3" y="187.2" font-size="3.5" text-anchor="middle" fill="#333">10&#8304;</text>
<line x1="318.7" y1="183" x2="318.7" y2="184.2" stroke="#999" stroke-width="0.5"/>
<text x="332.65" y="187.2" font-size="3.5" text-anchor="middle" fill="#333">10&#185;</text>
<line x1="332.05" y1="183" x2="332.05" y2="184.2" stroke="#999" stroke-width="0.5"/>
<text x="345.99" y="187.2" font-size="3.5" text-anchor="middle" fill="#333">10&#178;</text>
<line x1="345.39" y1="183" x2="345.39" y2="184.2" stroke="#999" stroke-width="0.5"/>
<text x="359.34" y="187.2" font-size="3.5" text-anchor="middle" fill="#333">10&#179;</text>
<line x1="358.74" y1="183" x2="358.74" y2="184.2" stroke="#999" stroke-width="0.5"/>
<text x="372.69" y="187.2" font-size="3.5" text-anchor="middle" fill="#333">10&#8308;</text>
<line x1="372.09" y1="183" x2="372.09" y2="184.2" stroke="#999" stroke-width="0.5"/>
<polygon points="341.28,146.48 336.76,145.78 338.31,144.79 336.12,142.59 337.39,141.32 339.59,143.51 340.58,141.96" fill="#000" stroke="#000" stroke-width="0.4" stroke-linejoin="round"/>
<polygon points="389.4,183 389.4,182.35 390.02,182.24 390.64,182.43 391.27,182.33 391.89,182.04 392.51,181.87 393.13,181.85 393.76,182.16 394.38,181.63 395,181.96 395.6,181.72 396.2,181.63 396.8,181.52 397.4,181.35 398,181.33 398.6,180.95 399.2,181.36 399.8,180.75 400.4,180.66 401,180.91 401.6,180.78 402.2,180.77 402.8,180.58 403.4,180.63 404,179.87 404.6,179.71 405.2,179.76 405.8,180.06 406.4,179.45 407,179.62 407.62,179.62 408.25,178.91 408.88,179.02 409.5,179.15 410.12,178.82 410.75,178.31 411.38,178.18 412,177.79 412.67,178.27 413.34,177.93 414.01,177.66 414.69,177.12 415.36,177.38 416.03,176.96 416.7,177.11 417.43,176.1 418.15,176.13 418.88,175.36 419.6,174.54 420.27,169.83 420.93,165.39 421.6,160.06 422.5,150.06 423.4,136.71 424.15,134.49 424.9,129.41 425.6,132.37 426.3,136.94 427.15,147.18 428,159.69 428.6,166.02 429.2,171.78 429.8,176.87 430.43,179.42 431.07,181.09 431.7,183 431.7,183" fill="#c2c2c2" stroke="#6a6a6a" stroke-width="0.65" stroke-linejoin="round"/>
<polyline points="389.4,181.86 389.83,181.62 390.27,181.28 390.7,181.47 391.13,180.95 391.57,180.6 392,180.54 392.44,179.7 392.88,180.39 393.31,179.94 393.75,179.18 394.19,178.64 394.62,178.05 395.06,178.14 395.5,177.34 395.94,178.02 396.38,177.61 396.81,176.81 397.25,176.61 397.69,174.79 398.12,174.46 398.56,174.49 399,173.63 399.43,173.75 399.86,174.48 400.29,173.68 400.71,173.49 401.14,171.33 401.57,170.83 402,169.86 402.5,170.05 403,169.11 403.5,169.87 404,168.89 404.45,170.38 404.9,170.65 405.35,171.28 405.8,171.13 406.33,172.93 406.87,173.61 407.4,174.45 407.84,173.38 408.28,172.8 408.72,171.83 409.16,170.69 409.6,171.12 410.08,170.96 410.56,169.39 411.04,170.55 411.52,170.09 412,169.52 412.48,169.89 412.96,169.53 413.44,169.24 413.92,169.96 414.4,171.57 414.83,172.8 415.27,171.45 415.7,171.91 416.13,173.35 416.57,174.02 417,175.19 417.43,174.65 417.87,176.45 418.3,175.9 418.73,177.33 419.17,176.7 419.6,177.07 420.1,175.55 420.6,175.83 421.1,173.84 421.6,173.14 422.05,168.97 422.5,167.81 422.95,166.02 423.4,164.47 423.88,162.24 424.35,157.38 424.82,156.11 425.3,156.19 425.73,156.39 426.17,159.67 426.6,159.2 427.13,162.59 427.67,169.18 428.2,171.46 428.65,174.13 429.1,175.74 429.55,178.12 430,180.56 430.43,181.1 430.85,181.55 431.27,181.51 431.7,182.53 432.17,182.02 432.64,182.36 433.11,182.76 433.59,182.38 434.06,182.51 434.53,182.69 435,182.7" fill="none" stroke="#000" stroke-width="0.806" stroke-linejoin="round"/>
<polyline points="389.4,181.95 389.83,182.16 390.27,181.85 390.7,180.89 391.13,181.7 391.57,180.26 392,180.89 392.44,179.98 392.88,179.25 393.31,178.73 393.75,180.02 394.19,179.3 394.62,178.27 395.06,178.58 395.5,178.6 395.94,178.14 396.38,176.87 396.81,175.88 397.25,176.04 397.69,176.78 398.12,175.78 398.56,175.24 399,175.3 399.43,173.67 399.86,173.59 400.29,173.93 400.71,171.59 401.14,173.03 401.57,170.06 402,171.11 402.4,170.91 402.8,169.25 403.2,171.38 403.6,169.53 404,168.38 404.45,169.67 404.9,170.78 405.35,170.83 405.8,170.12 406.2,171.01 406.6,173.4 407,172.38 407.4,173.35 407.84,174.29 408.28,173.9 408.72,173.43 409.16,170.79 409.6,169.7 410,171.55 410.4,170.64 410.8,169.47 411.2,167.91 411.6,168.81 412,167.73 412.4,169.29 412.8,170.96 413.2,168.87 413.6,168.86 414,171.2 414.4,169.8 414.83,170.84 415.27,172.16 415.7,174.37 416.13,173.19 416.57,173.85 417,174.94 417.43,174.56 417.87,175.56 418.3,176.67 418.73,176.2 419.17,177.66 419.6,176.72 420,175.47 420.4,175.72 420.8,174.28 421.2,174.55 421.6,171.26 422.05,170.83 422.5,168.28 422.95,164.88 423.4,161.56 423.88,161.31 424.35,159.8 424.82,156.43 425.3,154.27 425.73,157.09 426.17,158.6 426.6,159.68 427,161.78 427.4,165.87 427.8,169.16 428.2,173.16 428.65,175.33 429.1,176.14 429.55,177.65 430,179.54 430.43,180.77 430.85,181.47 431.27,181.43 431.7,182.47 432.11,182.79 432.52,182.31 432.94,182.8 433.35,182.45 433.76,182.67 434.18,182.8 434.59,182.44 435,182.7" fill="none" stroke="#000" stroke-width="0.806" stroke-linejoin="round"/>
<polyline points="389.4,182.02 389.77,182.6 390.14,181.14 390.51,181.22 390.89,181.25 391.26,181.47 391.63,181.06 392,181.38 392.39,180.59 392.78,178.93 393.17,178.69 393.56,178.25 393.94,178.78 394.33,177.48 394.72,178.33 395.11,178.27 395.5,176.83 395.89,178.19 396.28,176.65 396.67,177.82 397.06,175.77 397.44,176.18 397.83,175.59 398.22,174.38 398.61,175.63 399,172.82 399.38,173.16 399.75,172.95 400.12,174.43 400.5,172.7 400.88,170.64 401.25,171.13 401.62,171.83 402,172.15 402.4,169.21 402.8,171.42 403.2,169.62 403.6,169.81 404,169.09 404.36,169.6 404.72,172.15 405.08,172.3 405.44,172.71 405.8,172.46 406.2,172.91 406.6,171.56 407,171.84 407.4,175.08 407.77,174.11 408.13,173.51 408.5,171.95 408.87,171.31 409.23,173.19 409.6,171.32 410,168.96 410.4,169.72 410.8,169.31 411.2,167.77 411.6,170.94 412,170.23 412.4,170.26 412.8,167.45 413.2,169.48 413.6,168.71 414,171.45 414.4,172.15 414.77,172.62 415.14,173.18 415.51,171.4 415.89,171.64 416.26,172.52 416.63,175.52 417,176.02 417.37,175.39 417.74,174.9 418.11,177.07 418.49,175.29 418.86,176.23 419.23,175.71 419.6,178.67 420,176.16 420.4,176.22 420.8,175.36 421.2,173.67 421.6,174.11 422.05,171.11 422.5,169.48 422.95,167.41 423.4,161.03 423.78,162.51 424.16,158.17 424.54,156.92 424.92,155.26 425.3,157.13 425.73,153.89 426.17,157.79 426.6,158.13 427,165.35 427.4,165.98 427.8,169.81 428.2,172.07 428.56,174.49 428.92,174.7 429.28,176.56 429.64,178.99 430,180.41 430.43,181.28 430.85,180.84 431.27,182.21 431.7,182.56 432.07,182.42 432.43,182.29 432.8,182.5 433.17,182.05 433.53,182.13 433.9,182.39 434.27,182.27 434.63,182.26 435,182.7" fill="none" stroke="#000" stroke-width="0.806" stroke-linejoin="round"/>
<polyline points="389.4,182.5 389.77,182.32 390.14,181.93 390.51,181 390.89,181.7 391.26,181.7 391.63,181.07 392,180.01 392.35,180.45 392.7,179.75 393.05,179.13 393.4,178.5 393.75,180.06 394.1,179.16 394.45,179.72 394.8,177.25 395.15,177.2 395.5,177.63 395.85,175.9 396.2,176.33 396.55,176.77 396.9,176.26 397.25,177.4 397.6,175.95 397.95,175.85 398.3,175.35 398.65,175.78 399,173.9 399.33,172.11 399.67,175.52 400,174.43 400.33,171.38 400.67,170.91 401,170.97 401.33,172.43 401.67,169.78 402,168.89 402.33,170.71 402.67,168.26 403,169.11 403.33,169.4 403.67,168.31 404,167.09 404.36,168.74 404.72,169.13 405.08,169.94 405.44,170.79 405.8,171 406.2,171.47 406.6,170.84 407,174.73 407.4,174.92 407.77,173.51 408.13,171.07 408.5,171.5 408.87,173.81 409.23,171.48 409.6,169.92 409.94,172.24 410.29,172.21 410.63,168.37 410.97,169.72 411.31,169.63 411.66,167.17 412,167.74 412.34,169.5 412.69,170.1 413.03,170.22 413.37,170.52 413.71,169.77 414.06,168.74 414.4,168.88 414.77,173.02 415.14,173.67 415.51,174.37 415.89,171.6 416.26,174.9 416.63,173.2 417,174.44 417.37,174.27 417.74,176.94 418.11,177.12 418.49,177.48 418.86,176.33 419.23,178.45 419.6,176.66 419.93,176.81 420.27,176.34 420.6,173.92 420.93,173.61 421.27,171.64 421.6,173.63 421.96,169.11 422.32,166.91 422.68,165.64 423.04,165.62 423.4,163.76 423.78,161.42 424.16,161.68 424.54,159.4 424.92,154.26 425.3,154.63 425.73,154.16 426.17,156.54 426.6,157.9 427,160.65 427.4,165.23 427.8,170.82 428.2,172.66 428.56,171.98 428.92,174.19 429.28,177.1 429.64,178.48 430,178.88 430.34,179.57 430.68,181.05 431.02,181.56 431.36,181.17 431.7,182.66 432.03,182.01 432.36,182.49 432.69,182.46 433.02,182.27 433.35,182.8 433.68,182.42 434.01,182.5 434.34,182.66 434.67,182.8 435,182.7" fill="none" stroke="#000" stroke-width="0.806" stroke-linejoin="round"/>
<line x1="389.2" y1="127.4" x2="389.2" y2="183" stroke="#999" stroke-width="0.8"/>
<line x1="389.2" y1="183" x2="443.5" y2="183" stroke="#999" stroke-width="0.8"/>
<text x="387.5" y="129.2" font-size="3.3" text-anchor="middle" fill="#111" transform="rotate(-90 387.5 129.2)">200</text>
<text x="387.1" y="183.7" font-size="3.0" text-anchor="middle" fill="#000" transform="rotate(-90 387.1 183.7)">0</text>
<line x1="388.2" y1="127.4" x2="389.2" y2="127.4" stroke="#999" stroke-width="0.5"/>
<text x="389.8" y="187.2" font-size="3.5" text-anchor="middle" fill="#333">10&#8304;</text>
<line x1="389.2" y1="183" x2="389.2" y2="184.2" stroke="#999" stroke-width="0.5"/>
<text x="403.17" y="187.2" font-size="3.5" text-anchor="middle" fill="#333">10&#185;</text>
<line x1="402.57" y1="183" x2="402.57" y2="184.2" stroke="#999" stroke-width="0.5"/>
<text x="416.54" y="187.2" font-size="3.5" text-anchor="middle" fill="#333">10&#178;</text>
<line x1="415.94" y1="183" x2="415.94" y2="184.2" stroke="#999" stroke-width="0.5"/>
<text x="429.91" y="187.2" font-size="3.5" text-anchor="middle" fill="#333">10&#179;</text>
<line x1="429.31" y1="183" x2="429.31" y2="184.2" stroke="#999" stroke-width="0.5"/>
<text x="443.29" y="187.2" font-size="3.5" text-anchor="middle" fill="#333">10&#8308;</text>
<line x1="442.69" y1="183" x2="442.69" y2="184.2" stroke="#999" stroke-width="0.5"/>
<polygon points="412.28,163.48 407.76,162.78 409.31,161.79 407.12,159.59 408.39,158.32 410.59,160.51 411.58,158.96" fill="#000" stroke="#000" stroke-width="0.4" stroke-linejoin="round"/>
<polygon points="462.6,183 462.6,182.26 463.23,181.93 463.86,181.57 464.49,181.46 465.11,181.18 465.74,181.19 466.37,180.99 467,180.61 467.62,179.92 468.25,179.96 468.88,179.6 469.5,179.16 470.12,179.41 470.75,178.63 471.38,178.86 472,178.39 472.62,178.05 473.25,178.07 473.88,177.82 474.5,177.85 475.12,177.59 475.75,177.1 476.38,176.2 477,176.4 477.62,175.94 478.25,176.25 478.88,175.38 479.5,175.02 480.12,174.33 480.75,174.66 481.38,174.49 482,173.94 482.67,173.77 483.33,174.38 484,173.93 484.67,174.16 485.33,174.63 486,174.6 486.6,174.44 487.2,174.12 487.8,173.57 488.4,172.84 489,172.31 489.8,167.6 490.6,162.95 491.4,154.49 492.2,147.62 492.95,144.41 493.7,142.48 494.45,144.38 495.2,147.78 495.8,150.79 496.4,156.18 497,161.4 497.6,166.43 498.2,171.18 498.8,175.86 499.47,178.81 500.13,180.62 500.8,183 500.8,183" fill="#c2c2c2" stroke="#6a6a6a" stroke-width="0.65" stroke-linejoin="round"/>
<polyline points="462.6,181.69 463.05,181.05 463.5,179.35 463.95,178.04 464.4,177.33 464.9,174.95 465.4,172.9 465.9,174.1 466.4,171.7 466.83,171.18 467.27,168.95 467.7,170.36 468.13,168.53 468.57,168.73 469,166.88 469.43,168.63 469.86,166.41 470.29,165.72 470.71,167.48 471.14,164.77 471.57,164.56 472,164.95 472.43,166.36 472.86,162.86 473.29,162.82 473.71,164.61 474.14,161.56 474.57,162.45 475,163.48 475.43,162.84 475.86,162.79 476.29,159.79 476.71,162.45 477.14,159.98 477.57,161.42 478,159.69 478.43,161.63 478.87,160.25 479.3,159.64 479.73,159.49 480.17,161.12 480.6,159.65 481.07,160.64 481.53,163.89 482,163.28 482.47,164.88 482.93,162.79 483.4,164.53 483.87,165.22 484.33,164.71 484.8,166 485.27,168.94 485.73,168.99 486.2,169.03 486.67,170.11 487.13,171.62 487.6,172.63 488.07,172.33 488.53,171.6 489,174.58 489.43,173.25 489.86,173.98 490.29,174.26 490.71,175.69 491.14,176.36 491.57,176.6 492,177.14 492.45,176.83 492.9,178.39 493.35,178.4 493.8,178.34 494.25,179.67 494.7,180.2 495.15,180.51 495.6,180.95 496.04,179.77 496.48,180.46 496.92,180.76 497.36,180.72 497.8,181.56 498.24,181.95 498.68,181.26 499.12,181.89 499.56,182.55 500,182.64 500.45,182.29 500.91,182.04 501.36,182.37 501.82,182.46 502.27,182.71 502.73,182.28 503.18,182.39 503.64,182.8 504.09,182.28 504.55,182.74 505,182.7" fill="none" stroke="#000" stroke-width="0.806" stroke-linejoin="round"/>
<polyline points="462.6,181 463.05,180.83 463.5,178.93 463.95,178.94 464.4,175.82 464.8,176.74 465.2,173.73 465.6,172.07 466,171.14 466.4,170.04 466.83,170.51 467.27,172.1 467.7,169.02 468.13,169.81 468.57,166.33 469,167.67 469.43,167.4 469.86,165.12 470.29,166.84 470.71,165.88 471.14,164.97 471.57,166.86 472,165.87 472.43,162.88 472.86,162.43 473.29,161.79 473.71,162.39 474.14,163.79 474.57,165.03 475,164.68 475.43,163.81 475.86,159.8 476.29,162.74 476.71,162.23 477.14,160.4 477.57,162.7 478,160.31 478.43,158.12 478.87,158.89 479.3,158.73 479.73,161.42 480.17,161.75 480.6,163.18 481,159.45 481.4,159.93 481.8,165.05 482.2,162.1 482.6,162.57 483,165.85 483.4,162.81 483.8,166.56 484.2,167.63 484.6,166.76 485,167.58 485.4,165.66 485.8,168.81 486.2,169.46 486.6,170.73 487,170.38 487.4,169.51 487.8,170.61 488.2,172.83 488.6,171.48 489,172.27 489.43,173.29 489.86,175.58 490.29,175.29 490.71,175.23 491.14,177.53 491.57,176.91 492,176.49 492.4,177.71 492.8,178.78 493.2,177.87 493.6,178.38 494,179.05 494.4,180.3 494.8,179.83 495.2,179.21 495.6,180.36 496,180.05 496.4,180.53 496.8,181.15 497.2,180.14 497.6,181.17 498,181.05 498.4,181.69 498.8,182.18 499.2,181.87 499.6,182.27 500,182.06 500.42,182.06 500.83,182.38 501.25,182.43 501.67,182.14 502.08,182.74 502.5,182.5 502.92,182.39 503.33,182.33 503.75,182.8 504.17,182.8 504.58,182.8 505,182.7" fill="none" stroke="#000" stroke-width="0.806" stroke-linejoin="round"/>
<polyline points="462.6,181.15 463.05,179.34 463.5,179.46 463.95,176.36 464.4,177.83 464.8,176.26 465.2,173.96 465.6,173.36 466,173.39 466.4,170.07 466.77,170.41 467.14,171.8 467.51,170.75 467.89,169.73 468.26,166.77 468.63,166.74 469,166.34 469.38,164.83 469.75,167.69 470.12,167.01 470.5,168.57 470.88,166.27 471.25,167.93 471.62,165.15 472,165.1 472.38,163.45 472.75,164.15 473.12,166.51 473.5,163.63 473.88,160.5 474.25,162.2 474.62,160.95 475,163.13 475.38,162.13 475.75,161.6 476.12,164.01 476.5,162.7 476.88,158.25 477.25,157.55 477.62,161.37 478,160.41 478.37,160.98 478.74,160.26 479.11,157.62 479.49,160.42 479.86,162.99 480.23,161.79 480.6,158.64 481,159.61 481.4,164.71 481.8,163.03 482.2,161.28 482.6,164.87 483,166.55 483.4,166.65 483.8,166.03 484.2,167.52 484.6,164.29 485,166.92 485.4,169.34 485.8,167.57 486.2,167.24 486.6,171.42 487,171.28 487.4,168.71 487.8,169.67 488.2,172.54 488.6,174.87 489,174.08 489.38,175.56 489.75,172.95 490.12,175.24 490.5,174.21 490.88,175.24 491.25,175.06 491.62,176.63 492,175.7 492.36,178.01 492.72,178.26 493.08,179.34 493.44,179.2 493.8,177.47 494.16,180.03 494.52,179.42 494.88,180.74 495.24,179.88 495.6,179.19 495.97,180.85 496.33,179.81 496.7,181.79 497.07,180.98 497.43,181.9 497.8,181.24 498.17,181.1 498.53,181.89 498.9,182.13 499.27,181.89 499.63,181.79 500,182.19 500.38,182.62 500.77,182 501.15,181.94 501.54,182.4 501.92,182.65 502.31,181.95 502.69,182.24 503.08,182.8 503.46,182.31 503.85,182.8 504.23,182.43 504.62,182.23 505,182.7" fill="none" stroke="#000" stroke-width="0.806" stroke-linejoin="round"/>
<polyline points="462.6,181.57 462.96,181.58 463.32,180.45 463.68,177.04 464.04,178.37 464.4,177.09 464.73,175.69 465.07,175.68 465.4,174.2 465.73,171.71 466.07,173.43 466.4,169.64 466.77,170 467.14,172.4 467.51,170.27 467.89,169.38 468.26,169.97 468.63,168.13 469,166.89 469.33,167.63 469.67,164.07 470,165.81 470.33,163.55 470.67,169.3 471,168.47 471.33,166.57 471.67,163.07 472,167.32 472.33,163.28 472.67,166.45 473,165.14 473.33,164.55 473.67,165.19 474,161.68 474.33,165.28 474.67,162.98 475,164.19 475.33,164.49 475.67,160.09 476,160.9 476.33,160.25 476.67,157.91 477,163.39 477.33,161.73 477.67,160.01 478,160.13 478.37,162.81 478.74,157.12 479.11,159.45 479.49,162.06 479.86,161.19 480.23,161.15 480.6,159.68 480.95,159.84 481.3,163.39 481.65,161.5 482,166.01 482.35,166.14 482.7,166.97 483.05,162.71 483.4,164.7 483.75,162.57 484.1,164.8 484.45,163.56 484.8,166.81 485.15,170.15 485.5,169.48 485.85,167.64 486.2,167.7 486.55,172.04 486.9,167.65 487.25,172.61 487.6,173.21 487.95,169.62 488.3,174.75 488.65,173.75 489,173.06 489.33,173.65 489.67,174.9 490,174.92 490.33,176.84 490.67,177.32 491,175.27 491.33,174.37 491.67,177.92 492,177.77 492.36,178.09 492.72,176.22 493.08,176.57 493.44,179.8 493.8,178.24 494.16,178.91 494.52,180.81 494.88,178.66 495.24,180.3 495.6,178.96 495.94,180.53 496.28,181.16 496.62,179.79 496.95,181.5 497.29,182.16 497.63,181.94 497.97,181.99 498.31,182.47 498.65,182.11 498.98,181.91 499.32,182.59 499.66,182.68 500,182.51 500.33,182.6 500.67,181.85 501,182.13 501.33,182.14 501.67,182.8 502,182.8 502.33,182.18 502.67,182.8 503,181.92 503.33,181.97 503.67,182.36 504,182.07 504.33,182.8 504.67,182.5 505,182.7" fill="none" stroke="#000" stroke-width="0.806" stroke-linejoin="round"/>
<line x1="462.4" y1="127.4" x2="462.4" y2="183" stroke="#999" stroke-width="0.8"/>
<line x1="462.4" y1="183" x2="515" y2="183" stroke="#999" stroke-width="0.8"/>
<text x="460.7" y="129.2" font-size="3.3" text-anchor="middle" fill="#111" transform="rotate(-90 460.7 129.2)">200</text>
<text x="460.3" y="183.7" font-size="3.0" text-anchor="middle" fill="#000" transform="rotate(-90 460.3 183.7)">0</text>
<line x1="461.4" y1="127.4" x2="462.4" y2="127.4" stroke="#999" stroke-width="0.5"/>
<text x="463" y="187.2" font-size="3.5" text-anchor="middle" fill="#333">10&#8304;</text>
<line x1="462.4" y1="183" x2="462.4" y2="184.2" stroke="#999" stroke-width="0.5"/>
<text x="475.95" y="187.2" font-size="3.5" text-anchor="middle" fill="#333">10&#185;</text>
<line x1="475.35" y1="183" x2="475.35" y2="184.2" stroke="#999" stroke-width="0.5"/>
<text x="488.91" y="187.2" font-size="3.5" text-anchor="middle" fill="#333">10&#178;</text>
<line x1="488.31" y1="183" x2="488.31" y2="184.2" stroke="#999" stroke-width="0.5"/>
<text x="501.86" y="187.2" font-size="3.5" text-anchor="middle" fill="#333">10&#179;</text>
<line x1="501.26" y1="183" x2="501.26" y2="184.2" stroke="#999" stroke-width="0.5"/>
<text x="514.81" y="187.2" font-size="3.5" text-anchor="middle" fill="#333">10&#8308;</text>
<line x1="514.21" y1="183" x2="514.21" y2="184.2" stroke="#999" stroke-width="0.5"/>
<polygon points="478.88,155.28 474.36,154.58 475.91,153.59 473.72,151.39 474.99,150.12 477.19,152.31 478.18,150.76" fill="#000" stroke="#000" stroke-width="0.4" stroke-linejoin="round"/>
<text x="238.5" y="216.8" font-size="18.8" font-weight="bold" text-anchor="start" fill="#000" stroke="#000" stroke-width="0.2">E</text>
<line x1="271.6" y1="224.6" x2="271.6" y2="341.2" stroke="#777" stroke-width="0.9"/>
<line x1="271.6" y1="341.2" x2="410.6" y2="341.2" stroke="#777" stroke-width="0.9"/>
<line x1="269.4" y1="341.2" x2="271.6" y2="341.2" stroke="#777" stroke-width="0.7"/>
<line x1="270.3" y1="326.68" x2="271.6" y2="326.68" stroke="#777" stroke-width="0.7"/>
<line x1="269.4" y1="312.15" x2="271.6" y2="312.15" stroke="#777" stroke-width="0.7"/>
<line x1="270.3" y1="297.62" x2="271.6" y2="297.62" stroke="#777" stroke-width="0.7"/>
<line x1="269.4" y1="283.1" x2="271.6" y2="283.1" stroke="#777" stroke-width="0.7"/>
<line x1="270.3" y1="268.57" x2="271.6" y2="268.57" stroke="#777" stroke-width="0.7"/>
<line x1="269.4" y1="254.05" x2="271.6" y2="254.05" stroke="#777" stroke-width="0.7"/>
<line x1="270.3" y1="239.52" x2="271.6" y2="239.52" stroke="#777" stroke-width="0.7"/>
<line x1="269.4" y1="225" x2="271.6" y2="225" stroke="#777" stroke-width="0.7"/>
<text x="264.4" y="343.65" font-size="6.1" font-weight="bold" text-anchor="end" fill="#000" stroke="#000" stroke-width="0.3">0</text>
<text x="264.4" y="314.6" font-size="6.1" font-weight="bold" text-anchor="end" fill="#000" stroke="#000" stroke-width="0.3">1000</text>
<text x="264.4" y="285.55" font-size="6.1" font-weight="bold" text-anchor="end" fill="#000" stroke="#000" stroke-width="0.3">2000</text>
<text x="264.4" y="256.5" font-size="6.1" font-weight="bold" text-anchor="end" fill="#000" stroke="#000" stroke-width="0.3">3000</text>
<text x="264.4" y="227.45" font-size="6.1" font-weight="bold" text-anchor="end" fill="#000" stroke="#000" stroke-width="0.3">4000</text>
<line x1="271.6" y1="341.2" x2="271.6" y2="343.4" stroke="#777" stroke-width="0.6"/>
<line x1="279.77" y1="341.2" x2="279.77" y2="342.4" stroke="#777" stroke-width="0.6"/>
<line x1="287.94" y1="341.2" x2="287.94" y2="342.4" stroke="#777" stroke-width="0.6"/>
<line x1="296.11" y1="341.2" x2="296.11" y2="342.4" stroke="#777" stroke-width="0.6"/>
<line x1="304.28" y1="341.2" x2="304.28" y2="342.4" stroke="#777" stroke-width="0.6"/>
<line x1="312.45" y1="341.2" x2="312.45" y2="342.4" stroke="#777" stroke-width="0.6"/>
<line x1="320.62" y1="341.2" x2="320.62" y2="342.4" stroke="#777" stroke-width="0.6"/>
<line x1="328.79" y1="341.2" x2="328.79" y2="343.4" stroke="#777" stroke-width="0.6"/>
<line x1="336.96" y1="341.2" x2="336.96" y2="342.4" stroke="#777" stroke-width="0.6"/>
<line x1="345.13" y1="341.2" x2="345.13" y2="342.4" stroke="#777" stroke-width="0.6"/>
<line x1="353.3" y1="341.2" x2="353.3" y2="342.4" stroke="#777" stroke-width="0.6"/>
<line x1="361.47" y1="341.2" x2="361.47" y2="342.4" stroke="#777" stroke-width="0.6"/>
<line x1="369.64" y1="341.2" x2="369.64" y2="342.4" stroke="#777" stroke-width="0.6"/>
<line x1="377.81" y1="341.2" x2="377.81" y2="342.4" stroke="#777" stroke-width="0.6"/>
<line x1="385.98" y1="341.2" x2="385.98" y2="343.4" stroke="#777" stroke-width="0.6"/>
<line x1="394.15" y1="341.2" x2="394.15" y2="342.4" stroke="#777" stroke-width="0.6"/>
<line x1="402.32" y1="341.2" x2="402.32" y2="342.4" stroke="#777" stroke-width="0.6"/>
<line x1="410.49" y1="341.2" x2="410.49" y2="342.4" stroke="#777" stroke-width="0.6"/>
<text x="271.6" y="353.4" font-size="6.1" font-weight="bold" text-anchor="middle" fill="#000" stroke="#000" stroke-width="0.3">0</text>
<text x="328.79" y="353.4" font-size="6.1" font-weight="bold" text-anchor="middle" fill="#000" stroke="#000" stroke-width="0.3">7</text>
<text x="385.98" y="353.4" font-size="6.1" font-weight="bold" text-anchor="middle" fill="#000" stroke="#000" stroke-width="0.3">14</text>
<text x="341.8" y="362.6" font-size="7.9" font-weight="bold" text-anchor="middle" fill="#000" stroke="#000" stroke-width="0.3">Treatment days</text>
<text x="245.9" y="282.4" font-size="8.0" font-weight="bold" text-anchor="middle" fill="#000" transform="rotate(-90 245.9 282.4)" stroke="#000" stroke-width="0.3">Tumor size (mm&#179;)</text>
<line x1="271.6" y1="337.13" x2="271.6" y2="331.9" stroke="#444" stroke-width="0.8"/>
<line x1="270" y1="337.13" x2="273.2" y2="337.13" stroke="#333" stroke-width="0.8"/>
<line x1="270" y1="331.9" x2="273.2" y2="331.9" stroke="#333" stroke-width="0.8"/>
<line x1="296.11" y1="328.13" x2="296.11" y2="315.06" stroke="#444" stroke-width="0.8"/>
<line x1="294.51" y1="328.13" x2="297.71" y2="328.13" stroke="#333" stroke-width="0.8"/>
<line x1="294.51" y1="315.06" x2="297.71" y2="315.06" stroke="#333" stroke-width="0.8"/>
<line x1="328.79" y1="310.7" x2="328.79" y2="290.36" stroke="#444" stroke-width="0.8"/>
<line x1="327.19" y1="310.7" x2="330.39" y2="310.7" stroke="#333" stroke-width="0.8"/>
<line x1="327.19" y1="290.36" x2="330.39" y2="290.36" stroke="#333" stroke-width="0.8"/>
<line x1="353.3" y1="284.55" x2="353.3" y2="261.02" stroke="#444" stroke-width="0.8"/>
<line x1="351.7" y1="284.55" x2="354.9" y2="284.55" stroke="#333" stroke-width="0.8"/>
<line x1="351.7" y1="261.02" x2="354.9" y2="261.02" stroke="#333" stroke-width="0.8"/>
<line x1="385.98" y1="271.48" x2="385.98" y2="231.39" stroke="#444" stroke-width="0.8"/>
<line x1="384.38" y1="271.48" x2="387.58" y2="271.48" stroke="#333" stroke-width="0.8"/>
<line x1="384.38" y1="231.39" x2="387.58" y2="231.39" stroke="#333" stroke-width="0.8"/>
<line x1="271.6" y1="338.88" x2="271.6" y2="334.23" stroke="#444" stroke-width="0.8"/>
<line x1="270" y1="338.88" x2="273.2" y2="338.88" stroke="#333" stroke-width="0.8"/>
<line x1="270" y1="334.23" x2="273.2" y2="334.23" stroke="#333" stroke-width="0.8"/>
<line x1="296.11" y1="336.55" x2="296.11" y2="322.03" stroke="#444" stroke-width="0.8"/>
<line x1="294.51" y1="336.55" x2="297.71" y2="336.55" stroke="#333" stroke-width="0.8"/>
<line x1="294.51" y1="322.03" x2="297.71" y2="322.03" stroke="#333" stroke-width="0.8"/>
<line x1="328.79" y1="339.17" x2="328.79" y2="316.22" stroke="#444" stroke-width="0.8"/>
<line x1="327.19" y1="339.17" x2="330.39" y2="339.17" stroke="#333" stroke-width="0.8"/>
<line x1="327.19" y1="316.22" x2="330.39" y2="316.22" stroke="#333" stroke-width="0.8"/>
<line x1="353.3" y1="337.71" x2="353.3" y2="306.34" stroke="#444" stroke-width="0.8"/>
<line x1="351.7" y1="337.71" x2="354.9" y2="337.71" stroke="#333" stroke-width="0.8"/>
<line x1="351.7" y1="306.34" x2="354.9" y2="306.34" stroke="#333" stroke-width="0.8"/>
<line x1="385.98" y1="332.19" x2="385.98" y2="298.21" stroke="#444" stroke-width="0.8"/>
<line x1="384.38" y1="332.19" x2="387.58" y2="332.19" stroke="#333" stroke-width="0.8"/>
<line x1="384.38" y1="298.21" x2="387.58" y2="298.21" stroke="#333" stroke-width="0.8"/>
<polyline points="271.6,334.95 296.11,321.16 328.79,299.51 353.3,273.22 385.98,251.87" fill="none" stroke="#222" stroke-width="1.0" stroke-linejoin="round" stroke-dasharray="2.6 1.5"/>
<polyline points="271.6,336.84 296.11,329.29 328.79,327.55 353.3,321.16 385.98,314.76" fill="none" stroke="#3a3a3a" stroke-width="0.85" stroke-linejoin="round"/>
<circle cx="271.6" cy="334.95" r="1.4" fill="#fff" stroke="#222" stroke-width="0.7"/>
<circle cx="296.11" cy="321.16" r="1.4" fill="#fff" stroke="#222" stroke-width="0.7"/>
<circle cx="328.79" cy="299.51" r="1.4" fill="#fff" stroke="#222" stroke-width="0.7"/>
<circle cx="353.3" cy="273.22" r="1.4" fill="#fff" stroke="#222" stroke-width="0.7"/>
<circle cx="385.98" cy="251.87" r="1.4" fill="#fff" stroke="#222" stroke-width="0.7"/>
<circle cx="271.6" cy="336.84" r="1.4" fill="#000"/>
<circle cx="296.11" cy="329.29" r="1.4" fill="#000"/>
<circle cx="328.79" cy="327.55" r="1.4" fill="#000"/>
<circle cx="353.3" cy="321.16" r="1.4" fill="#000"/>
<circle cx="385.98" cy="314.76" r="1.4" fill="#000"/>
<rect x="400.3" y="266.8" width="62.9" height="21.6" fill="#fff" stroke="#555" stroke-width="0.8"/>
<line x1="403" y1="272.9" x2="418" y2="272.9" stroke="#444" stroke-width="0.8" stroke-dasharray="2.4 1.6"/>
<circle cx="410.8" cy="272.9" r="1.4" fill="#fff" stroke="#222" stroke-width="0.7"/>
<text x="420.3" y="275.4" font-size="7.45" font-weight="bold" text-anchor="start" fill="#000" stroke="#000" stroke-width="0.3">mock</text>
<line x1="403" y1="282.5" x2="418" y2="282.5" stroke="#555" stroke-width="0.8"/>
<circle cx="410.8" cy="282.5" r="1.4" fill="#000"/>
<text x="420.3" y="285" font-size="7.45" font-weight="bold" text-anchor="start" fill="#000" stroke="#000" stroke-width="0.3">bortezomib</text>
</g></svg></body></html>
